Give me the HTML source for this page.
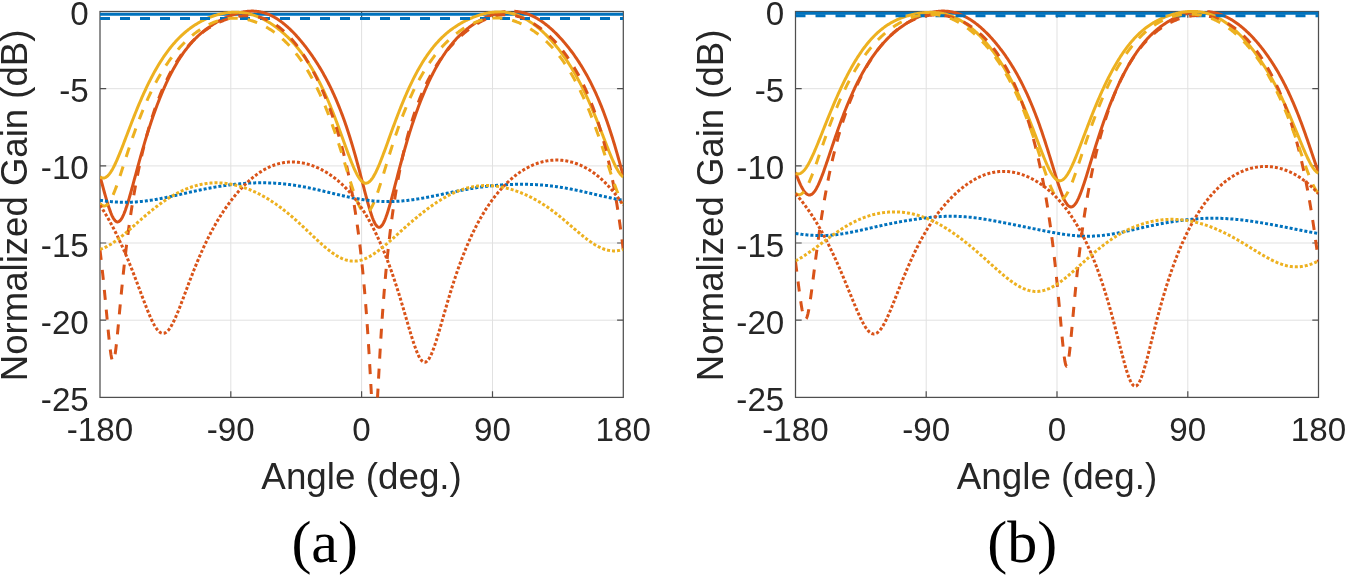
<!DOCTYPE html>
<html lang="en"><head><meta charset="utf-8"><title>Normalized Gain vs Angle</title>
<style>html,body{margin:0;padding:0;background:#fff;}body{width:1345px;height:575px;overflow:hidden;}svg{display:block;will-change:transform;}</style>
</head><body>
<svg role="img" aria-label="Normalized gain versus angle, panels (a) and (b)" width="1345" height="575" viewBox="0 0 1345 575">
<rect width="1345" height="575" fill="#fff"/>
<clipPath id="clip_a"><rect x="100.0" y="8.5" width="523.3" height="388.9"/></clipPath>
<path d="M230.8 11.5 V397.4 M361.6 11.5 V397.4 M492.5 11.5 V397.4 M100.0 88.7 H623.3 M100.0 165.9 H623.3 M100.0 243.0 H623.3 M100.0 320.2 H623.3" stroke="#E1E1E1" stroke-width="1" fill="none"/>
<path d="M230.8 397.4 v-6.2 M230.8 11.5 v6.2 M361.6 397.4 v-6.2 M361.6 11.5 v6.2 M492.5 397.4 v-6.2 M492.5 11.5 v6.2 M100.0 88.7 h6.2 M623.3 88.7 h-6.2 M100.0 165.9 h6.2 M623.3 165.9 h-6.2 M100.0 243.0 h6.2 M623.3 243.0 h-6.2 M100.0 320.2 h6.2 M623.3 320.2 h-6.2" stroke="#4f4f4f" stroke-width="1.2" fill="none"/>
<rect x="100.0" y="11.5" width="523.3" height="385.9" fill="none" stroke="#4f4f4f" stroke-width="1.25"/>
<g clip-path="url(#clip_a)" fill="none" stroke-width="3" stroke-linejoin="round">
<path d="M100.00 14.28 L623.30 14.28" stroke="#0072BD"/>
<path d="M100.00 176.13 L100.73 178.84 L101.45 181.55 L102.18 184.25 L102.91 186.94 L103.63 189.61 L104.36 192.26 L105.09 194.86 L105.81 197.42 L106.54 199.92 L107.27 202.35 L107.99 204.70 L108.72 206.95 L109.45 209.10 L110.18 211.13 L110.90 213.02 L111.63 214.77 L112.36 216.35 L113.08 217.76 L113.81 218.98 L114.54 220.00 L115.26 220.82 L115.99 221.42 L116.72 221.80 L117.44 221.95 L118.17 221.88 L118.90 221.59 L119.62 221.07 L120.35 220.33 L121.08 219.39 L121.80 218.25 L122.53 216.91 L123.26 215.41 L123.98 213.73 L124.71 211.91 L125.44 209.95 L126.16 207.86 L126.89 205.67 L127.62 203.38 L128.35 201.00 L129.07 198.55 L129.80 196.04 L130.53 193.47 L131.25 190.87 L131.98 188.23 L132.71 185.57 L133.43 182.89 L134.16 180.19 L134.89 177.50 L135.61 174.80 L136.34 172.10 L137.07 169.42 L137.79 166.74 L138.52 164.08 L139.25 161.44 L139.97 158.82 L140.70 156.22 L141.43 153.64 L142.15 151.09 L142.88 148.57 L143.61 146.07 L144.34 143.60 L145.06 141.16 L145.79 138.75 L146.52 136.37 L147.24 134.02 L147.97 131.70 L148.70 129.41 L149.42 127.15 L150.15 124.92 L150.88 122.73 L151.60 120.56 L152.33 118.43 L153.06 116.32 L153.78 114.25 L154.51 112.21 L155.24 110.20 L155.96 108.21 L156.69 106.26 L157.42 104.34 L158.14 102.44 L158.87 100.58 L159.60 98.74 L160.32 96.94 L161.05 95.16 L161.78 93.41 L162.51 91.68 L163.23 89.99 L163.96 88.32 L164.69 86.68 L165.41 85.07 L166.14 83.48 L166.87 81.92 L167.59 80.39 L168.32 78.88 L169.05 77.39 L169.77 75.94 L170.50 74.50 L171.23 73.10 L171.95 71.71 L172.68 70.35 L173.41 69.02 L174.13 67.71 L174.86 66.42 L175.59 65.16 L176.31 63.91 L177.04 62.70 L177.77 61.50 L178.50 60.33 L179.22 59.17 L179.95 58.04 L180.68 56.93 L181.40 55.85 L182.13 54.78 L182.86 53.73 L183.58 52.71 L184.31 51.70 L185.04 50.71 L185.76 49.74 L186.49 48.79 L187.22 47.86 L187.94 46.95 L188.67 46.06 L189.40 45.18 L190.12 44.33 L190.85 43.48 L191.58 42.66 L192.30 41.85 L193.03 41.06 L193.76 40.28 L194.48 39.52 L195.21 38.78 L195.94 38.05 L196.67 37.33 L197.39 36.63 L198.12 35.95 L198.85 35.27 L199.57 34.61 L200.30 33.97 L201.03 33.33 L201.75 32.71 L202.48 32.10 L203.21 31.50 L203.93 30.92 L204.66 30.34 L205.39 29.78 L206.11 29.23 L206.84 28.68 L207.57 28.15 L208.29 27.63 L209.02 27.12 L209.75 26.61 L210.47 26.12 L211.20 25.64 L211.93 25.16 L212.65 24.70 L213.38 24.24 L214.11 23.79 L214.84 23.35 L215.56 22.92 L216.29 22.49 L217.02 22.07 L217.74 21.66 L218.47 21.26 L219.20 20.87 L219.92 20.48 L220.65 20.10 L221.38 19.73 L222.10 19.36 L222.83 19.00 L223.56 18.65 L224.28 18.31 L225.01 17.97 L225.74 17.64 L226.46 17.31 L227.19 17.00 L227.92 16.69 L228.64 16.39 L229.37 16.09 L230.10 15.80 L230.82 15.52 L231.55 15.25 L232.28 14.98 L233.01 14.72 L233.73 14.47 L234.46 14.23 L235.19 13.99 L235.91 13.77 L236.64 13.55 L237.37 13.34 L238.09 13.13 L238.82 12.94 L239.55 12.76 L240.27 12.58 L241.00 12.41 L241.73 12.25 L242.45 12.11 L243.18 11.97 L243.91 11.84 L244.63 11.72 L245.36 11.61 L246.09 11.51 L246.81 11.42 L247.54 11.34 L248.27 11.27 L249.00 11.22 L249.72 11.17 L250.45 11.14 L251.18 11.12 L251.90 11.11 L252.63 11.11 L253.36 11.12 L254.08 11.15 L254.81 11.19 L255.54 11.24 L256.26 11.30 L256.99 11.38 L257.72 11.46 L258.44 11.57 L259.17 11.68 L259.90 11.81 L260.62 11.95 L261.35 12.11 L262.08 12.28 L262.80 12.46 L263.53 12.66 L264.26 12.87 L264.98 13.09 L265.71 13.33 L266.44 13.58 L267.17 13.85 L267.89 14.13 L268.62 14.42 L269.35 14.73 L270.07 15.05 L270.80 15.39 L271.53 15.74 L272.25 16.10 L272.98 16.48 L273.71 16.88 L274.43 17.28 L275.16 17.70 L275.89 18.14 L276.61 18.59 L277.34 19.05 L278.07 19.53 L278.79 20.02 L279.52 20.52 L280.25 21.04 L280.97 21.57 L281.70 22.11 L282.43 22.67 L283.15 23.24 L283.88 23.82 L284.61 24.42 L285.34 25.03 L286.06 25.65 L286.79 26.28 L287.52 26.93 L288.24 27.59 L288.97 28.26 L289.70 28.94 L290.42 29.64 L291.15 30.35 L291.88 31.07 L292.60 31.80 L293.33 32.54 L294.06 33.30 L294.78 34.06 L295.51 34.84 L296.24 35.63 L296.96 36.43 L297.69 37.24 L298.42 38.07 L299.14 38.90 L299.87 39.75 L300.60 40.61 L301.33 41.48 L302.05 42.36 L302.78 43.25 L303.51 44.15 L304.23 45.07 L304.96 45.99 L305.69 46.93 L306.41 47.88 L307.14 48.84 L307.87 49.82 L308.59 50.80 L309.32 51.80 L310.05 52.81 L310.77 53.83 L311.50 54.87 L312.23 55.91 L312.95 56.97 L313.68 58.05 L314.41 59.14 L315.13 60.24 L315.86 61.35 L316.59 62.48 L317.31 63.63 L318.04 64.79 L318.77 65.96 L319.50 67.15 L320.22 68.36 L320.95 69.58 L321.68 70.82 L322.40 72.08 L323.13 73.35 L323.86 74.65 L324.58 75.96 L325.31 77.29 L326.04 78.64 L326.76 80.01 L327.49 81.40 L328.22 82.81 L328.94 84.24 L329.67 85.69 L330.40 87.17 L331.12 88.67 L331.85 90.19 L332.58 91.74 L333.30 93.31 L334.03 94.91 L334.76 96.54 L335.49 98.19 L336.21 99.87 L336.94 101.57 L337.67 103.31 L338.39 105.07 L339.12 106.87 L339.85 108.69 L340.57 110.55 L341.30 112.43 L342.03 114.35 L342.75 116.30 L343.48 118.29 L344.21 120.31 L344.93 122.36 L345.66 124.45 L346.39 126.58 L347.11 128.74 L347.84 130.93 L348.57 133.17 L349.29 135.44 L350.02 137.74 L350.75 140.09 L351.47 142.47 L352.20 144.89 L352.93 147.34 L353.66 149.83 L354.38 152.36 L355.11 154.92 L355.84 157.52 L356.56 160.15 L357.29 162.81 L358.02 165.50 L358.74 168.22 L359.47 170.96 L360.20 173.72 L360.92 176.51 L361.65 179.31 L362.38 182.11 L363.10 184.92 L363.83 187.74 L364.56 190.54 L365.28 193.32 L366.01 196.08 L366.74 198.81 L367.46 201.50 L368.19 204.12 L368.92 206.68 L369.64 209.16 L370.37 211.54 L371.10 213.81 L371.83 215.96 L372.55 217.96 L373.28 219.81 L374.01 221.49 L374.73 222.97 L375.46 224.26 L376.19 225.33 L376.91 226.17 L377.64 226.78 L378.37 227.15 L379.09 227.28 L379.82 227.16 L380.55 226.79 L381.27 226.19 L382.00 225.35 L382.73 224.29 L383.45 223.01 L384.18 221.54 L384.91 219.87 L385.63 218.04 L386.36 216.05 L387.09 213.92 L387.81 211.67 L388.54 209.31 L389.27 206.85 L390.00 204.31 L390.72 201.70 L391.45 199.03 L392.18 196.32 L392.90 193.57 L393.63 190.79 L394.36 188.00 L395.08 185.20 L395.81 182.39 L396.54 179.58 L397.26 176.78 L397.99 173.98 L398.72 171.21 L399.44 168.45 L400.17 165.71 L400.90 162.99 L401.62 160.30 L402.35 157.64 L403.08 155.00 L403.80 152.39 L404.53 149.82 L405.26 147.27 L405.99 144.76 L406.71 142.28 L407.44 139.83 L408.17 137.41 L408.89 135.03 L409.62 132.68 L410.35 130.36 L411.07 128.08 L411.80 125.83 L412.53 123.61 L413.25 121.43 L413.98 119.27 L414.71 117.15 L415.43 115.06 L416.16 113.00 L416.89 110.97 L417.61 108.98 L418.34 107.01 L419.07 105.07 L419.79 103.16 L420.52 101.29 L421.25 99.44 L421.97 97.62 L422.70 95.83 L423.43 94.06 L424.16 92.33 L424.88 90.62 L425.61 88.94 L426.34 87.28 L427.06 85.65 L427.79 84.05 L428.52 82.47 L429.24 80.92 L429.97 79.40 L430.70 77.90 L431.42 76.42 L432.15 74.97 L432.88 73.55 L433.60 72.14 L434.33 70.76 L435.06 69.41 L435.78 68.08 L436.51 66.77 L437.24 65.48 L437.96 64.21 L438.69 62.97 L439.42 61.75 L440.14 60.55 L440.87 59.37 L441.60 58.22 L442.33 57.08 L443.05 55.97 L443.78 54.87 L444.51 53.80 L445.23 52.74 L445.96 51.71 L446.69 50.69 L447.41 49.69 L448.14 48.71 L448.87 47.75 L449.59 46.81 L450.32 45.89 L451.05 44.98 L451.77 44.09 L452.50 43.22 L453.23 42.37 L453.95 41.53 L454.68 40.71 L455.41 39.90 L456.13 39.11 L456.86 38.34 L457.59 37.58 L458.32 36.83 L459.04 36.10 L459.77 35.39 L460.50 34.69 L461.22 34.00 L461.95 33.33 L462.68 32.67 L463.40 32.02 L464.13 31.39 L464.86 30.77 L465.58 30.16 L466.31 29.56 L467.04 28.98 L467.76 28.41 L468.49 27.85 L469.22 27.30 L469.94 26.76 L470.67 26.23 L471.40 25.72 L472.12 25.21 L472.85 24.72 L473.58 24.23 L474.30 23.76 L475.03 23.29 L475.76 22.83 L476.49 22.39 L477.21 21.95 L477.94 21.52 L478.67 21.11 L479.39 20.70 L480.12 20.30 L480.85 19.90 L481.57 19.52 L482.30 19.15 L483.03 18.78 L483.75 18.42 L484.48 18.07 L485.21 17.73 L485.93 17.40 L486.66 17.08 L487.39 16.76 L488.11 16.46 L488.84 16.16 L489.57 15.87 L490.29 15.58 L491.02 15.31 L491.75 15.04 L492.47 14.79 L493.20 14.54 L493.93 14.29 L494.66 14.06 L495.38 13.84 L496.11 13.62 L496.84 13.42 L497.56 13.22 L498.29 13.03 L499.02 12.85 L499.74 12.68 L500.47 12.52 L501.20 12.36 L501.92 12.22 L502.65 12.09 L503.38 11.96 L504.10 11.85 L504.83 11.74 L505.56 11.65 M514.28 11.31 L515.01 11.36 L515.73 11.41 L516.46 11.48 L517.19 11.56 L517.91 11.65 L518.64 11.75 L519.37 11.86 L520.09 11.99 L520.82 12.12 L521.55 12.27 L522.27 12.44 L523.00 12.61 L523.73 12.80 L524.45 13.00 L525.18 13.21 L525.91 13.43 L526.63 13.67 L527.36 13.92 L528.09 14.18 L528.82 14.46 L529.54 14.74 L530.27 15.04 L531.00 15.35 L531.72 15.68 L532.45 16.02 L533.18 16.37 L533.90 16.73 L534.63 17.10 L535.36 17.49 L536.08 17.89 L536.81 18.30 L537.54 18.73 L538.26 19.16 L538.99 19.61 L539.72 20.07 L540.44 20.55 L541.17 21.03 L541.90 21.53 L542.62 22.04 L543.35 22.56 L544.08 23.09 L544.80 23.64 L545.53 24.19 L546.26 24.76 L546.99 25.34 L547.71 25.93 L548.44 26.53 L549.17 27.15 L549.89 27.77 L550.62 28.41 L551.35 29.06 L552.07 29.72 L552.80 30.39 L553.53 31.07 L554.25 31.76 L554.98 32.46 L555.71 33.18 L556.43 33.90 L557.16 34.64 L557.89 35.39 L558.61 36.14 L559.34 36.91 L560.07 37.69 L560.79 38.49 L561.52 39.29 L562.25 40.10 L562.98 40.93 L563.70 41.76 L564.43 42.61 L565.16 43.47 L565.88 44.34 L566.61 45.22 L567.34 46.12 L568.06 47.02 L568.79 47.94 L569.52 48.87 L570.24 49.82 L570.97 50.77 L571.70 51.74 L572.42 52.73 L573.15 53.72 L573.88 54.73 L574.60 55.75 L575.33 56.79 L576.06 57.84 L576.78 58.91 L577.51 59.99 L578.24 61.08 L578.96 62.19 L579.69 63.32 L580.42 64.47 L581.15 65.63 L581.87 66.80 L582.60 68.00 L583.33 69.21 L584.05 70.44 L584.78 71.69 L585.51 72.96 L586.23 74.25 L586.96 75.56 L587.69 76.88 L588.41 78.23 L589.14 79.60 L589.87 81.00 L590.59 82.41 L591.32 83.85 L592.05 85.31 L592.77 86.79 L593.50 88.30 L594.23 89.84 L594.95 91.40 L595.68 92.98 L596.41 94.59 L597.13 96.23 L597.86 97.90 L598.59 99.60 L599.32 101.32 L600.04 103.07 L600.77 104.86 L601.50 106.67 L602.22 108.51 L602.95 110.39 L603.68 112.29 L604.40 114.23 L605.13 116.20 L605.86 118.21 L606.58 120.25 L607.31 122.32 L608.04 124.42 L608.76 126.57 L609.49 128.74 L610.22 130.95 L610.94 133.19 L611.67 135.47 L612.40 137.79 L613.12 140.14 L613.85 142.52 L614.58 144.94 L615.31 147.39 L616.03 149.87 L616.76 152.38 L617.49 154.92 L618.21 157.50 L618.94 160.10 L619.67 162.72 L620.39 165.37 L621.12 168.04 L621.85 170.72 L622.57 173.42 L623.30 176.13" stroke="#D95319"/>
<path d="M100.00 177.02 L100.73 177.45 L101.45 177.78 L102.18 177.99 L102.91 178.08 L103.63 178.06 L104.36 177.93 L105.09 177.68 L105.81 177.31 L106.54 176.84 L107.27 176.25 L107.99 175.56 L108.72 174.77 L109.45 173.88 L110.18 172.89 L110.90 171.82 L111.63 170.65 L112.36 169.41 L113.08 168.10 L113.81 166.71 L114.54 165.26 L115.26 163.74 L115.99 162.17 L116.72 160.56 L117.44 158.89 L118.17 157.19 L118.90 155.45 L119.62 153.67 L120.35 151.87 L121.08 150.04 L121.80 148.20 L122.53 146.33 L123.26 144.45 L123.98 142.56 L124.71 140.66 L125.44 138.75 L126.16 136.84 L126.89 134.93 L127.62 133.02 L128.35 131.12 L129.07 129.21 L129.80 127.31 L130.53 125.42 L131.25 123.54 L131.98 121.67 L132.71 119.81 L133.43 117.96 L134.16 116.13 L134.89 114.30 L135.61 112.50 L136.34 110.70 L137.07 108.93 L137.79 107.17 L138.52 105.42 L139.25 103.70 L139.97 101.99 L140.70 100.30 L141.43 98.63 L142.15 96.97 L142.88 95.34 L143.61 93.72 L144.34 92.13 L145.06 90.55 L145.79 88.99 L146.52 87.45 L147.24 85.94 L147.97 84.44 L148.70 82.96 L149.42 81.50 L150.15 80.06 L150.88 78.64 L151.60 77.24 L152.33 75.86 L153.06 74.50 L153.78 73.16 L154.51 71.84 L155.24 70.54 L155.96 69.26 L156.69 68.00 L157.42 66.76 L158.14 65.53 L158.87 64.33 L159.60 63.14 L160.32 61.98 L161.05 60.83 L161.78 59.70 L162.51 58.59 L163.23 57.50 L163.96 56.42 L164.69 55.37 L165.41 54.33 L166.14 53.31 L166.87 52.31 L167.59 51.32 L168.32 50.35 L169.05 49.40 L169.77 48.47 L170.50 47.55 L171.23 46.65 L171.95 45.76 L172.68 44.89 L173.41 44.04 L174.13 43.20 L174.86 42.38 L175.59 41.57 L176.31 40.78 L177.04 40.00 L177.77 39.24 L178.50 38.49 L179.22 37.76 L179.95 37.04 L180.68 36.33 L181.40 35.64 L182.13 34.96 L182.86 34.29 L183.58 33.64 L184.31 33.00 L185.04 32.37 L185.76 31.76 L186.49 31.16 L187.22 30.57 L187.94 29.99 L188.67 29.42 L189.40 28.87 L190.12 28.32 L190.85 27.79 L191.58 27.27 L192.30 26.76 L193.03 26.25 L193.76 25.76 L194.48 25.28 L195.21 24.82 L195.94 24.36 L196.67 23.91 L197.39 23.47 L198.12 23.03 L198.85 22.61 L199.57 22.20 L200.30 21.80 L201.03 21.41 L201.75 21.02 L202.48 20.64 L203.21 20.28 L203.93 19.92 L204.66 19.57 L205.39 19.23 L206.11 18.90 L206.84 18.57 L207.57 18.25 L208.29 17.95 L209.02 17.65 L209.75 17.36 L210.47 17.07 L211.20 16.80 L211.93 16.53 L212.65 16.27 L213.38 16.02 L214.11 15.77 L214.84 15.54 L215.56 15.31 L216.29 15.09 L217.02 14.88 L217.74 14.68 L218.47 14.48 L219.20 14.29 L219.92 14.11 L220.65 13.94 L221.38 13.78 L222.10 13.62 L222.83 13.47 L223.56 13.34 L224.28 13.20 L225.01 13.08 L225.74 12.97 L226.46 12.86 L227.19 12.76 L227.92 12.67 L228.64 12.59 L229.37 12.52 L230.10 12.45 L230.82 12.40 L231.55 12.35 L232.28 12.31 L233.01 12.28 L233.73 12.26 L234.46 12.25 L235.19 12.24 L235.91 12.25 L236.64 12.26 L237.37 12.29 L238.09 12.32 L238.82 12.36 L239.55 12.41 L240.27 12.47 L241.00 12.54 L241.73 12.62 L242.45 12.71 L243.18 12.80 L243.91 12.91 L244.63 13.02 L245.36 13.15 L246.09 13.28 L246.81 13.43 L247.54 13.58 L248.27 13.74 L249.00 13.92 L249.72 14.10 L250.45 14.29 L251.18 14.49 L251.90 14.70 L252.63 14.92 L253.36 15.15 L254.08 15.39 L254.81 15.64 L255.54 15.90 L256.26 16.17 L256.99 16.44 L257.72 16.73 L258.44 17.03 L259.17 17.33 L259.90 17.65 L260.62 17.98 L261.35 18.31 L262.08 18.66 L262.80 19.01 L263.53 19.38 L264.26 19.75 L264.98 20.13 L265.71 20.53 L266.44 20.93 L267.17 21.34 L267.89 21.76 L268.62 22.20 L269.35 22.64 L270.07 23.09 L270.80 23.55 L271.53 24.02 L272.25 24.50 L272.98 24.99 L273.71 25.49 L274.43 26.00 L275.16 26.52 L275.89 27.05 L276.61 27.59 L277.34 28.14 L278.07 28.70 L278.79 29.27 L279.52 29.85 L280.25 30.45 L280.97 31.05 L281.70 31.66 L282.43 32.28 L283.15 32.92 L283.88 33.56 L284.61 34.22 L285.34 34.88 L286.06 35.56 L286.79 36.25 L287.52 36.95 L288.24 37.67 L288.97 38.39 L289.70 39.13 L290.42 39.87 L291.15 40.64 L291.88 41.41 L292.60 42.19 L293.33 42.99 L294.06 43.81 L294.78 44.63 L295.51 45.47 L296.24 46.32 L296.96 47.19 L297.69 48.07 L298.42 48.96 L299.14 49.87 L299.87 50.80 L300.60 51.73 L301.33 52.69 L302.05 53.66 L302.78 54.64 L303.51 55.65 L304.23 56.66 L304.96 57.70 L305.69 58.75 L306.41 59.82 L307.14 60.90 L307.87 62.01 L308.59 63.13 L309.32 64.27 L310.05 65.43 L310.77 66.60 L311.50 67.80 L312.23 69.01 L312.95 70.25 L313.68 71.50 L314.41 72.77 L315.13 74.07 L315.86 75.38 L316.59 76.72 L317.31 78.07 L318.04 79.45 L318.77 80.85 L319.50 82.27 L320.22 83.71 L320.95 85.17 L321.68 86.66 L322.40 88.16 L323.13 89.69 L323.86 91.24 L324.58 92.82 L325.31 94.41 L326.04 96.03 L326.76 97.67 L327.49 99.33 L328.22 101.02 L328.94 102.72 L329.67 104.45 L330.40 106.20 L331.12 107.97 L331.85 109.77 L332.58 111.58 L333.30 113.41 L334.03 115.27 L334.76 117.14 L335.49 119.03 L336.21 120.93 L336.94 122.86 L337.67 124.80 L338.39 126.75 L339.12 128.72 L339.85 130.70 L340.57 132.69 L341.30 134.69 L342.03 136.69 L342.75 138.71 L343.48 140.72 L344.21 142.73 L344.93 144.75 L345.66 146.75 L346.39 148.75 L347.11 150.74 L347.84 152.71 L348.57 154.67 L349.29 156.60 L350.02 158.51 L350.75 160.38 L351.47 162.22 L352.20 164.02 L352.93 165.77 L353.66 167.47 L354.38 169.12 L355.11 170.70 L355.84 172.21 L356.56 173.65 L357.29 175.00 L358.02 176.28 L358.74 177.45 L359.47 178.54 L360.20 179.52 L360.92 180.39 L361.65 181.15 L362.38 181.80 L363.10 182.33 L363.83 182.73 L364.56 183.01 L365.28 183.17 L366.01 183.19 L366.74 183.10 L367.46 182.87 L368.19 182.53 L368.92 182.06 L369.64 181.47 L370.37 180.76 L371.10 179.94 L371.83 179.02 L372.55 177.99 L373.28 176.86 L374.01 175.64 L374.73 174.33 L375.46 172.94 L376.19 171.47 L376.91 169.93 L377.64 168.33 L378.37 166.67 L379.09 164.96 L379.82 163.20 L380.55 161.39 L381.27 159.54 L382.00 157.67 L382.73 155.76 L383.45 153.82 L384.18 151.87 L384.91 149.90 L385.63 147.91 L386.36 145.91 L387.09 143.91 L387.81 141.90 L388.54 139.88 L389.27 137.87 L390.00 135.86 L390.72 133.85 L391.45 131.84 L392.18 129.85 L392.90 127.86 L393.63 125.89 L394.36 123.92 L395.08 121.97 L395.81 120.03 L396.54 118.11 L397.26 116.20 L397.99 114.31 L398.72 112.43 L399.44 110.57 L400.17 108.73 L400.90 106.91 L401.62 105.11 L402.35 103.33 L403.08 101.57 L403.80 99.83 L404.53 98.11 L405.26 96.41 L405.99 94.73 L406.71 93.07 L407.44 91.44 L408.17 89.82 L408.89 88.23 L409.62 86.66 L410.35 85.11 L411.07 83.58 L411.80 82.08 L412.53 80.59 L413.25 79.13 L413.98 77.69 L414.71 76.27 L415.43 74.87 L416.16 73.50 L416.89 72.15 L417.61 70.81 L418.34 69.50 L419.07 68.21 L419.79 66.95 L420.52 65.70 L421.25 64.47 L421.97 63.27 L422.70 62.08 L423.43 60.92 L424.16 59.77 L424.88 58.65 L425.61 57.55 L426.34 56.46 L427.06 55.40 L427.79 54.35 L428.52 53.33 L429.24 52.32 L429.97 51.33 L430.70 50.37 L431.42 49.41 L432.15 48.48 L432.88 47.57 L433.60 46.67 L434.33 45.79 L435.06 44.93 L435.78 44.08 L436.51 43.25 L437.24 42.44 L437.96 41.64 L438.69 40.86 L439.42 40.09 L440.14 39.34 L440.87 38.61 L441.60 37.89 L442.33 37.18 L443.05 36.49 L443.78 35.81 L444.51 35.14 L445.23 34.49 L445.96 33.86 L446.69 33.23 L447.41 32.62 L448.14 32.02 L448.87 31.43 L449.59 30.86 L450.32 30.29 L451.05 29.74 L451.77 29.20 L452.50 28.67 L453.23 28.15 L453.95 27.64 L454.68 27.14 L455.41 26.65 L456.13 26.17 L456.86 25.70 L457.59 25.24 L458.32 24.79 L459.04 24.35 L459.77 23.91 L460.50 23.49 L461.22 23.07 L461.95 22.67 L462.68 22.27 L463.40 21.87 L464.13 21.49 L464.86 21.12 L465.58 20.75 L466.31 20.39 L467.04 20.04 L467.76 19.69 L468.49 19.35 L469.22 19.02 L469.94 18.70 L470.67 18.38 L471.40 18.08 L472.12 17.77 L472.85 17.48 L473.58 17.19 L474.30 16.91 L475.03 16.64 L475.76 16.37 L476.49 16.11 L477.21 15.86 L477.94 15.62 L478.67 15.38 L479.39 15.15 L480.12 14.92 L480.85 14.71 L481.57 14.50 L482.30 14.30 L483.03 14.10 L483.75 13.91 L484.48 13.74 L485.21 13.56 L485.93 13.40 L486.66 13.24 L487.39 13.10 L488.11 12.96 L488.84 12.82 L489.57 12.70 L490.29 12.59 L491.02 12.48 L491.75 12.38 L492.47 12.29 L493.20 12.21 L493.93 12.14 L494.66 12.08 L495.38 12.02 L496.11 11.98 L496.84 11.94 L497.56 11.92 L498.29 11.90 L499.02 11.89 L499.74 11.90 L500.47 11.91 L501.20 11.93 L501.92 11.97 L502.65 12.01 L503.38 12.07 L504.10 12.13 L504.83 12.21 L505.56 12.29 L506.28 12.39 L507.01 12.49 L507.74 12.61 L508.46 12.74 L509.19 12.88 L509.92 13.03 L510.65 13.19 L511.37 13.37 L512.10 13.55 L512.83 13.75 L513.55 13.96 L514.28 14.17 L515.01 14.40 L515.73 14.65 L516.46 14.90 L517.19 15.16 L517.91 15.44 L518.64 15.73 L519.37 16.03 L520.09 16.34 L520.82 16.66 L521.55 16.99 L522.27 17.34 L523.00 17.70 L523.73 18.06 L524.45 18.44 L525.18 18.84 L525.91 19.24 L526.63 19.65 L527.36 20.08 L528.09 20.52 L528.82 20.97 L529.54 21.43 L530.27 21.90 L531.00 22.38 L531.72 22.88 L532.45 23.39 L533.18 23.90 L533.90 24.43 L534.63 24.97 L535.36 25.52 L536.08 26.09 L536.81 26.66 L537.54 27.25 L538.26 27.84 L538.99 28.45 L539.72 29.07 L540.44 29.70 L541.17 30.34 L541.90 30.99 L542.62 31.66 L543.35 32.33 L544.08 33.02 L544.80 33.72 L545.53 34.43 L546.26 35.15 L546.99 35.88 L547.71 36.62 L548.44 37.38 L549.17 38.14 L549.89 38.92 L550.62 39.71 L551.35 40.51 L552.07 41.32 L552.80 42.15 L553.53 42.99 L554.25 43.83 L554.98 44.70 L555.71 45.57 L556.43 46.45 L557.16 47.35 L557.89 48.26 L558.61 49.19 L559.34 50.12 L560.07 51.07 L560.79 52.04 L561.52 53.01 L562.25 54.00 L562.98 55.01 L563.70 56.03 L564.43 57.06 L565.16 58.10 L565.88 59.16 L566.61 60.24 L567.34 61.33 L568.06 62.44 L568.79 63.56 L569.52 64.69 L570.24 65.84 L570.97 67.01 L571.70 68.20 L572.42 69.40 L573.15 70.61 L573.88 71.85 L574.60 73.10 L575.33 74.37 L576.06 75.65 L576.78 76.95 L577.51 78.27 L578.24 79.61 L578.96 80.97 L579.69 82.34 L580.42 83.74 L581.15 85.15 L581.87 86.58 L582.60 88.03 L583.33 89.50 L584.05 90.99 L584.78 92.49 L585.51 94.02 L586.23 95.56 L586.96 97.13 L587.69 98.71 L588.41 100.32 L589.14 101.94 L589.87 103.58 L590.59 105.24 L591.32 106.92 L592.05 108.61 L592.77 110.33 L593.50 112.06 L594.23 113.80 L594.95 115.57 L595.68 117.35 L596.41 119.15 L597.13 120.96 L597.86 122.78 L598.59 124.61 L599.32 126.46 L600.04 128.32 L600.77 130.18 L601.50 132.06 L602.22 133.94 L602.95 135.82 L603.68 137.70 L604.40 139.59 L605.13 141.47 L605.86 143.35 L606.58 145.22 L607.31 147.08 L608.04 148.92 L608.76 150.75 L609.49 152.56 L610.22 154.34 L610.94 156.09 L611.67 157.82 L612.40 159.50 L613.12 161.15 L613.85 162.74 L614.58 164.29 L615.31 165.78 L616.03 167.21 L616.76 168.57 L617.49 169.86 L618.21 171.07 L618.94 172.20 L619.67 173.25 L620.39 174.20 L621.12 175.06 L621.85 175.82 L622.57 176.47 L623.30 177.02" stroke="#EDB120"/>
<path d="M100.00 18.60 L623.30 18.60" stroke="#0072BD" stroke-dasharray="10 10"/>
<path d="M100.00 250.05 L100.73 256.18 L101.45 262.53 L102.18 269.10 L102.91 275.90 L103.63 282.93 L104.36 290.18 L105.09 297.61 L105.81 305.22 L106.54 312.92 L107.27 320.66 L107.99 328.31 L108.72 335.73 L109.45 342.69 L110.18 348.96 L110.90 354.24 L111.63 358.24 L112.36 360.69 L113.08 361.40 L113.81 360.32 L114.54 357.54 L115.26 353.25 L115.99 347.72 L116.72 341.27 L117.44 334.18 L118.17 326.67 L118.90 318.97 L119.62 311.20 L120.35 303.47 L121.08 295.87 L121.80 288.43 L122.53 281.19 L123.26 274.17 L123.98 267.38 L124.71 260.81 L125.44 254.47 L126.16 248.35 L126.89 242.44 L127.62 236.74 L128.35 231.23 L129.07 225.91 L129.80 220.77 L130.53 215.80 L131.25 210.98 L131.98 206.32 L132.71 201.81 L133.43 197.43 L134.16 193.19 L134.89 189.07 L135.61 185.07 L136.34 181.19 L137.07 177.41 L137.79 173.74 L138.52 170.16 L139.25 166.68 L139.97 163.29 L140.70 159.99 L141.43 156.77 L142.15 153.63 L142.88 150.57 L143.61 147.58 L144.34 144.66 L145.06 141.81 L145.79 139.03 L146.52 136.31 L147.24 133.65 L147.97 131.05 L148.70 128.51 L149.42 126.02 L150.15 123.59 L150.88 121.21 L151.60 118.88 L152.33 116.60 L153.06 114.37 L153.78 112.18 L154.51 110.04 L155.24 107.94 L155.96 105.89 L156.69 103.88 L157.42 101.91 L158.14 99.97 L158.87 98.08 L159.60 96.22 L160.32 94.41 L161.05 92.62 L161.78 90.87 L162.51 89.16 L163.23 87.48 L163.96 85.83 L164.69 84.22 L165.41 82.64 L166.14 81.09 L166.87 79.56 L167.59 78.07 L168.32 76.61 L169.05 75.17 L169.77 73.77 L170.50 72.39 L171.23 71.04 L171.95 69.71 L172.68 68.41 L173.41 67.14 L174.13 65.89 L174.86 64.66 L175.59 63.46 L176.31 62.28 L177.04 61.13 L177.77 60.00 L178.50 58.89 L179.22 57.80 L179.95 56.74 L180.68 55.69 L181.40 54.67 L182.13 53.66 L182.86 52.68 L183.58 51.72 L184.31 50.77 L185.04 49.85 L185.76 48.94 L186.49 48.05 L187.22 47.18 L187.94 46.32 L188.67 45.49 L189.40 44.67 L190.12 43.86 L190.85 43.08 L191.58 42.30 L192.30 41.55 L193.03 40.81 L193.76 40.08 L194.48 39.37 L195.21 38.68 L195.94 37.99 L196.67 37.33 L197.39 36.67 L198.12 36.03 L198.85 35.40 L199.57 34.79 L200.30 34.19 L201.03 33.60 L201.75 33.02 L202.48 32.45 L203.21 31.90 L203.93 31.36 L204.66 30.82 L205.39 30.30 L206.11 29.80 L206.84 29.30 L207.57 28.81 L208.29 28.33 L209.02 27.86 L209.75 27.41 L210.47 26.96 L211.20 26.52 L211.93 26.09 L212.65 25.68 L213.38 25.27 L214.11 24.87 L214.84 24.47 L215.56 24.09 L216.29 23.72 L217.02 23.35 L217.74 23.00 L218.47 22.65 L219.20 22.31 L219.92 21.98 L220.65 21.66 L221.38 21.35 L222.10 21.04 L222.83 20.75 L223.56 20.46 L224.28 20.18 L225.01 19.90 L225.74 19.64 L226.46 19.38 L227.19 19.14 L227.92 18.90 L228.64 18.66 L229.37 18.44 L230.10 18.22 L230.82 18.02 L231.55 17.82 L232.28 17.63 L233.01 17.45 L233.73 17.27 L234.46 17.11 L235.19 16.95 L235.91 16.80 L236.64 16.66 L237.37 16.53 L238.09 16.41 L238.82 16.29 L239.55 16.19 L240.27 16.09 L241.00 16.01 L241.73 15.93 L242.45 15.86 L243.18 15.80 L243.91 15.75 L244.63 15.71 L245.36 15.69 L246.09 15.67 L246.81 15.66 L247.54 15.66 L248.27 15.67 L249.00 15.69 L249.72 15.72 L250.45 15.76 L251.18 15.81 L251.90 15.88 L252.63 15.95 L253.36 16.04 L254.08 16.13 L254.81 16.24 L255.54 16.36 L256.26 16.49 L256.99 16.63 L257.72 16.79 L258.44 16.95 L259.17 17.13 L259.90 17.32 L260.62 17.53 L261.35 17.74 L262.08 17.97 L262.80 18.21 L263.53 18.46 L264.26 18.73 L264.98 19.01 L265.71 19.30 L266.44 19.61 L267.17 19.93 L267.89 20.26 L268.62 20.61 L269.35 20.97 L270.07 21.34 L270.80 21.73 L271.53 22.13 L272.25 22.55 L272.98 22.98 L273.71 23.42 L274.43 23.88 L275.16 24.35 L275.89 24.84 L276.61 25.34 L277.34 25.86 L278.07 26.39 L278.79 26.94 L279.52 27.50 L280.25 28.08 L280.97 28.67 L281.70 29.28 L282.43 29.90 L283.15 30.54 L283.88 31.19 L284.61 31.86 L285.34 32.55 L286.06 33.25 L286.79 33.96 L287.52 34.69 L288.24 35.44 L288.97 36.20 L289.70 36.98 L290.42 37.78 L291.15 38.59 L291.88 39.42 L292.60 40.26 L293.33 41.12 L294.06 42.00 L294.78 42.89 L295.51 43.80 L296.24 44.72 L296.96 45.67 L297.69 46.63 L298.42 47.60 L299.14 48.60 L299.87 49.61 L300.60 50.63 L301.33 51.68 L302.05 52.74 L302.78 53.82 L303.51 54.91 L304.23 56.03 L304.96 57.16 L305.69 58.31 L306.41 59.48 L307.14 60.67 L307.87 61.88 L308.59 63.10 L309.32 64.34 L310.05 65.61 L310.77 66.89 L311.50 68.19 L312.23 69.51 L312.95 70.85 L313.68 72.22 L314.41 73.60 L315.13 75.00 L315.86 76.43 L316.59 77.88 L317.31 79.35 L318.04 80.84 L318.77 82.35 L319.50 83.89 L320.22 85.46 L320.95 87.04 L321.68 88.65 L322.40 90.29 L323.13 91.95 L323.86 93.64 L324.58 95.36 L325.31 97.11 L326.04 98.88 L326.76 100.68 L327.49 102.52 L328.22 104.38 L328.94 106.28 L329.67 108.21 L330.40 110.17 L331.12 112.17 L331.85 114.20 L332.58 116.28 L333.30 118.39 L334.03 120.54 L334.76 122.73 L335.49 124.96 L336.21 127.24 L336.94 129.57 L337.67 131.94 L338.39 134.36 L339.12 136.83 L339.85 139.36 L340.57 141.95 L341.30 144.59 L342.03 147.29 L342.75 150.06 L343.48 152.89 L344.21 155.79 L344.93 158.76 L345.66 161.82 L346.39 164.95 L347.11 168.16 L347.84 171.47 L348.57 174.86 L349.29 178.36 L350.02 181.96 L350.75 185.67 L351.47 189.49 L352.20 193.44 L352.93 197.52 L353.66 201.74 L354.38 206.10 L355.11 210.63 L355.84 215.32 L356.56 220.19 L357.29 225.26 L358.02 230.54 L358.74 236.04 L359.47 241.78 L360.20 247.78 L360.92 254.07 L361.65 260.66 L362.38 267.59 L363.10 274.89 L363.83 282.59 L364.56 290.72 L365.28 299.33 L366.01 308.46 L366.74 318.15 L367.46 328.46 L368.19 339.40 L368.92 351.00 L369.64 363.23 L370.37 375.99 L371.10 389.05 L371.83 401.93 L372.55 413.84 L373.28 423.59 L374.01 429.75 L374.73 431.10 L375.46 427.33 L376.19 419.20 L376.91 408.07 L377.64 395.32 L378.37 381.98 L379.09 368.71 L379.82 355.84 L380.55 343.57 L381.27 331.95 L382.00 320.98 L382.73 310.64 L383.45 300.90 L384.18 291.71 L384.91 283.03 L385.63 274.80 L386.36 267.01 L387.09 259.61 L387.81 252.56 L388.54 245.84 L389.27 239.43 L390.00 233.30 L390.72 227.43 L391.45 221.80 L392.18 216.39 L392.90 211.19 L393.63 206.19 L394.36 201.37 L395.08 196.73 L395.81 192.24 L396.54 187.91 L397.26 183.72 L397.99 179.66 L398.72 175.74 L399.44 171.94 L400.17 168.25 L400.90 164.68 L401.62 161.20 L402.35 157.83 L403.08 154.56 L403.80 151.38 L404.53 148.28 L405.26 145.27 L405.99 142.34 L406.71 139.49 L407.44 136.71 L408.17 134.00 L408.89 131.36 L409.62 128.79 L410.35 126.28 L411.07 123.83 L411.80 121.45 L412.53 119.12 L413.25 116.85 L413.98 114.63 L414.71 112.46 L415.43 110.34 L416.16 108.27 L416.89 106.25 L417.61 104.28 L418.34 102.35 L419.07 100.46 L419.79 98.61 L420.52 96.81 L421.25 95.04 L421.97 93.31 L422.70 91.62 L423.43 89.96 L424.16 88.34 L424.88 86.76 L425.61 85.20 L426.34 83.68 L427.06 82.19 L427.79 80.73 L428.52 79.30 L429.24 77.90 L429.97 76.53 L430.70 75.18 L431.42 73.86 L432.15 72.57 L432.88 71.30 L433.60 70.05 L434.33 68.83 L435.06 67.63 L435.78 66.45 L436.51 65.30 L437.24 64.16 L437.96 63.05 L438.69 61.96 L439.42 60.88 L440.14 59.83 L440.87 58.79 L441.60 57.78 L442.33 56.77 L443.05 55.79 L443.78 54.82 L444.51 53.87 L445.23 52.94 L445.96 52.02 L446.69 51.11 L447.41 50.23 L448.14 49.35 L448.87 48.49 L449.59 47.64 L450.32 46.81 L451.05 45.99 L451.77 45.18 L452.50 44.38 L453.23 43.60 L453.95 42.83 L454.68 42.07 L455.41 41.32 L456.13 40.59 L456.86 39.86 L457.59 39.15 L458.32 38.44 L459.04 37.75 L459.77 37.07 L460.50 36.40 L461.22 35.74 L461.95 35.09 L462.68 34.45 L463.40 33.82 L464.13 33.20 L464.86 32.59 L465.58 31.98 L466.31 31.39 L467.04 30.81 L467.76 30.24 L468.49 29.68 L469.22 29.13 L469.94 28.58 L470.67 28.05 L471.40 27.53 L472.12 27.01 L472.85 26.51 L473.58 26.02 L474.30 25.53 L475.03 25.06 L475.76 24.59 L476.49 24.13 L477.21 23.69 L477.94 23.25 L478.67 22.83 L479.39 22.41 L480.12 22.01 L480.85 21.61 L481.57 21.22 L482.30 20.85 L483.03 20.48 L483.75 20.13 L484.48 19.79 L485.21 19.45 L485.93 19.13 L486.66 18.82 L487.39 18.52 L488.11 18.23 L488.84 17.95 L489.57 17.68 L490.29 17.42 L491.02 17.18 L491.75 16.94 L492.47 16.72 L493.20 16.51 L493.93 16.31 L494.66 16.12 L495.38 15.94 L496.11 15.78 L496.84 15.62 L497.56 15.48 L498.29 15.35 L499.02 15.23 L499.74 15.13 L500.47 15.03 L501.20 14.95 L501.92 14.88 L502.65 14.82 L503.38 14.78 L504.10 14.74 L504.83 14.72 L505.56 14.71 L506.28 14.72 L507.01 14.73 L507.74 14.76 L508.46 14.80 L509.19 14.85 L509.92 14.92 L510.65 14.99 L511.37 15.08 L512.10 15.18 L512.83 15.30 L513.55 15.42 L514.28 15.56 L515.01 15.71 L515.73 15.87 L516.46 16.05 L517.19 16.23 L517.91 16.43 L518.64 16.64 L519.37 16.86 L520.09 17.10 L520.82 17.34 L521.55 17.60 L522.27 17.87 L523.00 18.15 L523.73 18.44 L524.45 18.75 L525.18 19.06 L525.91 19.39 L526.63 19.73 L527.36 20.08 L528.09 20.44 L528.82 20.81 L529.54 21.19 L530.27 21.59 L531.00 22.00 L531.72 22.41 L532.45 22.84 L533.18 23.28 L533.90 23.73 L534.63 24.19 L535.36 24.66 L536.08 25.15 L536.81 25.64 L537.54 26.15 L538.26 26.66 L538.99 27.19 L539.72 27.73 L540.44 28.28 L541.17 28.84 L541.90 29.41 L542.62 29.99 L543.35 30.58 L544.08 31.18 L544.80 31.80 L545.53 32.42 L546.26 33.06 L546.99 33.71 L547.71 34.37 L548.44 35.04 L549.17 35.72 L549.89 36.41 L550.62 37.12 L551.35 37.84 L552.07 38.57 L552.80 39.31 L553.53 40.06 L554.25 40.83 L554.98 41.60 L555.71 42.39 L556.43 43.20 L557.16 44.01 L557.89 44.84 L558.61 45.69 L559.34 46.54 L560.07 47.41 L560.79 48.30 L561.52 49.20 L562.25 50.11 L562.98 51.04 L563.70 51.98 L564.43 52.94 L565.16 53.92 L565.88 54.91 L566.61 55.92 L567.34 56.94 L568.06 57.98 L568.79 59.04 L569.52 60.11 L570.24 61.21 L570.97 62.32 L571.70 63.45 L572.42 64.60 L573.15 65.78 L573.88 66.97 L574.60 68.18 L575.33 69.41 L576.06 70.67 L576.78 71.94 L577.51 73.24 L578.24 74.56 L578.96 75.91 L579.69 77.28 L580.42 78.68 L581.15 80.10 L581.87 81.55 L582.60 83.02 L583.33 84.52 L584.05 86.05 L584.78 87.61 L585.51 89.20 L586.23 90.82 L586.96 92.47 L587.69 94.15 L588.41 95.86 L589.14 97.61 L589.87 99.40 L590.59 101.21 L591.32 103.07 L592.05 104.96 L592.77 106.89 L593.50 108.86 L594.23 110.88 L594.95 112.93 L595.68 115.03 L596.41 117.17 L597.13 119.36 L597.86 121.59 L598.59 123.88 L599.32 126.21 L600.04 128.60 L600.77 131.04 L601.50 133.54 L602.22 136.09 L602.95 138.71 L603.68 141.38 L604.40 144.12 L605.13 146.93 L605.86 149.81 L606.58 152.76 L607.31 155.78 L608.04 158.88 L608.76 162.06 L609.49 165.33 L610.22 168.68 L610.94 172.13 L611.67 175.67 L612.40 179.32 L613.12 183.07 L613.85 186.92 L614.58 190.90 L615.31 194.99 L616.03 199.22 L616.76 203.57 L617.49 208.07 L618.21 212.72 L618.94 217.52 L619.67 222.48 L620.39 227.62 L621.12 232.93 L621.85 238.44 L622.57 244.14 L623.30 250.05" stroke="#D95319" stroke-dasharray="10 10"/>
<path d="M100.00 203.38 L100.73 204.19 L101.45 204.86 L102.18 205.38 L102.91 205.74 L103.63 205.94 L104.36 205.98 L105.09 205.86 L105.81 205.58 L106.54 205.14 L107.27 204.55 L107.99 203.80 L108.72 202.91 L109.45 201.89 L110.18 200.73 L110.90 199.44 L111.63 198.04 L112.36 196.53 L113.08 194.91 L113.81 193.21 L114.54 191.42 L115.26 189.55 L115.99 187.62 L116.72 185.62 L117.44 183.57 L118.17 181.48 L118.90 179.35 L119.62 177.18 L120.35 174.99 L121.08 172.77 L121.80 170.54 L122.53 168.29 L123.26 166.04 L123.98 163.78 L124.71 161.52 L125.44 159.27 L126.16 157.02 L126.89 154.78 L127.62 152.54 L128.35 150.32 L129.07 148.12 L129.80 145.93 L130.53 143.75 L131.25 141.60 L131.98 139.46 L132.71 137.35 L133.43 135.26 L134.16 133.19 L134.89 131.14 L135.61 129.11 L136.34 127.11 L137.07 125.14 L137.79 123.18 L138.52 121.26 L139.25 119.35 L139.97 117.47 L140.70 115.62 L141.43 113.79 L142.15 111.99 L142.88 110.21 L143.61 108.45 L144.34 106.72 L145.06 105.02 L145.79 103.34 L146.52 101.68 L147.24 100.05 L147.97 98.44 L148.70 96.85 L149.42 95.29 L150.15 93.75 L150.88 92.23 L151.60 90.74 L152.33 89.27 L153.06 87.82 L153.78 86.39 L154.51 84.99 L155.24 83.60 L155.96 82.24 L156.69 80.89 L157.42 79.57 L158.14 78.27 L158.87 76.99 L159.60 75.72 L160.32 74.48 L161.05 73.26 L161.78 72.05 L162.51 70.86 L163.23 69.69 L163.96 68.54 L164.69 67.41 L165.41 66.30 L166.14 65.20 L166.87 64.12 L167.59 63.05 L168.32 62.01 L169.05 60.98 L169.77 59.96 L170.50 58.96 L171.23 57.98 L171.95 57.01 L172.68 56.06 L173.41 55.12 L174.13 54.20 L174.86 53.29 L175.59 52.40 L176.31 51.52 L177.04 50.65 L177.77 49.80 L178.50 48.96 L179.22 48.14 L179.95 47.33 L180.68 46.53 L181.40 45.75 L182.13 44.97 L182.86 44.21 L183.58 43.47 L184.31 42.73 L185.04 42.01 L185.76 41.30 L186.49 40.60 L187.22 39.92 L187.94 39.24 L188.67 38.58 L189.40 37.93 L190.12 37.29 L190.85 36.66 L191.58 36.05 L192.30 35.44 L193.03 34.85 L193.76 34.26 L194.48 33.69 L195.21 33.13 L195.94 32.58 L196.67 32.04 L197.39 31.51 L198.12 30.99 L198.85 30.48 L199.57 29.99 L200.30 29.50 L201.03 29.02 L201.75 28.56 L202.48 28.10 L203.21 27.66 L203.93 27.22 L204.66 26.80 L205.39 26.38 L206.11 25.98 L206.84 25.59 L207.57 25.20 L208.29 24.83 L209.02 24.47 L209.75 24.11 L210.47 23.77 L211.20 23.44 L211.93 23.12 L212.65 22.81 L213.38 22.50 L214.11 22.21 L214.84 21.93 L215.56 21.66 L216.29 21.40 L217.02 21.15 L217.74 20.91 L218.47 20.68 L219.20 20.45 L219.92 20.24 L220.65 20.04 L221.38 19.85 L222.10 19.67 L222.83 19.50 L223.56 19.34 L224.28 19.19 L225.01 19.05 L225.74 18.92 L226.46 18.80 L227.19 18.69 L227.92 18.59 L228.64 18.50 L229.37 18.42 L230.10 18.35 L230.82 18.29 L231.55 18.24 L232.28 18.20 L233.01 18.17 L233.73 18.15 L234.46 18.14 L235.19 18.14 L235.91 18.15 L236.64 18.17 L237.37 18.19 L238.09 18.23 L238.82 18.28 L239.55 18.34 L240.27 18.41 L241.00 18.48 L241.73 18.57 L242.45 18.67 L243.18 18.77 L243.91 18.89 L244.63 19.01 L245.36 19.15 L246.09 19.29 L246.81 19.45 L247.54 19.61 L248.27 19.78 L249.00 19.97 L249.72 20.16 L250.45 20.36 L251.18 20.57 L251.90 20.79 L252.63 21.02 L253.36 21.26 L254.08 21.51 L254.81 21.76 L255.54 22.03 L256.26 22.31 L256.99 22.59 L257.72 22.89 L258.44 23.19 L259.17 23.51 L259.90 23.83 L260.62 24.16 L261.35 24.51 L262.08 24.86 L262.80 25.22 L263.53 25.59 L264.26 25.97 L264.98 26.37 L265.71 26.77 L266.44 27.18 L267.17 27.60 L267.89 28.03 L268.62 28.47 L269.35 28.92 L270.07 29.38 L270.80 29.85 L271.53 30.33 L272.25 30.83 L272.98 31.33 L273.71 31.84 L274.43 32.37 L275.16 32.90 L275.89 33.45 L276.61 34.00 L277.34 34.57 L278.07 35.15 L278.79 35.74 L279.52 36.35 L280.25 36.96 L280.97 37.59 L281.70 38.23 L282.43 38.88 L283.15 39.54 L283.88 40.22 L284.61 40.91 L285.34 41.61 L286.06 42.32 L286.79 43.05 L287.52 43.79 L288.24 44.55 L288.97 45.32 L289.70 46.10 L290.42 46.90 L291.15 47.71 L291.88 48.54 L292.60 49.38 L293.33 50.23 L294.06 51.11 L294.78 51.99 L295.51 52.90 L296.24 53.82 L296.96 54.75 L297.69 55.70 L298.42 56.67 L299.14 57.66 L299.87 58.66 L300.60 59.68 L301.33 60.72 L302.05 61.78 L302.78 62.85 L303.51 63.94 L304.23 65.05 L304.96 66.18 L305.69 67.33 L306.41 68.50 L307.14 69.69 L307.87 70.90 L308.59 72.12 L309.32 73.37 L310.05 74.64 L310.77 75.93 L311.50 77.24 L312.23 78.58 L312.95 79.93 L313.68 81.31 L314.41 82.71 L315.13 84.13 L315.86 85.57 L316.59 87.04 L317.31 88.53 L318.04 90.05 L318.77 91.59 L319.50 93.15 L320.22 94.74 L320.95 96.35 L321.68 97.98 L322.40 99.64 L323.13 101.33 L323.86 103.04 L324.58 104.78 L325.31 106.54 L326.04 108.33 L326.76 110.15 L327.49 111.99 L328.22 113.86 L328.94 115.75 L329.67 117.67 L330.40 119.62 L331.12 121.60 L331.85 123.60 L332.58 125.63 L333.30 127.68 L334.03 129.76 L334.76 131.87 L335.49 134.00 L336.21 136.15 L336.94 138.34 L337.67 140.54 L338.39 142.77 L339.12 145.02 L339.85 147.30 L340.57 149.59 L341.30 151.91 L342.03 154.24 L342.75 156.58 L343.48 158.95 L344.21 161.32 L344.93 163.70 L345.66 166.09 L346.39 168.49 L347.11 170.88 L347.84 173.28 L348.57 175.66 L349.29 178.03 L350.02 180.39 L350.75 182.72 L351.47 185.03 L352.20 187.30 L352.93 189.52 L353.66 191.70 L354.38 193.82 L355.11 195.88 L355.84 197.86 L356.56 199.76 L357.29 201.56 L358.02 203.26 L358.74 204.85 L359.47 206.32 L360.20 207.66 L360.92 208.85 L361.65 209.90 L362.38 210.79 L363.10 211.52 L363.83 212.09 L364.56 212.47 L365.28 212.69 L366.01 212.72 L366.74 212.58 L367.46 212.26 L368.19 211.77 L368.92 211.10 L369.64 210.28 L370.37 209.29 L371.10 208.15 L371.83 206.86 L372.55 205.45 L373.28 203.90 L374.01 202.24 L374.73 200.47 L375.46 198.61 L376.19 196.66 L376.91 194.63 L377.64 192.53 L378.37 190.37 L379.09 188.15 L379.82 185.90 L380.55 183.60 L381.27 181.28 L382.00 178.93 L382.73 176.56 L383.45 174.18 L384.18 171.78 L384.91 169.39 L385.63 166.99 L386.36 164.60 L387.09 162.22 L387.81 159.84 L388.54 157.48 L389.27 155.13 L390.00 152.80 L390.72 150.48 L391.45 148.19 L392.18 145.91 L392.90 143.66 L393.63 141.43 L394.36 139.23 L395.08 137.05 L395.81 134.89 L396.54 132.77 L397.26 130.66 L397.99 128.59 L398.72 126.54 L399.44 124.52 L400.17 122.53 L400.90 120.56 L401.62 118.62 L402.35 116.71 L403.08 114.82 L403.80 112.97 L404.53 111.14 L405.26 109.33 L405.99 107.55 L406.71 105.80 L407.44 104.08 L408.17 102.38 L408.89 100.71 L409.62 99.06 L410.35 97.44 L411.07 95.84 L411.80 94.27 L412.53 92.72 L413.25 91.20 L413.98 89.70 L414.71 88.23 L415.43 86.77 L416.16 85.34 L416.89 83.94 L417.61 82.55 L418.34 81.19 L419.07 79.85 L419.79 78.52 L420.52 77.23 L421.25 75.95 L421.97 74.69 L422.70 73.45 L423.43 72.23 L424.16 71.03 L424.88 69.85 L425.61 68.69 L426.34 67.55 L427.06 66.43 L427.79 65.32 L428.52 64.23 L429.24 63.16 L429.97 62.11 L430.70 61.07 L431.42 60.05 L432.15 59.05 L432.88 58.06 L433.60 57.09 L434.33 56.14 L435.06 55.20 L435.78 54.27 L436.51 53.36 L437.24 52.47 L437.96 51.59 L438.69 50.72 L439.42 49.87 L440.14 49.03 L440.87 48.20 L441.60 47.39 L442.33 46.59 L443.05 45.81 L443.78 45.04 L444.51 44.28 L445.23 43.53 L445.96 42.80 L446.69 42.07 L447.41 41.36 L448.14 40.67 L448.87 39.98 L449.59 39.31 L450.32 38.64 L451.05 37.99 L451.77 37.35 L452.50 36.72 L453.23 36.11 L453.95 35.50 L454.68 34.90 L455.41 34.32 L456.13 33.75 L456.86 33.18 L457.59 32.63 L458.32 32.09 L459.04 31.56 L459.77 31.04 L460.50 30.53 L461.22 30.03 L461.95 29.54 L462.68 29.06 L463.40 28.59 L464.13 28.13 L464.86 27.68 L465.58 27.25 L466.31 26.82 L467.04 26.40 L467.76 25.99 L468.49 25.59 L469.22 25.21 L469.94 24.83 L470.67 24.46 L471.40 24.10 L472.12 23.76 L472.85 23.42 L473.58 23.09 L474.30 22.77 L475.03 22.47 L475.76 22.17 L476.49 21.88 L477.21 21.61 L477.94 21.34 L478.67 21.08 L479.39 20.84 L480.12 20.60 L480.85 20.38 L481.57 20.16 L482.30 19.96 L483.03 19.76 L483.75 19.58 L484.48 19.40 L485.21 19.24 L485.93 19.08 L486.66 18.94 L487.39 18.80 L488.11 18.68 L488.84 18.57 L489.57 18.46 L490.29 18.37 L491.02 18.29 L491.75 18.22 L492.47 18.15 L493.20 18.10 L493.93 18.06 L494.66 18.03 L495.38 18.01 L496.11 18.00 L496.84 18.00 L497.56 18.01 L498.29 18.03 L499.02 18.06 L499.74 18.10 L500.47 18.15 L501.20 18.21 L501.92 18.28 L502.65 18.36 L503.38 18.45 L504.10 18.55 L504.83 18.66 L505.56 18.78 L506.28 18.92 L507.01 19.06 L507.74 19.21 L508.46 19.37 L509.19 19.54 L509.92 19.72 L510.65 19.91 L511.37 20.11 L512.10 20.32 L512.83 20.54 L513.55 20.77 L514.28 21.01 L515.01 21.26 L515.73 21.52 L516.46 21.78 L517.19 22.06 L517.91 22.35 L518.64 22.65 L519.37 22.95 L520.09 23.27 L520.82 23.60 L521.55 23.93 L522.27 24.28 L523.00 24.63 L523.73 25.00 L524.45 25.37 L525.18 25.76 L525.91 26.15 L526.63 26.55 L527.36 26.97 L528.09 27.39 L528.82 27.82 L529.54 28.27 L530.27 28.72 L531.00 29.18 L531.72 29.66 L532.45 30.14 L533.18 30.63 L533.90 31.13 L534.63 31.65 L535.36 32.17 L536.08 32.70 L536.81 33.25 L537.54 33.80 L538.26 34.37 L538.99 34.95 L539.72 35.53 L540.44 36.13 L541.17 36.74 L541.90 37.36 L542.62 38.00 L543.35 38.64 L544.08 39.29 L544.80 39.96 L545.53 40.64 L546.26 41.33 L546.99 42.03 L547.71 42.75 L548.44 43.48 L549.17 44.22 L549.89 44.97 L550.62 45.74 L551.35 46.52 L552.07 47.31 L552.80 48.12 L553.53 48.94 L554.25 49.77 L554.98 50.62 L555.71 51.48 L556.43 52.36 L557.16 53.25 L557.89 54.16 L558.61 55.08 L559.34 56.02 L560.07 56.97 L560.79 57.94 L561.52 58.93 L562.25 59.93 L562.98 60.94 L563.70 61.98 L564.43 63.03 L565.16 64.10 L565.88 65.19 L566.61 66.29 L567.34 67.42 L568.06 68.56 L568.79 69.72 L569.52 70.90 L570.24 72.09 L570.97 73.31 L571.70 74.55 L572.42 75.80 L573.15 77.08 L573.88 78.38 L574.60 79.69 L575.33 81.03 L576.06 82.39 L576.78 83.77 L577.51 85.18 L578.24 86.60 L578.96 88.05 L579.69 89.52 L580.42 91.01 L581.15 92.52 L581.87 94.06 L582.60 95.62 L583.33 97.20 L584.05 98.81 L584.78 100.44 L585.51 102.10 L586.23 103.78 L586.96 105.48 L587.69 107.21 L588.41 108.97 L589.14 110.75 L589.87 112.55 L590.59 114.38 L591.32 116.23 L592.05 118.11 L592.77 120.01 L593.50 121.94 L594.23 123.89 L594.95 125.87 L595.68 127.87 L596.41 129.90 L597.13 131.94 L597.86 134.01 L598.59 136.11 L599.32 138.22 L600.04 140.36 L600.77 142.51 L601.50 144.69 L602.22 146.88 L602.95 149.09 L603.68 151.31 L604.40 153.54 L605.13 155.79 L605.86 158.05 L606.58 160.31 L607.31 162.57 L608.04 164.84 L608.76 167.10 L609.49 169.36 L610.22 171.60 L610.94 173.83 L611.67 176.04 L612.40 178.23 L613.12 180.39 L613.85 182.50 L614.58 184.58 L615.31 186.61 L616.03 188.58 L616.76 190.48 L617.49 192.31 L618.21 194.06 L618.94 195.72 L619.67 197.29 L620.39 198.75 L621.12 200.10 L621.85 201.32 L622.57 202.42 L623.30 203.38" stroke="#EDB120" stroke-dasharray="10 10"/>
<path d="M100.00 200.26 L100.73 200.37 L101.45 200.48 L102.18 200.59 L102.91 200.69 L103.63 200.79 L104.36 200.89 L105.09 200.99 L105.81 201.08 L106.54 201.17 L107.27 201.25 L107.99 201.34 L108.72 201.42 L109.45 201.49 L110.18 201.56 L110.90 201.63 L111.63 201.70 L112.36 201.76 L113.08 201.82 L113.81 201.88 L114.54 201.93 L115.26 201.98 L115.99 202.03 L116.72 202.07 L117.44 202.11 L118.17 202.15 L118.90 202.18 L119.62 202.21 L120.35 202.23 L121.08 202.26 L121.80 202.27 L122.53 202.29 L123.26 202.30 L123.98 202.31 L124.71 202.31 L125.44 202.31 L126.16 202.31 L126.89 202.30 L127.62 202.29 L128.35 202.28 L129.07 202.26 L129.80 202.24 L130.53 202.22 L131.25 202.19 L131.98 202.16 L132.71 202.12 L133.43 202.09 L134.16 202.05 L134.89 202.00 L135.61 201.95 L136.34 201.90 L137.07 201.85 L137.79 201.79 L138.52 201.73 L139.25 201.67 L139.97 201.60 L140.70 201.53 L141.43 201.46 L142.15 201.38 L142.88 201.30 L143.61 201.22 L144.34 201.13 L145.06 201.04 L145.79 200.95 L146.52 200.86 L147.24 200.76 L147.97 200.66 L148.70 200.56 L149.42 200.46 L150.15 200.35 L150.88 200.24 L151.60 200.13 L152.33 200.02 L153.06 199.90 L153.78 199.78 L154.51 199.66 L155.24 199.54 L155.96 199.41 L156.69 199.28 L157.42 199.15 L158.14 199.02 L158.87 198.89 L159.60 198.75 L160.32 198.62 L161.05 198.48 L161.78 198.34 L162.51 198.20 L163.23 198.05 L163.96 197.91 L164.69 197.76 L165.41 197.61 L166.14 197.46 L166.87 197.31 L167.59 197.16 L168.32 197.01 L169.05 196.85 L169.77 196.70 L170.50 196.54 L171.23 196.38 L171.95 196.22 L172.68 196.06 L173.41 195.90 L174.13 195.74 L174.86 195.58 L175.59 195.42 L176.31 195.26 L177.04 195.10 L177.77 194.93 L178.50 194.77 L179.22 194.60 L179.95 194.44 L180.68 194.28 L181.40 194.11 L182.13 193.95 L182.86 193.78 L183.58 193.62 L184.31 193.45 L185.04 193.29 L185.76 193.12 L186.49 192.96 L187.22 192.79 L187.94 192.63 L188.67 192.47 L189.40 192.30 L190.12 192.14 L190.85 191.98 L191.58 191.81 L192.30 191.65 L193.03 191.49 L193.76 191.33 L194.48 191.17 L195.21 191.01 L195.94 190.86 L196.67 190.70 L197.39 190.54 L198.12 190.39 L198.85 190.23 L199.57 190.08 L200.30 189.93 L201.03 189.77 L201.75 189.62 L202.48 189.47 L203.21 189.32 L203.93 189.18 L204.66 189.03 L205.39 188.89 L206.11 188.74 L206.84 188.60 L207.57 188.46 L208.29 188.32 L209.02 188.18 L209.75 188.04 L210.47 187.91 L211.20 187.77 L211.93 187.64 L212.65 187.51 L213.38 187.38 L214.11 187.25 L214.84 187.12 L215.56 186.99 L216.29 186.87 L217.02 186.75 L217.74 186.62 L218.47 186.51 L219.20 186.39 L219.92 186.27 L220.65 186.16 L221.38 186.04 L222.10 185.93 L222.83 185.82 L223.56 185.71 L224.28 185.61 L225.01 185.50 L225.74 185.40 L226.46 185.30 L227.19 185.20 L227.92 185.10 L228.64 185.01 L229.37 184.92 L230.10 184.82 L230.82 184.73 L231.55 184.65 L232.28 184.56 L233.01 184.48 L233.73 184.39 L234.46 184.31 L235.19 184.23 L235.91 184.16 L236.64 184.08 L237.37 184.01 L238.09 183.94 L238.82 183.87 L239.55 183.80 L240.27 183.74 L241.00 183.67 L241.73 183.61 L242.45 183.56 L243.18 183.50 L243.91 183.44 L244.63 183.39 L245.36 183.34 L246.09 183.29 L246.81 183.25 L247.54 183.20 L248.27 183.16 L249.00 183.12 L249.72 183.08 L250.45 183.05 L251.18 183.01 L251.90 182.98 L252.63 182.95 L253.36 182.92 L254.08 182.90 L254.81 182.88 L255.54 182.86 L256.26 182.84 L256.99 182.82 L257.72 182.81 L258.44 182.80 L259.17 182.79 L259.90 182.78 L260.62 182.78 L261.35 182.78 L262.08 182.78 L262.80 182.78 L263.53 182.78 L264.26 182.79 L264.98 182.80 L265.71 182.81 L266.44 182.83 L267.17 182.84 L267.89 182.86 L268.62 182.89 L269.35 182.91 L270.07 182.94 L270.80 182.97 L271.53 183.00 L272.25 183.03 L272.98 183.07 L273.71 183.11 L274.43 183.15 L275.16 183.19 L275.89 183.24 L276.61 183.29 L277.34 183.34 L278.07 183.39 L278.79 183.45 L279.52 183.51 L280.25 183.57 L280.97 183.63 L281.70 183.70 L282.43 183.77 L283.15 183.84 L283.88 183.92 L284.61 183.99 L285.34 184.07 L286.06 184.15 L286.79 184.24 L287.52 184.32 L288.24 184.41 L288.97 184.50 L289.70 184.60 L290.42 184.69 L291.15 184.79 L291.88 184.89 L292.60 185.00 L293.33 185.10 L294.06 185.21 L294.78 185.32 L295.51 185.43 L296.24 185.55 L296.96 185.67 L297.69 185.78 L298.42 185.91 L299.14 186.03 L299.87 186.16 L300.60 186.28 L301.33 186.41 L302.05 186.55 L302.78 186.68 L303.51 186.82 L304.23 186.95 L304.96 187.09 L305.69 187.24 L306.41 187.38 L307.14 187.53 L307.87 187.67 L308.59 187.82 L309.32 187.97 L310.05 188.12 L310.77 188.28 L311.50 188.43 L312.23 188.59 L312.95 188.75 L313.68 188.91 L314.41 189.07 L315.13 189.23 L315.86 189.39 L316.59 189.56 L317.31 189.72 L318.04 189.89 L318.77 190.06 L319.50 190.23 L320.22 190.40 L320.95 190.57 L321.68 190.74 L322.40 190.91 L323.13 191.08 L323.86 191.26 L324.58 191.43 L325.31 191.60 L326.04 191.78 L326.76 191.95 L327.49 192.13 L328.22 192.30 L328.94 192.48 L329.67 192.65 L330.40 192.83 L331.12 193.01 L331.85 193.18 L332.58 193.36 L333.30 193.53 L334.03 193.70 L334.76 193.88 L335.49 194.05 L336.21 194.23 L336.94 194.40 L337.67 194.57 L338.39 194.74 L339.12 194.91 L339.85 195.08 L340.57 195.25 L341.30 195.42 L342.03 195.58 L342.75 195.75 L343.48 195.91 L344.21 196.07 L344.93 196.24 L345.66 196.40 L346.39 196.55 L347.11 196.71 L347.84 196.87 L348.57 197.02 L349.29 197.17 L350.02 197.32 L350.75 197.47 L351.47 197.62 L352.20 197.76 L352.93 197.91 L353.66 198.05 L354.38 198.19 L355.11 198.32 L355.84 198.46 L356.56 198.59 L357.29 198.72 L358.02 198.85 L358.74 198.97 L359.47 199.09 L360.20 199.21 L360.92 199.33 L361.65 199.44 L362.38 199.56 L363.10 199.67 L363.83 199.77 L364.56 199.88 L365.28 199.98 L366.01 200.08 L366.74 200.17 L367.46 200.26 L368.19 200.35 L368.92 200.44 L369.64 200.52 L370.37 200.60 L371.10 200.68 L371.83 200.75 L372.55 200.83 L373.28 200.89 L374.01 200.96 L374.73 201.02 L375.46 201.08 L376.19 201.13 L376.91 201.18 L377.64 201.23 L378.37 201.28 L379.09 201.32 L379.82 201.36 L380.55 201.39 L381.27 201.43 L382.00 201.45 L382.73 201.48 L383.45 201.50 L384.18 201.52 L384.91 201.54 L385.63 201.55 L386.36 201.56 L387.09 201.56 L387.81 201.56 L388.54 201.56 L389.27 201.56 L390.00 201.55 L390.72 201.54 L391.45 201.52 L392.18 201.50 L392.90 201.48 L393.63 201.46 L394.36 201.43 L395.08 201.40 L395.81 201.36 L396.54 201.33 L397.26 201.28 L397.99 201.24 L398.72 201.19 L399.44 201.14 L400.17 201.09 L400.90 201.03 L401.62 200.97 L402.35 200.91 L403.08 200.85 L403.80 200.78 L404.53 200.71 L405.26 200.63 L405.99 200.56 L406.71 200.48 L407.44 200.40 L408.17 200.31 L408.89 200.22 L409.62 200.13 L410.35 200.04 L411.07 199.95 L411.80 199.85 L412.53 199.75 L413.25 199.65 L413.98 199.54 L414.71 199.43 L415.43 199.33 L416.16 199.21 L416.89 199.10 L417.61 198.98 L418.34 198.87 L419.07 198.75 L419.79 198.63 L420.52 198.50 L421.25 198.38 L421.97 198.25 L422.70 198.12 L423.43 197.99 L424.16 197.86 L424.88 197.73 L425.61 197.59 L426.34 197.45 L427.06 197.32 L427.79 197.18 L428.52 197.04 L429.24 196.90 L429.97 196.75 L430.70 196.61 L431.42 196.47 L432.15 196.32 L432.88 196.17 L433.60 196.03 L434.33 195.88 L435.06 195.73 L435.78 195.58 L436.51 195.43 L437.24 195.28 L437.96 195.13 L438.69 194.98 L439.42 194.82 L440.14 194.67 L440.87 194.52 L441.60 194.37 L442.33 194.21 L443.05 194.06 L443.78 193.91 L444.51 193.75 L445.23 193.60 L445.96 193.45 L446.69 193.29 L447.41 193.14 L448.14 192.99 L448.87 192.84 L449.59 192.69 L450.32 192.54 L451.05 192.38 L451.77 192.23 L452.50 192.08 L453.23 191.94 L453.95 191.79 L454.68 191.64 L455.41 191.49 L456.13 191.35 L456.86 191.20 L457.59 191.06 L458.32 190.91 L459.04 190.77 L459.77 190.63 L460.50 190.49 L461.22 190.35 L461.95 190.21 L462.68 190.07 L463.40 189.94 L464.13 189.80 L464.86 189.67 L465.58 189.53 L466.31 189.40 L467.04 189.27 L467.76 189.15 L468.49 189.02 L469.22 188.89 L469.94 188.77 L470.67 188.64 L471.40 188.52 L472.12 188.40 L472.85 188.28 L473.58 188.17 L474.30 188.05 L475.03 187.94 L475.76 187.83 L476.49 187.71 L477.21 187.61 L477.94 187.50 L478.67 187.39 L479.39 187.29 L480.12 187.19 L480.85 187.08 L481.57 186.99 L482.30 186.89 L483.03 186.79 L483.75 186.70 L484.48 186.61 L485.21 186.51 L485.93 186.43 L486.66 186.34 L487.39 186.25 L488.11 186.17 L488.84 186.09 L489.57 186.01 L490.29 185.93 L491.02 185.85 L491.75 185.78 L492.47 185.70 L493.20 185.63 L493.93 185.56 L494.66 185.50 L495.38 185.43 L496.11 185.37 L496.84 185.30 L497.56 185.24 L498.29 185.18 L499.02 185.13 L499.74 185.07 L500.47 185.02 L501.20 184.97 L501.92 184.92 L502.65 184.87 L503.38 184.82 L504.10 184.78 L504.83 184.73 L505.56 184.69 L506.28 184.65 L507.01 184.62 L507.74 184.58 L508.46 184.55 L509.19 184.52 L509.92 184.49 L510.65 184.46 L511.37 184.43 L512.10 184.41 L512.83 184.38 L513.55 184.36 L514.28 184.35 L515.01 184.33 L515.73 184.31 L516.46 184.30 L517.19 184.29 L517.91 184.28 L518.64 184.27 L519.37 184.26 L520.09 184.26 L520.82 184.26 L521.55 184.26 L522.27 184.26 L523.00 184.26 L523.73 184.27 L524.45 184.27 L525.18 184.28 L525.91 184.30 L526.63 184.31 L527.36 184.32 L528.09 184.34 L528.82 184.36 L529.54 184.38 L530.27 184.40 L531.00 184.43 L531.72 184.46 L532.45 184.49 L533.18 184.52 L533.90 184.55 L534.63 184.59 L535.36 184.62 L536.08 184.66 L536.81 184.70 L537.54 184.75 L538.26 184.79 L538.99 184.84 L539.72 184.89 L540.44 184.94 L541.17 185.00 L541.90 185.06 L542.62 185.11 L543.35 185.18 L544.08 185.24 L544.80 185.30 L545.53 185.37 L546.26 185.44 L546.99 185.51 L547.71 185.59 L548.44 185.66 L549.17 185.74 L549.89 185.82 L550.62 185.90 L551.35 185.99 L552.07 186.08 L552.80 186.17 L553.53 186.26 L554.25 186.35 L554.98 186.45 L555.71 186.55 L556.43 186.65 L557.16 186.75 L557.89 186.85 L558.61 186.96 L559.34 187.07 L560.07 187.18 L560.79 187.29 L561.52 187.41 L562.25 187.53 L562.98 187.65 L563.70 187.77 L564.43 187.89 L565.16 188.02 L565.88 188.14 L566.61 188.27 L567.34 188.40 L568.06 188.54 L568.79 188.67 L569.52 188.81 L570.24 188.95 L570.97 189.09 L571.70 189.23 L572.42 189.37 L573.15 189.52 L573.88 189.66 L574.60 189.81 L575.33 189.96 L576.06 190.11 L576.78 190.27 L577.51 190.42 L578.24 190.58 L578.96 190.73 L579.69 190.89 L580.42 191.05 L581.15 191.21 L581.87 191.37 L582.60 191.53 L583.33 191.70 L584.05 191.86 L584.78 192.03 L585.51 192.19 L586.23 192.36 L586.96 192.53 L587.69 192.69 L588.41 192.86 L589.14 193.03 L589.87 193.20 L590.59 193.37 L591.32 193.54 L592.05 193.71 L592.77 193.88 L593.50 194.05 L594.23 194.22 L594.95 194.39 L595.68 194.56 L596.41 194.73 L597.13 194.90 L597.86 195.07 L598.59 195.24 L599.32 195.41 L600.04 195.58 L600.77 195.75 L601.50 195.91 L602.22 196.08 L602.95 196.24 L603.68 196.41 L604.40 196.57 L605.13 196.73 L605.86 196.90 L606.58 197.06 L607.31 197.22 L608.04 197.37 L608.76 197.53 L609.49 197.68 L610.22 197.84 L610.94 197.99 L611.67 198.14 L612.40 198.29 L613.12 198.43 L613.85 198.58 L614.58 198.72 L615.31 198.86 L616.03 199.00 L616.76 199.14 L617.49 199.27 L618.21 199.40 L618.94 199.53 L619.67 199.66 L620.39 199.79 L621.12 199.91 L621.85 200.03 L622.57 200.15 L623.30 200.26" stroke="#0072BD" stroke-dasharray="3 2"/>
<path d="M100.00 205.25 L100.73 206.35 L101.45 207.46 L102.18 208.59 L102.91 209.74 L103.63 210.90 L104.36 212.08 L105.09 213.27 L105.81 214.48 L106.54 215.71 L107.27 216.96 L107.99 218.22 L108.72 219.50 L109.45 220.79 L110.18 222.10 L110.90 223.43 L111.63 224.78 L112.36 226.14 L113.08 227.53 L113.81 228.92 L114.54 230.34 L115.26 231.78 L115.99 233.23 L116.72 234.70 L117.44 236.19 L118.17 237.69 L118.90 239.21 L119.62 240.76 L120.35 242.32 L121.08 243.89 L121.80 245.49 L122.53 247.10 L123.26 248.74 L123.98 250.38 L124.71 252.05 L125.44 253.74 L126.16 255.44 L126.89 257.16 L127.62 258.90 L128.35 260.65 L129.07 262.42 L129.80 264.21 L130.53 266.01 L131.25 267.83 L131.98 269.66 L132.71 271.51 L133.43 273.37 L134.16 275.25 L134.89 277.13 L135.61 279.03 L136.34 280.94 L137.07 282.85 L137.79 284.78 L138.52 286.71 L139.25 288.64 L139.97 290.58 L140.70 292.52 L141.43 294.46 L142.15 296.39 L142.88 298.32 L143.61 300.24 L144.34 302.14 L145.06 304.04 L145.79 305.91 L146.52 307.76 L147.24 309.59 L147.97 311.38 L148.70 313.15 L149.42 314.87 L150.15 316.55 L150.88 318.18 L151.60 319.76 L152.33 321.27 L153.06 322.72 L153.78 324.11 L154.51 325.41 L155.24 326.64 L155.96 327.77 L156.69 328.82 L157.42 329.77 L158.14 330.61 L158.87 331.35 L159.60 331.98 L160.32 332.49 L161.05 332.89 L161.78 333.17 L162.51 333.32 L163.23 333.35 L163.96 333.27 L164.69 333.06 L165.41 332.72 L166.14 332.27 L166.87 331.71 L167.59 331.02 L168.32 330.23 L169.05 329.34 L169.77 328.34 L170.50 327.24 L171.23 326.06 L171.95 324.79 L172.68 323.44 L173.41 322.01 L174.13 320.51 L174.86 318.96 L175.59 317.34 L176.31 315.67 L177.04 313.96 L177.77 312.20 L178.50 310.41 L179.22 308.59 L179.95 306.74 L180.68 304.86 L181.40 302.97 L182.13 301.05 L182.86 299.13 L183.58 297.20 L184.31 295.26 L185.04 293.32 L185.76 291.38 L186.49 289.44 L187.22 287.50 L187.94 285.57 L188.67 283.65 L189.40 281.73 L190.12 279.83 L190.85 277.94 L191.58 276.06 L192.30 274.19 L193.03 272.34 L193.76 270.51 L194.48 268.69 L195.21 266.89 L195.94 265.10 L196.67 263.34 L197.39 261.59 L198.12 259.86 L198.85 258.15 L199.57 256.46 L200.30 254.79 L201.03 253.13 L201.75 251.50 L202.48 249.89 L203.21 248.29 L203.93 246.72 L204.66 245.16 L205.39 243.63 L206.11 242.11 L206.84 240.61 L207.57 239.13 L208.29 237.68 L209.02 236.24 L209.75 234.81 L210.47 233.41 L211.20 232.03 L211.93 230.66 L212.65 229.31 L213.38 227.98 L214.11 226.67 L214.84 225.37 L215.56 224.09 L216.29 222.83 L217.02 221.58 L217.74 220.35 L218.47 219.14 L219.20 217.95 L219.92 216.77 L220.65 215.60 L221.38 214.45 L222.10 213.32 L222.83 212.20 L223.56 211.10 L224.28 210.01 L225.01 208.93 L225.74 207.87 L226.46 206.83 L227.19 205.80 L227.92 204.78 L228.64 203.77 L229.37 202.78 L230.10 201.81 L230.82 200.85 L231.55 199.90 L232.28 198.96 L233.01 198.04 L233.73 197.12 L234.46 196.23 L235.19 195.34 L235.91 194.47 L236.64 193.61 L237.37 192.76 L238.09 191.93 L238.82 191.10 L239.55 190.29 L240.27 189.49 L241.00 188.71 L241.73 187.93 L242.45 187.17 L243.18 186.42 L243.91 185.68 L244.63 184.95 L245.36 184.23 L246.09 183.53 L246.81 182.84 L247.54 182.16 L248.27 181.49 L249.00 180.83 L249.72 180.18 L250.45 179.55 L251.18 178.93 L251.90 178.31 L252.63 177.71 L253.36 177.13 L254.08 176.55 L254.81 175.98 L255.54 175.43 L256.26 174.89 L256.99 174.35 L257.72 173.83 L258.44 173.33 L259.17 172.83 L259.90 172.34 L260.62 171.87 L261.35 171.41 L262.08 170.95 L262.80 170.51 L263.53 170.08 L264.26 169.67 L264.98 169.26 L265.71 168.86 L266.44 168.48 L267.17 168.11 L267.89 167.75 L268.62 167.40 L269.35 167.06 L270.07 166.73 L270.80 166.41 L271.53 166.11 L272.25 165.82 L272.98 165.53 L273.71 165.26 L274.43 165.00 L275.16 164.75 L275.89 164.51 L276.61 164.28 L277.34 164.07 L278.07 163.86 L278.79 163.66 L279.52 163.48 L280.25 163.31 L280.97 163.14 L281.70 162.99 L282.43 162.85 L283.15 162.72 L283.88 162.60 L284.61 162.49 L285.34 162.39 L286.06 162.30 L286.79 162.22 L287.52 162.15 L288.24 162.09 L288.97 162.05 L289.70 162.01 L290.42 161.98 L291.15 161.96 L291.88 161.95 L292.60 161.95 L293.33 161.97 L294.06 161.99 L294.78 162.02 L295.51 162.06 L296.24 162.11 L296.96 162.17 L297.69 162.24 L298.42 162.32 L299.14 162.41 L299.87 162.50 L300.60 162.61 L301.33 162.73 L302.05 162.85 L302.78 162.99 L303.51 163.13 L304.23 163.29 L304.96 163.45 L305.69 163.62 L306.41 163.80 L307.14 163.99 L307.87 164.19 L308.59 164.40 L309.32 164.61 L310.05 164.84 L310.77 165.07 L311.50 165.32 L312.23 165.57 L312.95 165.83 L313.68 166.10 L314.41 166.38 L315.13 166.67 L315.86 166.97 L316.59 167.28 L317.31 167.59 L318.04 167.92 L318.77 168.25 L319.50 168.60 L320.22 168.95 L320.95 169.31 L321.68 169.69 L322.40 170.07 L323.13 170.46 L323.86 170.86 L324.58 171.27 L325.31 171.69 L326.04 172.12 L326.76 172.56 L327.49 173.01 L328.22 173.47 L328.94 173.95 L329.67 174.43 L330.40 174.92 L331.12 175.42 L331.85 175.93 L332.58 176.46 L333.30 176.99 L334.03 177.54 L334.76 178.10 L335.49 178.67 L336.21 179.25 L336.94 179.84 L337.67 180.44 L338.39 181.06 L339.12 181.69 L339.85 182.33 L340.57 182.98 L341.30 183.64 L342.03 184.32 L342.75 185.01 L343.48 185.71 L344.21 186.43 L344.93 187.16 L345.66 187.90 L346.39 188.66 L347.11 189.43 L347.84 190.22 L348.57 191.02 L349.29 191.83 L350.02 192.66 L350.75 193.51 L351.47 194.36 L352.20 195.24 L352.93 196.13 L353.66 197.03 L354.38 197.95 L355.11 198.89 L355.84 199.84 L356.56 200.81 L357.29 201.80 L358.02 202.80 L358.74 203.82 L359.47 204.86 L360.20 205.92 L360.92 206.99 L361.65 208.08 L362.38 209.19 L363.10 210.32 L363.83 211.46 L364.56 212.63 L365.28 213.81 L366.01 215.01 L366.74 216.24 L367.46 217.48 L368.19 218.74 L368.92 220.03 L369.64 221.33 L370.37 222.65 L371.10 224.00 L371.83 225.37 L372.55 226.76 L373.28 228.17 L374.01 229.60 L374.73 231.05 L375.46 232.53 L376.19 234.03 L376.91 235.56 L377.64 237.10 L378.37 238.68 L379.09 240.27 L379.82 241.89 L380.55 243.54 L381.27 245.21 L382.00 246.90 L382.73 248.62 L383.45 250.37 L384.18 252.14 L384.91 253.94 L385.63 255.76 L386.36 257.61 L387.09 259.49 L387.81 261.40 L388.54 263.33 L389.27 265.30 L390.00 267.28 L390.72 269.30 L391.45 271.35 L392.18 273.42 L392.90 275.52 L393.63 277.65 L394.36 279.81 L395.08 281.99 L395.81 284.20 L396.54 286.44 L397.26 288.71 L397.99 291.00 L398.72 293.32 L399.44 295.66 L400.17 298.02 L400.90 300.41 L401.62 302.82 L402.35 305.24 L403.08 307.69 L403.80 310.15 L404.53 312.62 L405.26 315.10 L405.99 317.58 L406.71 320.07 L407.44 322.56 L408.17 325.04 L408.89 327.51 L409.62 329.97 L410.35 332.40 L411.07 334.80 L411.80 337.16 L412.53 339.48 L413.25 341.74 L413.98 343.94 L414.71 346.07 L415.43 348.11 L416.16 350.06 L416.89 351.90 L417.61 353.63 L418.34 355.23 L419.07 356.68 L419.79 357.99 L420.52 359.14 L421.25 360.12 L421.97 360.92 L422.70 361.53 L423.43 361.96 L424.16 362.19 L424.88 362.22 L425.61 362.05 L426.34 361.69 L427.06 361.13 L427.79 360.38 L428.52 359.45 L429.24 358.35 L429.97 357.08 L430.70 355.65 L431.42 354.07 L432.15 352.36 L432.88 350.53 L433.60 348.58 L434.33 346.53 L435.06 344.39 L435.78 342.17 L436.51 339.89 L437.24 337.54 L437.96 335.14 L438.69 332.70 L439.42 330.23 L440.14 327.73 L440.87 325.21 L441.60 322.68 L442.33 320.14 L443.05 317.60 L443.78 315.06 L444.51 312.53 L445.23 310.00 L445.96 307.49 L446.69 304.99 L447.41 302.51 L448.14 300.05 L448.87 297.62 L449.59 295.20 L450.32 292.81 L451.05 290.45 L451.77 288.11 L452.50 285.80 L453.23 283.52 L453.95 281.27 L454.68 279.04 L455.41 276.85 L456.13 274.69 L456.86 272.55 L457.59 270.45 L458.32 268.37 L459.04 266.33 L459.77 264.31 L460.50 262.33 L461.22 260.37 L461.95 258.45 L462.68 256.55 L463.40 254.68 L464.13 252.84 L464.86 251.03 L465.58 249.24 L466.31 247.49 L467.04 245.76 L467.76 244.06 L468.49 242.38 L469.22 240.73 L469.94 239.11 L470.67 237.51 L471.40 235.93 L472.12 234.38 L472.85 232.86 L473.58 231.36 L474.30 229.88 L475.03 228.43 L475.76 226.99 L476.49 225.58 L477.21 224.20 L477.94 222.83 L478.67 221.49 L479.39 220.17 L480.12 218.87 L480.85 217.58 L481.57 216.32 L482.30 215.08 L483.03 213.86 L483.75 212.66 L484.48 211.47 L485.21 210.31 L485.93 209.16 L486.66 208.04 L487.39 206.93 L488.11 205.83 L488.84 204.76 L489.57 203.70 L490.29 202.66 L491.02 201.63 L491.75 200.62 L492.47 199.63 L493.20 198.65 L493.93 197.69 L494.66 196.75 L495.38 195.82 L496.11 194.90 L496.84 194.00 L497.56 193.12 L498.29 192.25 L499.02 191.39 L499.74 190.55 L500.47 189.72 L501.20 188.90 L501.92 188.10 L502.65 187.31 L503.38 186.54 L504.10 185.78 L504.83 185.03 L505.56 184.29 L506.28 183.57 L507.01 182.86 L507.74 182.16 L508.46 181.48 L509.19 180.81 L509.92 180.15 L510.65 179.50 L511.37 178.86 L512.10 178.24 L512.83 177.62 L513.55 177.02 L514.28 176.43 L515.01 175.86 L515.73 175.29 L516.46 174.73 L517.19 174.19 L517.91 173.66 L518.64 173.14 L519.37 172.62 L520.09 172.13 L520.82 171.64 L521.55 171.16 L522.27 170.69 L523.00 170.24 L523.73 169.79 L524.45 169.35 L525.18 168.93 L525.91 168.52 L526.63 168.11 L527.36 167.72 L528.09 167.34 L528.82 166.96 L529.54 166.60 L530.27 166.25 L531.00 165.91 L531.72 165.57 L532.45 165.25 L533.18 164.94 L533.90 164.64 L534.63 164.35 L535.36 164.06 L536.08 163.79 L536.81 163.53 L537.54 163.28 L538.26 163.03 L538.99 162.80 L539.72 162.58 L540.44 162.36 L541.17 162.16 L541.90 161.96 L542.62 161.78 L543.35 161.60 L544.08 161.44 L544.80 161.28 L545.53 161.13 L546.26 161.00 L546.99 160.87 L547.71 160.75 L548.44 160.64 L549.17 160.54 L549.89 160.45 L550.62 160.37 L551.35 160.30 L552.07 160.24 L552.80 160.19 L553.53 160.14 L554.25 160.11 L554.98 160.08 L555.71 160.07 L556.43 160.06 L557.16 160.07 L557.89 160.08 L558.61 160.10 L559.34 160.13 L560.07 160.17 L560.79 160.22 L561.52 160.28 L562.25 160.35 L562.98 160.43 L563.70 160.52 L564.43 160.62 L565.16 160.72 L565.88 160.84 L566.61 160.97 L567.34 161.10 L568.06 161.25 L568.79 161.40 L569.52 161.57 L570.24 161.74 L570.97 161.92 L571.70 162.12 L572.42 162.32 L573.15 162.53 L573.88 162.76 L574.60 162.99 L575.33 163.23 L576.06 163.49 L576.78 163.75 L577.51 164.02 L578.24 164.31 L578.96 164.60 L579.69 164.90 L580.42 165.22 L581.15 165.54 L581.87 165.88 L582.60 166.23 L583.33 166.58 L584.05 166.95 L584.78 167.33 L585.51 167.72 L586.23 168.12 L586.96 168.53 L587.69 168.96 L588.41 169.39 L589.14 169.84 L589.87 170.29 L590.59 170.76 L591.32 171.24 L592.05 171.73 L592.77 172.24 L593.50 172.75 L594.23 173.28 L594.95 173.82 L595.68 174.37 L596.41 174.94 L597.13 175.51 L597.86 176.10 L598.59 176.70 L599.32 177.32 L600.04 177.94 L600.77 178.58 L601.50 179.23 L602.22 179.90 L602.95 180.58 L603.68 181.27 L604.40 181.97 L605.13 182.69 L605.86 183.42 L606.58 184.17 L607.31 184.93 L608.04 185.70 L608.76 186.48 L609.49 187.28 L610.22 188.10 L610.94 188.93 L611.67 189.77 L612.40 190.62 L613.12 191.50 L613.85 192.38 L614.58 193.28 L615.31 194.19 L616.03 195.12 L616.76 196.07 L617.49 197.03 L618.21 198.00 L618.94 198.99 L619.67 200.00 L620.39 201.02 L621.12 202.05 L621.85 203.10 L622.57 204.17 L623.30 205.25" stroke="#D95319" stroke-dasharray="3 2"/>
<path d="M100.00 249.43 L100.73 249.19 L101.45 248.93 L102.18 248.66 L102.91 248.37 L103.63 248.06 L104.36 247.74 L105.09 247.40 L105.81 247.05 L106.54 246.68 L107.27 246.30 L107.99 245.90 L108.72 245.49 L109.45 245.07 L110.18 244.63 L110.90 244.18 L111.63 243.72 L112.36 243.25 L113.08 242.77 L113.81 242.27 L114.54 241.76 L115.26 241.25 L115.99 240.72 L116.72 240.19 L117.44 239.64 L118.17 239.09 L118.90 238.53 L119.62 237.96 L120.35 237.38 L121.08 236.80 L121.80 236.21 L122.53 235.62 L123.26 235.02 L123.98 234.41 L124.71 233.80 L125.44 233.18 L126.16 232.56 L126.89 231.94 L127.62 231.31 L128.35 230.68 L129.07 230.04 L129.80 229.41 L130.53 228.77 L131.25 228.13 L131.98 227.49 L132.71 226.85 L133.43 226.20 L134.16 225.56 L134.89 224.91 L135.61 224.27 L136.34 223.62 L137.07 222.98 L137.79 222.33 L138.52 221.69 L139.25 221.05 L139.97 220.41 L140.70 219.77 L141.43 219.14 L142.15 218.50 L142.88 217.87 L143.61 217.24 L144.34 216.61 L145.06 215.99 L145.79 215.37 L146.52 214.75 L147.24 214.13 L147.97 213.52 L148.70 212.92 L149.42 212.31 L150.15 211.71 L150.88 211.12 L151.60 210.53 L152.33 209.94 L153.06 209.36 L153.78 208.78 L154.51 208.21 L155.24 207.64 L155.96 207.07 L156.69 206.52 L157.42 205.96 L158.14 205.42 L158.87 204.87 L159.60 204.34 L160.32 203.81 L161.05 203.28 L161.78 202.76 L162.51 202.24 L163.23 201.74 L163.96 201.23 L164.69 200.74 L165.41 200.25 L166.14 199.76 L166.87 199.28 L167.59 198.81 L168.32 198.34 L169.05 197.88 L169.77 197.43 L170.50 196.98 L171.23 196.54 L171.95 196.11 L172.68 195.68 L173.41 195.26 L174.13 194.85 L174.86 194.44 L175.59 194.04 L176.31 193.65 L177.04 193.26 L177.77 192.88 L178.50 192.50 L179.22 192.14 L179.95 191.78 L180.68 191.42 L181.40 191.08 L182.13 190.74 L182.86 190.41 L183.58 190.08 L184.31 189.76 L185.04 189.45 L185.76 189.15 L186.49 188.85 L187.22 188.56 L187.94 188.28 L188.67 188.00 L189.40 187.73 L190.12 187.47 L190.85 187.22 L191.58 186.97 L192.30 186.73 L193.03 186.50 L193.76 186.27 L194.48 186.06 L195.21 185.85 L195.94 185.64 L196.67 185.45 L197.39 185.26 L198.12 185.07 L198.85 184.90 L199.57 184.73 L200.30 184.57 L201.03 184.42 L201.75 184.27 L202.48 184.13 L203.21 184.00 L203.93 183.88 L204.66 183.76 L205.39 183.65 L206.11 183.55 L206.84 183.45 L207.57 183.36 L208.29 183.28 L209.02 183.21 L209.75 183.14 L210.47 183.08 L211.20 183.02 L211.93 182.98 L212.65 182.94 L213.38 182.91 L214.11 182.88 L214.84 182.86 L215.56 182.85 L216.29 182.85 L217.02 182.85 L217.74 182.86 L218.47 182.87 L219.20 182.90 L219.92 182.93 L220.65 182.96 L221.38 183.01 L222.10 183.06 L222.83 183.11 L223.56 183.18 L224.28 183.25 L225.01 183.32 L225.74 183.41 L226.46 183.50 L227.19 183.59 L227.92 183.70 L228.64 183.80 L229.37 183.92 L230.10 184.04 L230.82 184.17 L231.55 184.31 L232.28 184.45 L233.01 184.60 L233.73 184.75 L234.46 184.91 L235.19 185.08 L235.91 185.25 L236.64 185.43 L237.37 185.62 L238.09 185.81 L238.82 186.01 L239.55 186.21 L240.27 186.42 L241.00 186.64 L241.73 186.86 L242.45 187.09 L243.18 187.32 L243.91 187.56 L244.63 187.81 L245.36 188.06 L246.09 188.32 L246.81 188.59 L247.54 188.86 L248.27 189.14 L249.00 189.42 L249.72 189.71 L250.45 190.01 L251.18 190.31 L251.90 190.62 L252.63 190.93 L253.36 191.25 L254.08 191.57 L254.81 191.90 L255.54 192.24 L256.26 192.59 L256.99 192.94 L257.72 193.29 L258.44 193.65 L259.17 194.02 L259.90 194.39 L260.62 194.77 L261.35 195.16 L262.08 195.55 L262.80 195.95 L263.53 196.35 L264.26 196.76 L264.98 197.17 L265.71 197.59 L266.44 198.02 L267.17 198.46 L267.89 198.89 L268.62 199.34 L269.35 199.79 L270.07 200.25 L270.80 200.71 L271.53 201.18 L272.25 201.65 L272.98 202.13 L273.71 202.62 L274.43 203.11 L275.16 203.61 L275.89 204.12 L276.61 204.63 L277.34 205.14 L278.07 205.66 L278.79 206.19 L279.52 206.72 L280.25 207.26 L280.97 207.81 L281.70 208.36 L282.43 208.91 L283.15 209.47 L283.88 210.04 L284.61 210.61 L285.34 211.19 L286.06 211.77 L286.79 212.36 L287.52 212.95 L288.24 213.55 L288.97 214.15 L289.70 214.76 L290.42 215.38 L291.15 215.99 L291.88 216.62 L292.60 217.24 L293.33 217.87 L294.06 218.51 L294.78 219.15 L295.51 219.79 L296.24 220.44 L296.96 221.09 L297.69 221.75 L298.42 222.41 L299.14 223.07 L299.87 223.74 L300.60 224.41 L301.33 225.08 L302.05 225.75 L302.78 226.43 L303.51 227.11 L304.23 227.79 L304.96 228.47 L305.69 229.16 L306.41 229.85 L307.14 230.53 L307.87 231.22 L308.59 231.91 L309.32 232.60 L310.05 233.29 L310.77 233.99 L311.50 234.68 L312.23 235.37 L312.95 236.06 L313.68 236.74 L314.41 237.43 L315.13 238.11 L315.86 238.80 L316.59 239.48 L317.31 240.15 L318.04 240.83 L318.77 241.50 L319.50 242.16 L320.22 242.83 L320.95 243.48 L321.68 244.14 L322.40 244.78 L323.13 245.42 L323.86 246.06 L324.58 246.68 L325.31 247.30 L326.04 247.92 L326.76 248.52 L327.49 249.12 L328.22 249.70 L328.94 250.28 L329.67 250.85 L330.40 251.40 L331.12 251.95 L331.85 252.49 L332.58 253.01 L333.30 253.52 L334.03 254.02 L334.76 254.50 L335.49 254.97 L336.21 255.43 L336.94 255.87 L337.67 256.30 L338.39 256.71 L339.12 257.10 L339.85 257.48 L340.57 257.84 L341.30 258.19 L342.03 258.52 L342.75 258.83 L343.48 259.12 L344.21 259.39 L344.93 259.65 L345.66 259.88 L346.39 260.10 L347.11 260.29 L347.84 260.47 L348.57 260.63 L349.29 260.77 L350.02 260.88 L350.75 260.98 L351.47 261.05 L352.20 261.11 L352.93 261.14 L353.66 261.15 L354.38 261.15 L355.11 261.12 L355.84 261.07 L356.56 261.00 L357.29 260.91 L358.02 260.80 L358.74 260.67 L359.47 260.52 L360.20 260.35 L360.92 260.16 L361.65 259.95 L362.38 259.73 L363.10 259.48 L363.83 259.21 L364.56 258.93 L365.28 258.63 L366.01 258.31 L366.74 257.98 L367.46 257.63 L368.19 257.26 L368.92 256.88 L369.64 256.48 L370.37 256.07 L371.10 255.64 L371.83 255.20 L372.55 254.75 L373.28 254.28 L374.01 253.80 L374.73 253.31 L375.46 252.81 L376.19 252.30 L376.91 251.77 L377.64 251.24 L378.37 250.69 L379.09 250.14 L379.82 249.58 L380.55 249.00 L381.27 248.43 L382.00 247.84 L382.73 247.25 L383.45 246.65 L384.18 246.04 L384.91 245.43 L385.63 244.81 L386.36 244.19 L387.09 243.57 L387.81 242.94 L388.54 242.30 L389.27 241.66 L390.00 241.02 L390.72 240.38 L391.45 239.73 L392.18 239.08 L392.90 238.43 L393.63 237.78 L394.36 237.13 L395.08 236.47 L395.81 235.82 L396.54 235.16 L397.26 234.50 L397.99 233.85 L398.72 233.19 L399.44 232.53 L400.17 231.88 L400.90 231.22 L401.62 230.57 L402.35 229.91 L403.08 229.26 L403.80 228.61 L404.53 227.96 L405.26 227.31 L405.99 226.67 L406.71 226.02 L407.44 225.38 L408.17 224.74 L408.89 224.10 L409.62 223.47 L410.35 222.84 L411.07 222.21 L411.80 221.58 L412.53 220.96 L413.25 220.34 L413.98 219.72 L414.71 219.11 L415.43 218.49 L416.16 217.89 L416.89 217.28 L417.61 216.68 L418.34 216.08 L419.07 215.49 L419.79 214.90 L420.52 214.32 L421.25 213.73 L421.97 213.16 L422.70 212.58 L423.43 212.01 L424.16 211.45 L424.88 210.89 L425.61 210.33 L426.34 209.78 L427.06 209.23 L427.79 208.69 L428.52 208.15 L429.24 207.61 L429.97 207.09 L430.70 206.56 L431.42 206.04 L432.15 205.53 L432.88 205.02 L433.60 204.52 L434.33 204.02 L435.06 203.52 L435.78 203.04 L436.51 202.55 L437.24 202.08 L437.96 201.60 L438.69 201.14 L439.42 200.68 L440.14 200.22 L440.87 199.78 L441.60 199.33 L442.33 198.90 L443.05 198.47 L443.78 198.04 L444.51 197.63 L445.23 197.21 L445.96 196.81 L446.69 196.41 L447.41 196.02 L448.14 195.63 L448.87 195.25 L449.59 194.88 L450.32 194.51 L451.05 194.15 L451.77 193.80 L452.50 193.46 L453.23 193.12 L453.95 192.79 L454.68 192.46 L455.41 192.15 L456.13 191.84 L456.86 191.53 L457.59 191.24 L458.32 190.95 L459.04 190.67 L459.77 190.40 L460.50 190.13 L461.22 189.87 L461.95 189.62 L462.68 189.38 L463.40 189.14 L464.13 188.91 L464.86 188.69 L465.58 188.48 L466.31 188.27 L467.04 188.07 L467.76 187.88 L468.49 187.70 L469.22 187.52 L469.94 187.36 L470.67 187.19 L471.40 187.04 L472.12 186.90 L472.85 186.76 L473.58 186.63 L474.30 186.51 L475.03 186.39 L475.76 186.28 L476.49 186.18 L477.21 186.09 L477.94 186.01 L478.67 185.93 L479.39 185.86 L480.12 185.80 L480.85 185.74 L481.57 185.69 L482.30 185.65 L483.03 185.62 L483.75 185.59 L484.48 185.57 L485.21 185.56 L485.93 185.55 L486.66 185.56 L487.39 185.56 L488.11 185.58 L488.84 185.60 L489.57 185.63 L490.29 185.67 L491.02 185.71 L491.75 185.76 L492.47 185.81 L493.20 185.87 L493.93 185.94 L494.66 186.02 L495.38 186.10 L496.11 186.19 L496.84 186.28 L497.56 186.38 L498.29 186.49 L499.02 186.60 L499.74 186.72 L500.47 186.85 L501.20 186.98 L501.92 187.11 L502.65 187.26 L503.38 187.41 L504.10 187.56 L504.83 187.72 L505.56 187.89 L506.28 188.06 L507.01 188.24 L507.74 188.42 L508.46 188.61 L509.19 188.81 L509.92 189.01 L510.65 189.22 L511.37 189.43 L512.10 189.65 L512.83 189.87 L513.55 190.10 L514.28 190.33 L515.01 190.57 L515.73 190.82 L516.46 191.07 L517.19 191.33 L517.91 191.59 L518.64 191.86 L519.37 192.13 L520.09 192.41 L520.82 192.70 L521.55 192.99 L522.27 193.29 L523.00 193.59 L523.73 193.90 L524.45 194.21 L525.18 194.53 L525.91 194.86 L526.63 195.19 L527.36 195.52 L528.09 195.86 L528.82 196.21 L529.54 196.57 L530.27 196.93 L531.00 197.29 L531.72 197.66 L532.45 198.04 L533.18 198.42 L533.90 198.81 L534.63 199.21 L535.36 199.61 L536.08 200.02 L536.81 200.43 L537.54 200.85 L538.26 201.28 L538.99 201.71 L539.72 202.14 L540.44 202.59 L541.17 203.04 L541.90 203.49 L542.62 203.95 L543.35 204.42 L544.08 204.89 L544.80 205.37 L545.53 205.86 L546.26 206.35 L546.99 206.84 L547.71 207.34 L548.44 207.85 L549.17 208.37 L549.89 208.89 L550.62 209.41 L551.35 209.94 L552.07 210.48 L552.80 211.02 L553.53 211.56 L554.25 212.12 L554.98 212.67 L555.71 213.23 L556.43 213.80 L557.16 214.37 L557.89 214.95 L558.61 215.53 L559.34 216.11 L560.07 216.70 L560.79 217.29 L561.52 217.89 L562.25 218.49 L562.98 219.09 L563.70 219.70 L564.43 220.31 L565.16 220.92 L565.88 221.54 L566.61 222.15 L567.34 222.77 L568.06 223.40 L568.79 224.02 L569.52 224.64 L570.24 225.27 L570.97 225.90 L571.70 226.52 L572.42 227.15 L573.15 227.78 L573.88 228.40 L574.60 229.03 L575.33 229.65 L576.06 230.28 L576.78 230.90 L577.51 231.52 L578.24 232.14 L578.96 232.75 L579.69 233.36 L580.42 233.97 L581.15 234.57 L581.87 235.17 L582.60 235.76 L583.33 236.35 L584.05 236.94 L584.78 237.51 L585.51 238.08 L586.23 238.65 L586.96 239.20 L587.69 239.75 L588.41 240.29 L589.14 240.82 L589.87 241.35 L590.59 241.86 L591.32 242.36 L592.05 242.85 L592.77 243.34 L593.50 243.81 L594.23 244.26 L594.95 244.71 L595.68 245.14 L596.41 245.57 L597.13 245.97 L597.86 246.37 L598.59 246.75 L599.32 247.11 L600.04 247.46 L600.77 247.80 L601.50 248.12 L602.22 248.42 L602.95 248.71 L603.68 248.98 L604.40 249.23 L605.13 249.47 L605.86 249.69 L606.58 249.89 L607.31 250.07 L608.04 250.24 L608.76 250.39 L609.49 250.52 L610.22 250.63 L610.94 250.72 L611.67 250.79 L612.40 250.85 L613.12 250.88 L613.85 250.90 L614.58 250.90 L615.31 250.88 L616.03 250.84 L616.76 250.78 L617.49 250.70 L618.21 250.61 L618.94 250.49 L619.67 250.36 L620.39 250.21 L621.12 250.04 L621.85 249.85 L622.57 249.65 L623.30 249.43" stroke="#EDB120" stroke-dasharray="3 2"/>
</g>
<g font-family="'Liberation Sans', Arial, Helvetica, sans-serif" font-size="33.2" fill="#262626">
<text x="100.0" y="441.4" text-anchor="middle">-180</text>
<text x="230.8" y="441.4" text-anchor="middle">-90</text>
<text x="361.6" y="441.4" text-anchor="middle">0</text>
<text x="492.5" y="441.4" text-anchor="middle">90</text>
<text x="623.3" y="441.4" text-anchor="middle">180</text>
<text x="88.8" y="25.0" text-anchor="end">0</text>
<text x="88.8" y="102.2" text-anchor="end">-5</text>
<text x="88.8" y="179.4" text-anchor="end">-10</text>
<text x="88.8" y="256.5" text-anchor="end">-15</text>
<text x="88.8" y="333.7" text-anchor="end">-20</text>
<text x="88.8" y="410.9" text-anchor="end">-25</text>
</g>
<g font-family="'Liberation Sans', Arial, Helvetica, sans-serif" font-size="36.8" fill="#262626">
<text x="361.6" y="489.2" text-anchor="middle">Angle (deg.)</text>
<text transform="translate(27.2 205.4) rotate(-90)" text-anchor="middle" font-size="36.6">Normalized Gain (dB)</text>
</g>
<text x="324.7" y="561.5" text-anchor="middle" font-family="'Liberation Serif', 'Times New Roman', serif" font-size="60" fill="#000">(a)</text>
<clipPath id="clip_b"><rect x="795.5" y="8.5" width="523.0" height="388.9"/></clipPath>
<path d="M926.2 11.5 V397.4 M1057.0 11.5 V397.4 M1187.8 11.5 V397.4 M795.5 88.7 H1318.5 M795.5 165.9 H1318.5 M795.5 243.0 H1318.5 M795.5 320.2 H1318.5" stroke="#E1E1E1" stroke-width="1" fill="none"/>
<path d="M926.2 397.4 v-6.2 M926.2 11.5 v6.2 M1057.0 397.4 v-6.2 M1057.0 11.5 v6.2 M1187.8 397.4 v-6.2 M1187.8 11.5 v6.2 M795.5 88.7 h6.2 M1318.5 88.7 h-6.2 M795.5 165.9 h6.2 M1318.5 165.9 h-6.2 M795.5 243.0 h6.2 M1318.5 243.0 h-6.2 M795.5 320.2 h6.2 M1318.5 320.2 h-6.2" stroke="#4f4f4f" stroke-width="1.2" fill="none"/>
<rect x="795.5" y="11.5" width="523.0" height="385.9" fill="none" stroke="#4f4f4f" stroke-width="1.25"/>
<g clip-path="url(#clip_b)" fill="none" stroke-width="3" stroke-linejoin="round">
<path d="M795.50 13.20 L1318.50 13.20" stroke="#0072BD"/>
<path d="M795.50 172.29 L796.23 174.26 L796.95 176.18 L797.68 178.05 L798.41 179.86 L799.13 181.61 L799.86 183.28 L800.58 184.86 L801.31 186.36 L802.04 187.76 L802.76 189.06 L803.49 190.24 L804.22 191.31 L804.94 192.25 L805.67 193.06 L806.40 193.73 L807.12 194.27 L807.85 194.66 L808.58 194.90 L809.30 195.00 L810.03 194.95 L810.75 194.75 L811.48 194.40 L812.21 193.91 L812.93 193.28 L813.66 192.51 L814.39 191.60 L815.11 190.58 L815.84 189.43 L816.57 188.17 L817.29 186.80 L818.02 185.33 L818.74 183.77 L819.47 182.13 L820.20 180.41 L820.92 178.62 L821.65 176.77 L822.38 174.86 L823.10 172.90 L823.83 170.90 L824.56 168.86 L825.28 166.80 L826.01 164.70 L826.73 162.58 L827.46 160.45 L828.19 158.31 L828.91 156.15 L829.64 153.99 L830.37 151.83 L831.09 149.66 L831.82 147.51 L832.55 145.35 L833.27 143.21 L834.00 141.07 L834.73 138.95 L835.45 136.84 L836.18 134.74 L836.90 132.66 L837.63 130.60 L838.36 128.55 L839.08 126.53 L839.81 124.52 L840.54 122.53 L841.26 120.56 L841.99 118.62 L842.72 116.70 L843.44 114.79 L844.17 112.92 L844.89 111.06 L845.62 109.22 L846.35 107.41 L847.07 105.62 L847.80 103.86 L848.53 102.12 L849.25 100.40 L849.98 98.70 L850.71 97.03 L851.43 95.37 L852.16 93.75 L852.88 92.14 L853.61 90.56 L854.34 89.00 L855.06 87.46 L855.79 85.95 L856.52 84.45 L857.24 82.98 L857.97 81.53 L858.70 80.10 L859.42 78.70 L860.15 77.31 L860.88 75.95 L861.60 74.60 L862.33 73.28 L863.05 71.98 L863.78 70.70 L864.51 69.44 L865.23 68.20 L865.96 66.98 L866.69 65.77 L867.41 64.59 L868.14 63.43 L868.87 62.28 L869.59 61.16 L870.32 60.05 L871.04 58.96 L871.77 57.89 L872.50 56.83 L873.22 55.80 L873.95 54.78 L874.68 53.78 L875.40 52.79 L876.13 51.82 L876.86 50.87 L877.58 49.94 L878.31 49.02 L879.03 48.11 L879.76 47.22 L880.49 46.35 L881.21 45.49 L881.94 44.65 L882.67 43.82 L883.39 43.01 L884.12 42.21 L884.85 41.42 L885.57 40.65 L886.30 39.89 L887.02 39.14 L887.75 38.41 L888.48 37.69 L889.20 36.98 L889.93 36.28 L890.66 35.60 L891.38 34.93 L892.11 34.27 L892.84 33.62 L893.56 32.98 L894.29 32.36 L895.02 31.74 L895.74 31.14 L896.47 30.55 L897.19 29.96 L897.92 29.39 L898.65 28.83 L899.37 28.27 L900.10 27.73 L900.83 27.20 L901.55 26.67 L902.28 26.16 L903.01 25.65 L903.73 25.16 L904.46 24.67 L905.18 24.19 L905.91 23.72 L906.64 23.26 L907.36 22.81 L908.09 22.36 L908.82 21.93 L909.54 21.50 L910.27 21.08 L911.00 20.67 L911.72 20.27 L912.45 19.87 L913.17 19.49 L913.90 19.11 L914.63 18.74 L915.35 18.38 L916.08 18.02 L916.81 17.68 L917.53 17.34 L918.26 17.01 L918.99 16.69 L919.71 16.37 L920.44 16.07 L921.17 15.77 L921.89 15.48 L922.62 15.20 L923.34 14.93 L924.07 14.67 L924.80 14.41 L925.52 14.16 L926.25 13.93 L926.98 13.70 L927.70 13.48 L928.43 13.27 L929.16 13.06 L929.88 12.87 L930.61 12.69 L931.33 12.51 L932.06 12.35 L932.79 12.19 L933.51 12.05 L934.24 11.91 L934.97 11.79 L935.69 11.67 L936.42 11.57 L937.15 11.47 L937.87 11.39 L938.60 11.31 L939.33 11.25 L940.05 11.19 L940.78 11.15 L941.50 11.12 L942.23 11.10 L942.96 11.09 L943.68 11.10 L944.41 11.11 L945.14 11.14 L945.86 11.17 L946.59 11.22 L947.32 11.28 L948.04 11.35 L948.77 11.44 L949.49 11.54 L950.22 11.64 L950.95 11.76 L951.67 11.90 L952.40 12.04 L953.13 12.20 L953.85 12.37 L954.58 12.55 L955.31 12.75 L956.03 12.96 L956.76 13.18 L957.48 13.41 L958.21 13.66 L958.94 13.92 L959.66 14.19 L960.39 14.47 L961.12 14.77 L961.84 15.08 L962.57 15.40 L963.30 15.73 L964.02 16.08 L964.75 16.44 L965.48 16.81 L966.20 17.20 L966.93 17.60 L967.65 18.01 L968.38 18.43 L969.11 18.86 L969.83 19.31 L970.56 19.77 L971.29 20.24 L972.01 20.73 L972.74 21.23 L973.47 21.74 L974.19 22.26 L974.92 22.79 L975.64 23.34 L976.37 23.89 L977.10 24.46 L977.82 25.04 L978.55 25.64 L979.28 26.24 L980.00 26.86 L980.73 27.48 L981.46 28.12 L982.18 28.77 L982.91 29.44 L983.63 30.11 L984.36 30.80 L985.09 31.49 L985.81 32.20 L986.54 32.92 L987.27 33.65 L987.99 34.40 L988.72 35.15 L989.45 35.91 L990.17 36.69 L990.90 37.48 L991.62 38.28 L992.35 39.09 L993.08 39.91 L993.80 40.75 L994.53 41.59 L995.26 42.45 L995.98 43.32 L996.71 44.20 L997.44 45.09 L998.16 46.00 L998.89 46.92 L999.62 47.85 L1000.34 48.79 L1001.07 49.74 L1001.79 50.71 L1002.52 51.69 L1003.25 52.68 L1003.97 53.69 L1004.70 54.71 L1005.43 55.74 L1006.15 56.79 L1006.88 57.85 L1007.61 58.93 L1008.33 60.02 L1009.06 61.12 L1009.78 62.24 L1010.51 63.38 L1011.24 64.53 L1011.96 65.69 L1012.69 66.88 L1013.42 68.08 L1014.14 69.29 L1014.87 70.53 L1015.60 71.78 L1016.32 73.05 L1017.05 74.34 L1017.77 75.64 L1018.50 76.97 L1019.23 78.31 L1019.95 79.68 L1020.68 81.06 L1021.41 82.46 L1022.13 83.89 L1022.86 85.34 L1023.59 86.81 L1024.31 88.30 L1025.04 89.81 L1025.77 91.34 L1026.49 92.90 L1027.22 94.49 L1027.94 96.09 L1028.67 97.73 L1029.40 99.38 L1030.12 101.06 L1030.85 102.77 L1031.58 104.50 L1032.30 106.26 L1033.03 108.05 L1033.76 109.86 L1034.48 111.70 L1035.21 113.57 L1035.93 115.46 L1036.66 117.38 L1037.39 119.33 L1038.11 121.31 L1038.84 123.31 L1039.57 125.34 L1040.29 127.40 L1041.02 129.49 L1041.75 131.61 L1042.47 133.75 L1043.20 135.91 L1043.92 138.11 L1044.65 140.32 L1045.38 142.56 L1046.10 144.83 L1046.83 147.11 L1047.56 149.42 L1048.28 151.74 L1049.01 154.08 L1049.74 156.43 L1050.46 158.79 L1051.19 161.17 L1051.92 163.55 L1052.64 165.93 L1053.37 168.30 L1054.09 170.67 L1054.82 173.03 L1055.55 175.38 L1056.27 177.70 L1057.00 179.99 L1057.73 182.25 L1058.45 184.46 L1059.18 186.62 L1059.91 188.72 L1060.63 190.76 L1061.36 192.72 L1062.08 194.59 L1062.81 196.36 L1063.54 198.03 L1064.26 199.58 L1064.99 201.01 L1065.72 202.30 L1066.44 203.45 L1067.17 204.45 L1067.90 205.29 L1068.62 205.96 L1069.35 206.46 L1070.08 206.79 L1070.80 206.94 L1071.53 206.92 L1072.25 206.71 L1072.98 206.33 L1073.71 205.78 L1074.43 205.06 L1075.16 204.17 L1075.89 203.13 L1076.61 201.95 L1077.34 200.62 L1078.07 199.16 L1078.79 197.59 L1079.52 195.90 L1080.24 194.10 L1080.97 192.22 L1081.70 190.25 L1082.42 188.21 L1083.15 186.10 L1083.88 183.94 L1084.60 181.73 L1085.33 179.47 L1086.06 177.19 L1086.78 174.87 L1087.51 172.53 L1088.23 170.17 L1088.96 167.80 L1089.69 165.43 L1090.41 163.05 L1091.14 160.67 L1091.87 158.29 L1092.59 155.92 L1093.32 153.56 L1094.05 151.20 L1094.77 148.87 L1095.50 146.54 L1096.22 144.24 L1096.95 141.95 L1097.68 139.68 L1098.40 137.43 L1099.13 135.21 L1099.86 133.00 L1100.58 130.82 L1101.31 128.66 L1102.04 126.53 L1102.76 124.41 L1103.49 122.33 L1104.22 120.27 L1104.94 118.23 L1105.67 116.22 L1106.39 114.23 L1107.12 112.27 L1107.85 110.33 L1108.57 108.42 L1109.30 106.53 L1110.03 104.67 L1110.75 102.83 L1111.48 101.02 L1112.21 99.23 L1112.93 97.47 L1113.66 95.73 L1114.38 94.01 L1115.11 92.32 L1115.84 90.66 L1116.56 89.01 L1117.29 87.39 L1118.02 85.80 L1118.74 84.23 L1119.47 82.68 L1120.20 81.15 L1120.92 79.65 L1121.65 78.17 L1122.38 76.71 L1123.10 75.27 L1123.83 73.86 L1124.55 72.46 L1125.28 71.09 L1126.01 69.74 L1126.73 68.42 L1127.46 67.11 L1128.19 65.82 L1128.91 64.56 L1129.64 63.31 L1130.37 62.09 L1131.09 60.88 L1131.82 59.70 L1132.54 58.54 L1133.27 57.39 L1134.00 56.27 L1134.72 55.16 L1135.45 54.07 L1136.18 53.00 L1136.90 51.95 L1137.63 50.92 L1138.36 49.91 L1139.08 48.92 L1139.81 47.94 L1140.53 46.98 L1141.26 46.04 L1141.99 45.12 L1142.71 44.21 L1143.44 43.32 L1144.17 42.44 L1144.89 41.59 L1145.62 40.75 L1146.35 39.92 L1147.07 39.11 L1147.80 38.32 L1148.53 37.54 L1149.25 36.78 L1149.98 36.03 L1150.70 35.30 L1151.43 34.58 L1152.16 33.87 L1152.88 33.18 L1153.61 32.51 L1154.34 31.85 L1155.06 31.20 L1155.79 30.56 L1156.52 29.94 L1157.24 29.33 L1157.97 28.73 L1158.69 28.15 L1159.42 27.58 L1160.15 27.02 L1160.87 26.47 L1161.60 25.93 L1162.33 25.41 L1163.05 24.90 L1163.78 24.40 L1164.51 23.91 L1165.23 23.43 L1165.96 22.96 L1166.68 22.50 L1167.41 22.05 L1168.14 21.62 L1168.86 21.19 L1169.59 20.77 L1170.32 20.36 L1171.04 19.97 L1171.77 19.58 L1172.50 19.20 L1173.22 18.83 L1173.95 18.47 L1174.67 18.12 L1175.40 17.78 L1176.13 17.45 L1176.85 17.13 L1177.58 16.82 L1178.31 16.51 L1179.03 16.22 L1179.76 15.93 L1180.49 15.65 L1181.21 15.38 L1181.94 15.12 L1182.67 14.87 L1183.39 14.62 L1184.12 14.39 L1184.84 14.16 L1185.57 13.94 L1186.30 13.73 L1187.02 13.53 L1187.75 13.34 L1188.48 13.16 L1189.20 12.98 L1189.93 12.81 L1190.66 12.66 L1191.38 12.51 L1192.11 12.37 L1192.83 12.24 L1193.56 12.11 L1194.29 12.00 L1195.01 11.89 L1195.74 11.80 L1196.47 11.71 L1197.19 11.64 L1197.92 11.57 M1207.36 11.56 L1208.09 11.62 L1208.82 11.70 L1209.54 11.79 L1210.27 11.89 L1210.99 12.01 L1211.72 12.13 L1212.45 12.26 L1213.17 12.40 L1213.90 12.56 L1214.63 12.72 L1215.35 12.90 L1216.08 13.09 L1216.81 13.28 L1217.53 13.49 L1218.26 13.71 L1218.98 13.95 L1219.71 14.19 L1220.44 14.44 L1221.16 14.71 L1221.89 14.99 L1222.62 15.28 L1223.34 15.58 L1224.07 15.89 L1224.80 16.21 L1225.52 16.55 L1226.25 16.89 L1226.97 17.25 L1227.70 17.62 L1228.43 18.00 L1229.15 18.39 L1229.88 18.80 L1230.61 19.21 L1231.33 19.64 L1232.06 20.08 L1232.79 20.53 L1233.51 20.99 L1234.24 21.47 L1234.97 21.95 L1235.69 22.45 L1236.42 22.96 L1237.14 23.48 L1237.87 24.01 L1238.60 24.55 L1239.32 25.11 L1240.05 25.68 L1240.78 26.25 L1241.50 26.84 L1242.23 27.44 L1242.96 28.05 L1243.68 28.68 L1244.41 29.31 L1245.13 29.96 L1245.86 30.62 L1246.59 31.29 L1247.31 31.97 L1248.04 32.66 L1248.77 33.36 L1249.49 34.08 L1250.22 34.81 L1250.95 35.55 L1251.67 36.30 L1252.40 37.06 L1253.12 37.83 L1253.85 38.62 L1254.58 39.41 L1255.30 40.22 L1256.03 41.04 L1256.76 41.88 L1257.48 42.72 L1258.21 43.58 L1258.94 44.45 L1259.66 45.33 L1260.39 46.23 L1261.12 47.13 L1261.84 48.05 L1262.57 48.98 L1263.29 49.93 L1264.02 50.89 L1264.75 51.86 L1265.47 52.85 L1266.20 53.84 L1266.93 54.86 L1267.65 55.88 L1268.38 56.92 L1269.11 57.98 L1269.83 59.05 L1270.56 60.13 L1271.28 61.23 L1272.01 62.35 L1272.74 63.48 L1273.46 64.62 L1274.19 65.78 L1274.92 66.96 L1275.64 68.15 L1276.37 69.37 L1277.10 70.59 L1277.82 71.84 L1278.55 73.10 L1279.28 74.38 L1280.00 75.68 L1280.73 76.99 L1281.45 78.33 L1282.18 79.68 L1282.91 81.05 L1283.63 82.45 L1284.36 83.86 L1285.09 85.29 L1285.81 86.74 L1286.54 88.22 L1287.27 89.71 L1287.99 91.23 L1288.72 92.76 L1289.44 94.32 L1290.17 95.90 L1290.90 97.50 L1291.62 99.13 L1292.35 100.78 L1293.08 102.45 L1293.80 104.14 L1294.53 105.86 L1295.26 107.60 L1295.98 109.36 L1296.71 111.14 L1297.43 112.95 L1298.16 114.79 L1298.89 116.64 L1299.61 118.52 L1300.34 120.42 L1301.07 122.34 L1301.79 124.29 L1302.52 126.26 L1303.25 128.24 L1303.97 130.25 L1304.70 132.28 L1305.42 134.33 L1306.15 136.39 L1306.88 138.47 L1307.60 140.57 L1308.33 142.68 L1309.06 144.80 L1309.78 146.94 L1310.51 149.08 L1311.24 151.22 L1311.96 153.37 L1312.69 155.53 L1313.42 157.67 L1314.14 159.81 L1314.87 161.94 L1315.59 164.06 L1316.32 166.16 L1317.05 168.23 L1317.77 170.28 L1318.50 172.29" stroke="#D95319"/>
<path d="M795.50 173.30 L796.23 173.62 L796.95 173.83 L797.68 173.93 L798.41 173.93 L799.13 173.82 L799.86 173.60 L800.58 173.29 L801.31 172.87 L802.04 172.35 L802.76 171.73 L803.49 171.01 L804.22 170.21 L804.94 169.32 L805.67 168.34 L806.40 167.28 L807.12 166.15 L807.85 164.94 L808.58 163.67 L809.30 162.34 L810.03 160.95 L810.75 159.50 L811.48 158.00 L812.21 156.46 L812.93 154.88 L813.66 153.26 L814.39 151.61 L815.11 149.93 L815.84 148.22 L816.57 146.48 L817.29 144.73 L818.02 142.96 L818.74 141.18 L819.47 139.38 L820.20 137.57 L820.92 135.76 L821.65 133.94 L822.38 132.12 L823.10 130.30 L823.83 128.47 L824.56 126.65 L825.28 124.84 L826.01 123.02 L826.73 121.21 L827.46 119.41 L828.19 117.62 L828.91 115.83 L829.64 114.06 L830.37 112.29 L831.09 110.54 L831.82 108.80 L832.55 107.07 L833.27 105.35 L834.00 103.65 L834.73 101.96 L835.45 100.28 L836.18 98.62 L836.90 96.98 L837.63 95.35 L838.36 93.73 L839.08 92.13 L839.81 90.55 L840.54 88.99 L841.26 87.44 L841.99 85.90 L842.72 84.39 L843.44 82.89 L844.17 81.41 L844.89 79.94 L845.62 78.50 L846.35 77.07 L847.07 75.66 L847.80 74.26 L848.53 72.89 L849.25 71.53 L849.98 70.19 L850.71 68.87 L851.43 67.57 L852.16 66.29 L852.88 65.02 L853.61 63.77 L854.34 62.54 L855.06 61.33 L855.79 60.14 L856.52 58.97 L857.24 57.81 L857.97 56.67 L858.70 55.56 L859.42 54.46 L860.15 53.37 L860.88 52.31 L861.60 51.27 L862.33 50.24 L863.05 49.23 L863.78 48.24 L864.51 47.27 L865.23 46.31 L865.96 45.37 L866.69 44.45 L867.41 43.55 L868.14 42.67 L868.87 41.80 L869.59 40.95 L870.32 40.12 L871.04 39.30 L871.77 38.51 L872.50 37.72 L873.22 36.96 L873.95 36.21 L874.68 35.48 L875.40 34.76 L876.13 34.06 L876.86 33.38 L877.58 32.71 L878.31 32.05 L879.03 31.41 L879.76 30.79 L880.49 30.18 L881.21 29.58 L881.94 29.00 L882.67 28.44 L883.39 27.88 L884.12 27.35 L884.85 26.82 L885.57 26.31 L886.30 25.81 L887.02 25.32 L887.75 24.85 L888.48 24.38 L889.20 23.93 L889.93 23.49 L890.66 23.07 L891.38 22.65 L892.11 22.24 L892.84 21.85 L893.56 21.47 L894.29 21.09 L895.02 20.73 L895.74 20.37 L896.47 20.03 L897.19 19.70 L897.92 19.37 L898.65 19.05 L899.37 18.75 L900.10 18.45 L900.83 18.16 L901.55 17.88 L902.28 17.60 L903.01 17.34 L903.73 17.08 L904.46 16.83 L905.18 16.59 L905.91 16.35 L906.64 16.12 L907.36 15.90 L908.09 15.69 L908.82 15.48 L909.54 15.28 L910.27 15.09 L911.00 14.91 L911.72 14.73 L912.45 14.55 L913.17 14.39 L913.90 14.23 L914.63 14.07 L915.35 13.92 L916.08 13.78 L916.81 13.65 L917.53 13.52 L918.26 13.40 L918.99 13.29 L919.71 13.18 L920.44 13.07 L921.17 12.98 L921.89 12.89 L922.62 12.81 L923.34 12.73 L924.07 12.66 L924.80 12.60 L925.52 12.54 L926.25 12.50 L926.98 12.46 L927.70 12.42 L928.43 12.39 L929.16 12.38 L929.88 12.36 L930.61 12.36 L931.33 12.36 L932.06 12.37 L932.79 12.39 L933.51 12.42 L934.24 12.46 L934.97 12.50 L935.69 12.56 L936.42 12.62 L937.15 12.69 L937.87 12.77 L938.60 12.85 L939.33 12.95 L940.05 13.06 L940.78 13.17 L941.50 13.30 L942.23 13.44 L942.96 13.58 L943.68 13.74 L944.41 13.90 L945.14 14.08 L945.86 14.26 L946.59 14.46 L947.32 14.67 L948.04 14.89 L948.77 15.12 L949.49 15.36 L950.22 15.61 L950.95 15.87 L951.67 16.14 L952.40 16.43 L953.13 16.72 L953.85 17.03 L954.58 17.35 L955.31 17.68 L956.03 18.02 L956.76 18.37 L957.48 18.74 L958.21 19.12 L958.94 19.50 L959.66 19.91 L960.39 20.32 L961.12 20.74 L961.84 21.18 L962.57 21.63 L963.30 22.09 L964.02 22.56 L964.75 23.05 L965.48 23.55 L966.20 24.06 L966.93 24.58 L967.65 25.11 L968.38 25.66 L969.11 26.22 L969.83 26.79 L970.56 27.37 L971.29 27.96 L972.01 28.57 L972.74 29.19 L973.47 29.82 L974.19 30.46 L974.92 31.12 L975.64 31.78 L976.37 32.46 L977.10 33.15 L977.82 33.86 L978.55 34.57 L979.28 35.30 L980.00 36.04 L980.73 36.79 L981.46 37.56 L982.18 38.33 L982.91 39.12 L983.63 39.92 L984.36 40.74 L985.09 41.56 L985.81 42.40 L986.54 43.25 L987.27 44.11 L987.99 44.98 L988.72 45.87 L989.45 46.77 L990.17 47.68 L990.90 48.61 L991.62 49.55 L992.35 50.50 L993.08 51.46 L993.80 52.44 L994.53 53.43 L995.26 54.44 L995.98 55.45 L996.71 56.48 L997.44 57.53 L998.16 58.59 L998.89 59.66 L999.62 60.75 L1000.34 61.85 L1001.07 62.97 L1001.79 64.10 L1002.52 65.25 L1003.25 66.41 L1003.97 67.59 L1004.70 68.78 L1005.43 69.99 L1006.15 71.22 L1006.88 72.46 L1007.61 73.72 L1008.33 74.99 L1009.06 76.28 L1009.78 77.59 L1010.51 78.92 L1011.24 80.26 L1011.96 81.62 L1012.69 83.00 L1013.42 84.40 L1014.14 85.81 L1014.87 87.25 L1015.60 88.70 L1016.32 90.17 L1017.05 91.66 L1017.77 93.17 L1018.50 94.70 L1019.23 96.25 L1019.95 97.82 L1020.68 99.41 L1021.41 101.01 L1022.13 102.64 L1022.86 104.28 L1023.59 105.95 L1024.31 107.63 L1025.04 109.33 L1025.77 111.05 L1026.49 112.79 L1027.22 114.55 L1027.94 116.32 L1028.67 118.11 L1029.40 119.92 L1030.12 121.74 L1030.85 123.58 L1031.58 125.43 L1032.30 127.30 L1033.03 129.17 L1033.76 131.06 L1034.48 132.95 L1035.21 134.86 L1035.93 136.77 L1036.66 138.68 L1037.39 140.59 L1038.11 142.51 L1038.84 144.42 L1039.57 146.32 L1040.29 148.22 L1041.02 150.11 L1041.75 151.98 L1042.47 153.83 L1043.20 155.66 L1043.92 157.46 L1044.65 159.24 L1045.38 160.98 L1046.10 162.68 L1046.83 164.33 L1047.56 165.94 L1048.28 167.49 L1049.01 168.98 L1049.74 170.40 L1050.46 171.76 L1051.19 173.04 L1051.92 174.23 L1052.64 175.34 L1053.37 176.36 L1054.09 177.29 L1054.82 178.11 L1055.55 178.82 L1056.27 179.43 L1057.00 179.93 L1057.73 180.31 L1058.45 180.58 L1059.18 180.73 L1059.91 180.76 L1060.63 180.67 L1061.36 180.47 L1062.08 180.15 L1062.81 179.71 L1063.54 179.17 L1064.26 178.51 L1064.99 177.75 L1065.72 176.89 L1066.44 175.93 L1067.17 174.88 L1067.90 173.74 L1068.62 172.51 L1069.35 171.21 L1070.08 169.84 L1070.80 168.40 L1071.53 166.90 L1072.25 165.34 L1072.98 163.72 L1073.71 162.07 L1074.43 160.36 L1075.16 158.62 L1075.89 156.85 L1076.61 155.05 L1077.34 153.22 L1078.07 151.36 L1078.79 149.49 L1079.52 147.61 L1080.24 145.71 L1080.97 143.80 L1081.70 141.88 L1082.42 139.96 L1083.15 138.04 L1083.88 136.11 L1084.60 134.19 L1085.33 132.27 L1086.06 130.35 L1086.78 128.44 L1087.51 126.53 L1088.23 124.64 L1088.96 122.75 L1089.69 120.88 L1090.41 119.01 L1091.14 117.16 L1091.87 115.32 L1092.59 113.50 L1093.32 111.68 L1094.05 109.89 L1094.77 108.11 L1095.50 106.34 L1096.22 104.59 L1096.95 102.86 L1097.68 101.14 L1098.40 99.44 L1099.13 97.76 L1099.86 96.09 L1100.58 94.45 L1101.31 92.82 L1102.04 91.21 L1102.76 89.61 L1103.49 88.04 L1104.22 86.48 L1104.94 84.95 L1105.67 83.43 L1106.39 81.93 L1107.12 80.45 L1107.85 78.98 L1108.57 77.54 L1109.30 76.12 L1110.03 74.71 L1110.75 73.33 L1111.48 71.96 L1112.21 70.61 L1112.93 69.28 L1113.66 67.97 L1114.38 66.68 L1115.11 65.41 L1115.84 64.16 L1116.56 62.92 L1117.29 61.71 L1118.02 60.51 L1118.74 59.34 L1119.47 58.18 L1120.20 57.04 L1120.92 55.92 L1121.65 54.82 L1122.38 53.73 L1123.10 52.67 L1123.83 51.62 L1124.55 50.59 L1125.28 49.58 L1126.01 48.59 L1126.73 47.62 L1127.46 46.66 L1128.19 45.72 L1128.91 44.80 L1129.64 43.89 L1130.37 43.01 L1131.09 42.14 L1131.82 41.28 L1132.54 40.45 L1133.27 39.63 L1134.00 38.83 L1134.72 38.04 L1135.45 37.27 L1136.18 36.51 L1136.90 35.78 L1137.63 35.05 L1138.36 34.34 L1139.08 33.65 L1139.81 32.97 L1140.53 32.31 L1141.26 31.66 L1141.99 31.03 L1142.71 30.40 L1143.44 29.80 L1144.17 29.20 L1144.89 28.62 L1145.62 28.06 L1146.35 27.50 L1147.07 26.96 L1147.80 26.43 L1148.53 25.92 L1149.25 25.41 L1149.98 24.92 L1150.70 24.44 L1151.43 23.97 L1152.16 23.51 L1152.88 23.06 L1153.61 22.63 L1154.34 22.20 L1155.06 21.79 L1155.79 21.38 L1156.52 20.98 L1157.24 20.60 L1157.97 20.22 L1158.69 19.85 L1159.42 19.50 L1160.15 19.15 L1160.87 18.81 L1161.60 18.47 L1162.33 18.15 L1163.05 17.84 L1163.78 17.53 L1164.51 17.23 L1165.23 16.94 L1165.96 16.66 L1166.68 16.38 L1167.41 16.12 L1168.14 15.86 L1168.86 15.60 L1169.59 15.36 L1170.32 15.12 L1171.04 14.89 L1171.77 14.67 L1172.50 14.45 L1173.22 14.25 L1173.95 14.04 L1174.67 13.85 L1175.40 13.66 L1176.13 13.48 L1176.85 13.31 L1177.58 13.14 L1178.31 12.99 L1179.03 12.83 L1179.76 12.69 L1180.49 12.55 L1181.21 12.42 L1181.94 12.30 L1182.67 12.19 L1183.39 12.08 L1184.12 11.98 L1184.84 11.89 L1185.57 11.80 L1186.30 11.73 L1187.02 11.66 L1187.75 11.60 L1188.48 11.55 L1189.20 11.50 L1189.93 11.47 L1190.66 11.44 L1191.38 11.42 L1192.11 11.41 L1192.83 11.41 L1193.56 11.42 L1194.29 11.44 L1195.01 11.47 L1195.74 11.50 L1196.47 11.55 L1197.19 11.61 L1197.92 11.67 L1198.65 11.75 L1199.37 11.83 L1200.10 11.93 L1200.83 12.04 L1201.55 12.15 L1202.28 12.28 L1203.00 12.42 L1203.73 12.57 L1204.46 12.73 L1205.18 12.90 L1205.91 13.08 L1206.64 13.27 L1207.36 13.48 L1208.09 13.70 L1208.82 13.92 L1209.54 14.16 L1210.27 14.41 L1210.99 14.68 L1211.72 14.95 L1212.45 15.24 L1213.17 15.53 L1213.90 15.84 L1214.63 16.17 L1215.35 16.50 L1216.08 16.85 L1216.81 17.21 L1217.53 17.58 L1218.26 17.96 L1218.98 18.36 L1219.71 18.76 L1220.44 19.18 L1221.16 19.61 L1221.89 20.06 L1222.62 20.51 L1223.34 20.98 L1224.07 21.46 L1224.80 21.95 L1225.52 22.46 L1226.25 22.98 L1226.97 23.50 L1227.70 24.04 L1228.43 24.60 L1229.15 25.16 L1229.88 25.74 L1230.61 26.33 L1231.33 26.93 L1232.06 27.54 L1232.79 28.16 L1233.51 28.79 L1234.24 29.44 L1234.97 30.10 L1235.69 30.77 L1236.42 31.45 L1237.14 32.14 L1237.87 32.84 L1238.60 33.56 L1239.32 34.28 L1240.05 35.02 L1240.78 35.77 L1241.50 36.53 L1242.23 37.30 L1242.96 38.08 L1243.68 38.87 L1244.41 39.68 L1245.13 40.49 L1245.86 41.32 L1246.59 42.16 L1247.31 43.00 L1248.04 43.86 L1248.77 44.73 L1249.49 45.61 L1250.22 46.51 L1250.95 47.41 L1251.67 48.33 L1252.40 49.25 L1253.12 50.19 L1253.85 51.14 L1254.58 52.10 L1255.30 53.07 L1256.03 54.06 L1256.76 55.06 L1257.48 56.06 L1258.21 57.09 L1258.94 58.12 L1259.66 59.16 L1260.39 60.22 L1261.12 61.29 L1261.84 62.38 L1262.57 63.47 L1263.29 64.59 L1264.02 65.71 L1264.75 66.85 L1265.47 68.00 L1266.20 69.16 L1266.93 70.34 L1267.65 71.54 L1268.38 72.74 L1269.11 73.97 L1269.83 75.21 L1270.56 76.46 L1271.28 77.73 L1272.01 79.01 L1272.74 80.31 L1273.46 81.63 L1274.19 82.96 L1274.92 84.31 L1275.64 85.68 L1276.37 87.06 L1277.10 88.46 L1277.82 89.87 L1278.55 91.31 L1279.28 92.76 L1280.00 94.23 L1280.73 95.71 L1281.45 97.21 L1282.18 98.73 L1282.91 100.27 L1283.63 101.82 L1284.36 103.39 L1285.09 104.98 L1285.81 106.59 L1286.54 108.21 L1287.27 109.84 L1287.99 111.50 L1288.72 113.17 L1289.44 114.85 L1290.17 116.55 L1290.90 118.26 L1291.62 119.98 L1292.35 121.72 L1293.08 123.46 L1293.80 125.22 L1294.53 126.98 L1295.26 128.76 L1295.98 130.54 L1296.71 132.32 L1297.43 134.10 L1298.16 135.89 L1298.89 137.68 L1299.61 139.46 L1300.34 141.23 L1301.07 143.00 L1301.79 144.76 L1302.52 146.50 L1303.25 148.22 L1303.97 149.93 L1304.70 151.61 L1305.42 153.26 L1306.15 154.88 L1306.88 156.46 L1307.60 158.00 L1308.33 159.50 L1309.06 160.95 L1309.78 162.35 L1310.51 163.69 L1311.24 164.96 L1311.96 166.17 L1312.69 167.31 L1313.42 168.37 L1314.14 169.34 L1314.87 170.24 L1315.59 171.04 L1316.32 171.75 L1317.05 172.37 L1317.77 172.89 L1318.50 173.30" stroke="#EDB120"/>
<path d="M795.50 15.82 L1318.50 15.82" stroke="#0072BD" stroke-dasharray="10 10"/>
<path d="M795.50 261.68 L796.23 267.33 L796.95 273.03 L797.68 278.74 L798.41 284.40 L799.13 289.96 L799.86 295.34 L800.58 300.46 L801.31 305.20 L802.04 309.45 L802.76 313.09 L803.49 315.99 L804.22 318.06 L804.94 319.19 L805.67 319.35 L806.40 318.52 L807.12 316.75 L807.85 314.10 L808.58 310.68 L809.30 306.60 L810.03 301.99 L810.75 296.97 L811.48 291.64 L812.21 286.11 L812.93 280.45 L813.66 274.73 L814.39 269.01 L815.11 263.31 L815.84 257.68 L816.57 252.13 L817.29 246.68 L818.02 241.35 L818.74 236.14 L819.47 231.06 L820.20 226.10 L820.92 221.28 L821.65 216.58 L822.38 212.01 L823.10 207.56 L823.83 203.23 L824.56 199.02 L825.28 194.92 L826.01 190.93 L826.73 187.05 L827.46 183.27 L828.19 179.59 L828.91 176.01 L829.64 172.51 L830.37 169.11 L831.09 165.79 L831.82 162.56 L832.55 159.40 L833.27 156.32 L834.00 153.31 L834.73 150.37 L835.45 147.51 L836.18 144.70 L836.90 141.97 L837.63 139.29 L838.36 136.67 L839.08 134.12 L839.81 131.61 L840.54 129.16 L841.26 126.77 L841.99 124.42 L842.72 122.12 L843.44 119.87 L844.17 117.67 L844.89 115.51 L845.62 113.39 L846.35 111.32 L847.07 109.28 L847.80 107.29 L848.53 105.33 L849.25 103.41 L849.98 101.53 L850.71 99.69 L851.43 97.88 L852.16 96.10 L852.88 94.35 L853.61 92.64 L854.34 90.96 L855.06 89.31 L855.79 87.69 L856.52 86.09 L857.24 84.53 L857.97 82.99 L858.70 81.48 L859.42 80.00 L860.15 78.54 L860.88 77.11 L861.60 75.70 L862.33 74.32 L863.05 72.96 L863.78 71.63 L864.51 70.31 L865.23 69.02 L865.96 67.75 L866.69 66.50 L867.41 65.28 L868.14 64.07 L868.87 62.89 L869.59 61.72 L870.32 60.58 L871.04 59.45 L871.77 58.34 L872.50 57.25 L873.22 56.18 L873.95 55.13 L874.68 54.10 L875.40 53.08 L876.13 52.08 L876.86 51.10 L877.58 50.13 L878.31 49.18 L879.03 48.25 L879.76 47.33 L880.49 46.43 L881.21 45.55 L881.94 44.68 L882.67 43.82 L883.39 42.98 L884.12 42.16 L884.85 41.35 L885.57 40.55 L886.30 39.77 L887.02 39.01 L887.75 38.25 L888.48 37.51 L889.20 36.79 L889.93 36.08 L890.66 35.38 L891.38 34.70 L892.11 34.03 L892.84 33.37 L893.56 32.72 L894.29 32.09 L895.02 31.47 L895.74 30.87 L896.47 30.27 L897.19 29.69 L897.92 29.12 L898.65 28.57 L899.37 28.02 L900.10 27.49 L900.83 26.97 L901.55 26.46 L902.28 25.96 L903.01 25.48 L903.73 25.01 L904.46 24.55 L905.18 24.10 L905.91 23.66 L906.64 23.23 L907.36 22.82 L908.09 22.41 L908.82 22.02 L909.54 21.64 L910.27 21.27 L911.00 20.91 L911.72 20.56 L912.45 20.22 L913.17 19.90 L913.90 19.58 L914.63 19.28 L915.35 18.98 L916.08 18.70 L916.81 18.43 L917.53 18.16 L918.26 17.91 L918.99 17.67 L919.71 17.44 L920.44 17.22 L921.17 17.01 L921.89 16.81 L922.62 16.62 L923.34 16.44 L924.07 16.27 L924.80 16.11 L925.52 15.96 L926.25 15.83 L926.98 15.70 L927.70 15.58 L928.43 15.47 L929.16 15.37 L929.88 15.28 L930.61 15.21 L931.33 15.14 L932.06 15.08 L932.79 15.03 L933.51 14.99 L934.24 14.96 L934.97 14.94 L935.69 14.93 L936.42 14.93 L937.15 14.94 L937.87 14.96 L938.60 14.99 L939.33 15.03 L940.05 15.08 L940.78 15.14 L941.50 15.21 L942.23 15.29 L942.96 15.38 L943.68 15.48 L944.41 15.58 L945.14 15.70 L945.86 15.83 L946.59 15.97 L947.32 16.11 L948.04 16.27 L948.77 16.44 L949.49 16.61 L950.22 16.80 L950.95 16.99 L951.67 17.20 L952.40 17.42 L953.13 17.64 L953.85 17.88 L954.58 18.13 L955.31 18.38 L956.03 18.65 L956.76 18.93 L957.48 19.21 L958.21 19.51 L958.94 19.82 L959.66 20.14 L960.39 20.46 L961.12 20.80 L961.84 21.15 L962.57 21.51 L963.30 21.88 L964.02 22.27 L964.75 22.66 L965.48 23.06 L966.20 23.48 L966.93 23.91 L967.65 24.34 L968.38 24.79 L969.11 25.25 L969.83 25.72 L970.56 26.21 L971.29 26.70 L972.01 27.21 L972.74 27.73 L973.47 28.26 L974.19 28.81 L974.92 29.36 L975.64 29.93 L976.37 30.51 L977.10 31.11 L977.82 31.72 L978.55 32.34 L979.28 32.97 L980.00 33.62 L980.73 34.28 L981.46 34.95 L982.18 35.64 L982.91 36.35 L983.63 37.06 L984.36 37.80 L985.09 38.54 L985.81 39.30 L986.54 40.08 L987.27 40.87 L987.99 41.68 L988.72 42.50 L989.45 43.34 L990.17 44.20 L990.90 45.07 L991.62 45.96 L992.35 46.87 L993.08 47.79 L993.80 48.73 L994.53 49.69 L995.26 50.67 L995.98 51.66 L996.71 52.68 L997.44 53.71 L998.16 54.76 L998.89 55.83 L999.62 56.92 L1000.34 58.04 L1001.07 59.17 L1001.79 60.32 L1002.52 61.50 L1003.25 62.69 L1003.97 63.91 L1004.70 65.15 L1005.43 66.41 L1006.15 67.70 L1006.88 69.01 L1007.61 70.35 L1008.33 71.71 L1009.06 73.09 L1009.78 74.50 L1010.51 75.94 L1011.24 77.40 L1011.96 78.89 L1012.69 80.40 L1013.42 81.95 L1014.14 83.53 L1014.87 85.13 L1015.60 86.76 L1016.32 88.43 L1017.05 90.13 L1017.77 91.86 L1018.50 93.62 L1019.23 95.42 L1019.95 97.25 L1020.68 99.11 L1021.41 101.02 L1022.13 102.96 L1022.86 104.94 L1023.59 106.96 L1024.31 109.01 L1025.04 111.12 L1025.77 113.26 L1026.49 115.45 L1027.22 117.68 L1027.94 119.96 L1028.67 122.29 L1029.40 124.67 L1030.12 127.10 L1030.85 129.58 L1031.58 132.12 L1032.30 134.71 L1033.03 137.37 L1033.76 140.08 L1034.48 142.86 L1035.21 145.70 L1035.93 148.61 L1036.66 151.59 L1037.39 154.65 L1038.11 157.78 L1038.84 160.99 L1039.57 164.29 L1040.29 167.67 L1041.02 171.14 L1041.75 174.71 L1042.47 178.37 L1043.20 182.14 L1043.92 186.02 L1044.65 190.01 L1045.38 194.13 L1046.10 198.36 L1046.83 202.74 L1047.56 207.25 L1048.28 211.91 L1049.01 216.72 L1049.74 221.70 L1050.46 226.85 L1051.19 232.18 L1051.92 237.70 L1052.64 243.42 L1053.37 249.36 L1054.09 255.51 L1054.82 261.89 L1055.55 268.51 L1056.27 275.36 L1057.00 282.46 L1057.73 289.79 L1058.45 297.35 L1059.18 305.10 L1059.91 313.00 L1060.63 320.99 L1061.36 328.96 L1062.08 336.76 L1062.81 344.20 L1063.54 351.04 L1064.26 356.96 L1064.99 361.66 L1065.72 364.80 L1066.44 366.16 L1067.17 365.62 L1067.90 363.24 L1068.62 359.19 L1069.35 353.76 L1070.08 347.29 L1070.80 340.08 L1071.53 332.41 L1072.25 324.50 L1072.98 316.51 L1073.71 308.57 L1074.43 300.75 L1075.16 293.11 L1075.89 285.68 L1076.61 278.48 L1077.34 271.52 L1078.07 264.81 L1078.79 258.33 L1079.52 252.08 L1080.24 246.06 L1080.97 240.25 L1081.70 234.64 L1082.42 229.23 L1083.15 224.01 L1083.88 218.96 L1084.60 214.08 L1085.33 209.35 L1086.06 204.78 L1086.78 200.35 L1087.51 196.05 L1088.23 191.89 L1088.96 187.84 L1089.69 183.92 L1090.41 180.10 L1091.14 176.39 L1091.87 172.78 L1092.59 169.27 L1093.32 165.85 L1094.05 162.51 L1094.77 159.26 L1095.50 156.10 L1096.22 153.01 L1096.95 149.99 L1097.68 147.05 L1098.40 144.18 L1099.13 141.37 L1099.86 138.63 L1100.58 135.94 L1101.31 133.32 L1102.04 130.76 L1102.76 128.25 L1103.49 125.80 L1104.22 123.39 L1104.94 121.04 L1105.67 118.74 L1106.39 116.48 L1107.12 114.27 L1107.85 112.11 L1108.57 109.99 L1109.30 107.91 L1110.03 105.87 L1110.75 103.88 L1111.48 101.92 L1112.21 100.00 L1112.93 98.11 L1113.66 96.27 L1114.38 94.46 L1115.11 92.68 L1115.84 90.94 L1116.56 89.23 L1117.29 87.55 L1118.02 85.91 L1118.74 84.29 L1119.47 82.71 L1120.20 81.15 L1120.92 79.62 L1121.65 78.13 L1122.38 76.66 L1123.10 75.21 L1123.83 73.80 L1124.55 72.41 L1125.28 71.05 L1126.01 69.71 L1126.73 68.39 L1127.46 67.10 L1128.19 65.84 L1128.91 64.60 L1129.64 63.38 L1130.37 62.18 L1131.09 61.01 L1131.82 59.86 L1132.54 58.73 L1133.27 57.62 L1134.00 56.53 L1134.72 55.46 L1135.45 54.42 L1136.18 53.39 L1136.90 52.38 L1137.63 51.39 L1138.36 50.42 L1139.08 49.47 L1139.81 48.54 L1140.53 47.62 L1141.26 46.72 L1141.99 45.84 L1142.71 44.98 L1143.44 44.13 L1144.17 43.30 L1144.89 42.49 L1145.62 41.69 L1146.35 40.91 L1147.07 40.14 L1147.80 39.39 L1148.53 38.66 L1149.25 37.93 L1149.98 37.23 L1150.70 36.54 L1151.43 35.86 L1152.16 35.19 L1152.88 34.54 L1153.61 33.91 L1154.34 33.29 L1155.06 32.68 L1155.79 32.08 L1156.52 31.49 L1157.24 30.92 L1157.97 30.36 L1158.69 29.82 L1159.42 29.28 L1160.15 28.76 L1160.87 28.25 L1161.60 27.75 L1162.33 27.26 L1163.05 26.78 L1163.78 26.32 L1164.51 25.86 L1165.23 25.42 L1165.96 24.99 L1166.68 24.56 L1167.41 24.15 L1168.14 23.75 L1168.86 23.36 L1169.59 22.98 L1170.32 22.61 L1171.04 22.25 L1171.77 21.90 L1172.50 21.55 L1173.22 21.22 L1173.95 20.90 L1174.67 20.59 L1175.40 20.29 L1176.13 19.99 L1176.85 19.71 L1177.58 19.44 L1178.31 19.17 L1179.03 18.91 L1179.76 18.67 L1180.49 18.43 L1181.21 18.20 L1181.94 17.98 L1182.67 17.77 L1183.39 17.57 L1184.12 17.38 L1184.84 17.19 L1185.57 17.02 L1186.30 16.86 L1187.02 16.70 L1187.75 16.55 L1188.48 16.41 L1189.20 16.28 L1189.93 16.16 L1190.66 16.05 L1191.38 15.95 L1192.11 15.86 L1192.83 15.77 L1193.56 15.70 L1194.29 15.63 L1195.01 15.58 L1195.74 15.53 L1196.47 15.49 L1197.19 15.46 L1197.92 15.44 L1198.65 15.43 L1199.37 15.43 L1200.10 15.44 L1200.83 15.46 L1201.55 15.49 L1202.28 15.53 L1203.00 15.57 L1203.73 15.63 L1204.46 15.70 L1205.18 15.77 L1205.91 15.86 L1206.64 15.96 L1207.36 16.06 L1208.09 16.18 L1208.82 16.31 L1209.54 16.45 L1210.27 16.59 L1210.99 16.75 L1211.72 16.92 L1212.45 17.10 L1213.17 17.29 L1213.90 17.49 L1214.63 17.70 L1215.35 17.92 L1216.08 18.16 L1216.81 18.40 L1217.53 18.66 L1218.26 18.92 L1218.98 19.20 L1219.71 19.49 L1220.44 19.79 L1221.16 20.10 L1221.89 20.42 L1222.62 20.76 L1223.34 21.10 L1224.07 21.46 L1224.80 21.83 L1225.52 22.21 L1226.25 22.61 L1226.97 23.01 L1227.70 23.43 L1228.43 23.86 L1229.15 24.30 L1229.88 24.75 L1230.61 25.22 L1231.33 25.70 L1232.06 26.19 L1232.79 26.70 L1233.51 27.21 L1234.24 27.74 L1234.97 28.29 L1235.69 28.84 L1236.42 29.41 L1237.14 29.99 L1237.87 30.59 L1238.60 31.19 L1239.32 31.82 L1240.05 32.45 L1240.78 33.10 L1241.50 33.76 L1242.23 34.44 L1242.96 35.13 L1243.68 35.83 L1244.41 36.55 L1245.13 37.28 L1245.86 38.03 L1246.59 38.79 L1247.31 39.57 L1248.04 40.36 L1248.77 41.16 L1249.49 41.98 L1250.22 42.82 L1250.95 43.67 L1251.67 44.53 L1252.40 45.41 L1253.12 46.31 L1253.85 47.22 L1254.58 48.15 L1255.30 49.10 L1256.03 50.06 L1256.76 51.04 L1257.48 52.03 L1258.21 53.04 L1258.94 54.07 L1259.66 55.12 L1260.39 56.19 L1261.12 57.27 L1261.84 58.37 L1262.57 59.49 L1263.29 60.63 L1264.02 61.78 L1264.75 62.96 L1265.47 64.15 L1266.20 65.37 L1266.93 66.61 L1267.65 67.86 L1268.38 69.14 L1269.11 70.44 L1269.83 71.76 L1270.56 73.11 L1271.28 74.47 L1272.01 75.86 L1272.74 77.27 L1273.46 78.71 L1274.19 80.17 L1274.92 81.66 L1275.64 83.17 L1276.37 84.71 L1277.10 86.28 L1277.82 87.87 L1278.55 89.49 L1279.28 91.14 L1280.00 92.82 L1280.73 94.54 L1281.45 96.28 L1282.18 98.05 L1282.91 99.86 L1283.63 101.70 L1284.36 103.57 L1285.09 105.48 L1285.81 107.43 L1286.54 109.41 L1287.27 111.43 L1287.99 113.49 L1288.72 115.60 L1289.44 117.74 L1290.17 119.93 L1290.90 122.16 L1291.62 124.44 L1292.35 126.77 L1293.08 129.15 L1293.80 131.57 L1294.53 134.05 L1295.26 136.59 L1295.98 139.18 L1296.71 141.83 L1297.43 144.53 L1298.16 147.31 L1298.89 150.14 L1299.61 153.04 L1300.34 156.02 L1301.07 159.06 L1301.79 162.18 L1302.52 165.38 L1303.25 168.65 L1303.97 172.02 L1304.70 175.46 L1305.42 179.00 L1306.15 182.63 L1306.88 186.36 L1307.60 190.19 L1308.33 194.13 L1309.06 198.17 L1309.78 202.32 L1310.51 206.59 L1311.24 210.98 L1311.96 215.49 L1312.69 220.13 L1313.42 224.89 L1314.14 229.78 L1314.87 234.80 L1315.59 239.95 L1316.32 245.22 L1317.05 250.60 L1317.77 256.09 L1318.50 261.68" stroke="#D95319" stroke-dasharray="10 10"/>
<path d="M795.50 193.13 L796.23 193.73 L796.95 194.19 L797.68 194.52 L798.41 194.70 L799.13 194.74 L799.86 194.64 L800.58 194.40 L801.31 194.01 L802.04 193.50 L802.76 192.84 L803.49 192.06 L804.22 191.15 L804.94 190.13 L805.67 188.99 L806.40 187.74 L807.12 186.39 L807.85 184.95 L808.58 183.43 L809.30 181.82 L810.03 180.14 L810.75 178.39 L811.48 176.59 L812.21 174.73 L812.93 172.82 L813.66 170.87 L814.39 168.89 L815.11 166.88 L815.84 164.84 L816.57 162.78 L817.29 160.70 L818.02 158.61 L818.74 156.52 L819.47 154.41 L820.20 152.31 L820.92 150.20 L821.65 148.10 L822.38 146.00 L823.10 143.91 L823.83 141.83 L824.56 139.76 L825.28 137.70 L826.01 135.66 L826.73 133.63 L827.46 131.61 L828.19 129.62 L828.91 127.64 L829.64 125.68 L830.37 123.74 L831.09 121.82 L831.82 119.92 L832.55 118.03 L833.27 116.17 L834.00 114.34 L834.73 112.52 L835.45 110.72 L836.18 108.95 L836.90 107.20 L837.63 105.47 L838.36 103.76 L839.08 102.07 L839.81 100.41 L840.54 98.76 L841.26 97.14 L841.99 95.54 L842.72 93.96 L843.44 92.41 L844.17 90.87 L844.89 89.36 L845.62 87.86 L846.35 86.39 L847.07 84.94 L847.80 83.51 L848.53 82.10 L849.25 80.71 L849.98 79.34 L850.71 77.99 L851.43 76.66 L852.16 75.35 L852.88 74.06 L853.61 72.78 L854.34 71.53 L855.06 70.29 L855.79 69.08 L856.52 67.88 L857.24 66.70 L857.97 65.54 L858.70 64.39 L859.42 63.27 L860.15 62.16 L860.88 61.06 L861.60 59.99 L862.33 58.93 L863.05 57.89 L863.78 56.86 L864.51 55.85 L865.23 54.86 L865.96 53.88 L866.69 52.92 L867.41 51.97 L868.14 51.04 L868.87 50.12 L869.59 49.22 L870.32 48.33 L871.04 47.46 L871.77 46.60 L872.50 45.76 L873.22 44.93 L873.95 44.11 L874.68 43.31 L875.40 42.52 L876.13 41.74 L876.86 40.98 L877.58 40.23 L878.31 39.49 L879.03 38.77 L879.76 38.06 L880.49 37.36 L881.21 36.67 L881.94 36.00 L882.67 35.33 L883.39 34.68 L884.12 34.04 L884.85 33.42 L885.57 32.80 L886.30 32.20 L887.02 31.60 L887.75 31.02 L888.48 30.45 L889.20 29.89 L889.93 29.34 L890.66 28.80 L891.38 28.27 L892.11 27.76 L892.84 27.25 L893.56 26.75 L894.29 26.26 L895.02 25.79 L895.74 25.32 L896.47 24.87 L897.19 24.42 L897.92 23.98 L898.65 23.56 L899.37 23.14 L900.10 22.74 L900.83 22.34 L901.55 21.95 L902.28 21.57 L903.01 21.21 L903.73 20.85 L904.46 20.50 L905.18 20.16 L905.91 19.83 L906.64 19.51 L907.36 19.20 L908.09 18.90 L908.82 18.61 L909.54 18.33 L910.27 18.06 L911.00 17.79 L911.72 17.54 L912.45 17.30 L913.17 17.06 L913.90 16.84 L914.63 16.62 L915.35 16.42 L916.08 16.22 L916.81 16.04 L917.53 15.86 L918.26 15.69 L918.99 15.53 L919.71 15.39 L920.44 15.25 L921.17 15.12 L921.89 15.00 L922.62 14.89 L923.34 14.80 L924.07 14.71 L924.80 14.63 L925.52 14.56 L926.25 14.50 L926.98 14.45 L927.70 14.41 L928.43 14.38 L929.16 14.37 L929.88 14.36 L930.61 14.36 L931.33 14.37 L932.06 14.39 L932.79 14.42 L933.51 14.47 L934.24 14.52 L934.97 14.58 L935.69 14.66 L936.42 14.74 L937.15 14.84 L937.87 14.94 L938.60 15.06 L939.33 15.18 L940.05 15.32 L940.78 15.46 L941.50 15.62 L942.23 15.79 L942.96 15.97 L943.68 16.16 L944.41 16.36 L945.14 16.57 L945.86 16.79 L946.59 17.02 L947.32 17.26 L948.04 17.51 L948.77 17.77 L949.49 18.05 L950.22 18.33 L950.95 18.63 L951.67 18.93 L952.40 19.25 L953.13 19.57 L953.85 19.91 L954.58 20.26 L955.31 20.61 L956.03 20.98 L956.76 21.36 L957.48 21.75 L958.21 22.15 L958.94 22.56 L959.66 22.98 L960.39 23.42 L961.12 23.86 L961.84 24.31 L962.57 24.77 L963.30 25.25 L964.02 25.73 L964.75 26.23 L965.48 26.73 L966.20 27.25 L966.93 27.78 L967.65 28.32 L968.38 28.86 L969.11 29.42 L969.83 29.99 L970.56 30.57 L971.29 31.17 L972.01 31.77 L972.74 32.38 L973.47 33.00 L974.19 33.64 L974.92 34.29 L975.64 34.94 L976.37 35.61 L977.10 36.29 L977.82 36.98 L978.55 37.68 L979.28 38.40 L980.00 39.12 L980.73 39.86 L981.46 40.61 L982.18 41.37 L982.91 42.14 L983.63 42.93 L984.36 43.72 L985.09 44.53 L985.81 45.35 L986.54 46.19 L987.27 47.03 L987.99 47.89 L988.72 48.77 L989.45 49.65 L990.17 50.55 L990.90 51.46 L991.62 52.39 L992.35 53.33 L993.08 54.29 L993.80 55.26 L994.53 56.24 L995.26 57.24 L995.98 58.25 L996.71 59.28 L997.44 60.33 L998.16 61.39 L998.89 62.46 L999.62 63.56 L1000.34 64.66 L1001.07 65.79 L1001.79 66.93 L1002.52 68.09 L1003.25 69.27 L1003.97 70.47 L1004.70 71.68 L1005.43 72.91 L1006.15 74.16 L1006.88 75.43 L1007.61 76.72 L1008.33 78.03 L1009.06 79.35 L1009.78 80.70 L1010.51 82.07 L1011.24 83.46 L1011.96 84.87 L1012.69 86.30 L1013.42 87.75 L1014.14 89.23 L1014.87 90.72 L1015.60 92.24 L1016.32 93.78 L1017.05 95.35 L1017.77 96.94 L1018.50 98.55 L1019.23 100.18 L1019.95 101.84 L1020.68 103.52 L1021.41 105.23 L1022.13 106.96 L1022.86 108.71 L1023.59 110.49 L1024.31 112.29 L1025.04 114.12 L1025.77 115.97 L1026.49 117.85 L1027.22 119.75 L1027.94 121.67 L1028.67 123.62 L1029.40 125.59 L1030.12 127.59 L1030.85 129.60 L1031.58 131.64 L1032.30 133.70 L1033.03 135.78 L1033.76 137.88 L1034.48 140.00 L1035.21 142.13 L1035.93 144.28 L1036.66 146.45 L1037.39 148.62 L1038.11 150.81 L1038.84 153.00 L1039.57 155.20 L1040.29 157.40 L1041.02 159.61 L1041.75 161.80 L1042.47 163.99 L1043.20 166.17 L1043.92 168.34 L1044.65 170.48 L1045.38 172.60 L1046.10 174.68 L1046.83 176.73 L1047.56 178.74 L1048.28 180.69 L1049.01 182.59 L1049.74 184.43 L1050.46 186.20 L1051.19 187.88 L1051.92 189.48 L1052.64 190.99 L1053.37 192.39 L1054.09 193.68 L1054.82 194.86 L1055.55 195.91 L1056.27 196.84 L1057.00 197.63 L1057.73 198.27 L1058.45 198.77 L1059.18 199.13 L1059.91 199.33 L1060.63 199.38 L1061.36 199.27 L1062.08 199.02 L1062.81 198.62 L1063.54 198.07 L1064.26 197.37 L1064.99 196.54 L1065.72 195.58 L1066.44 194.49 L1067.17 193.28 L1067.90 191.96 L1068.62 190.53 L1069.35 189.00 L1070.08 187.39 L1070.80 185.69 L1071.53 183.92 L1072.25 182.08 L1072.98 180.17 L1073.71 178.22 L1074.43 176.22 L1075.16 174.17 L1075.89 172.09 L1076.61 169.99 L1077.34 167.85 L1078.07 165.70 L1078.79 163.53 L1079.52 161.35 L1080.24 159.16 L1080.97 156.97 L1081.70 154.78 L1082.42 152.59 L1083.15 150.40 L1083.88 148.22 L1084.60 146.05 L1085.33 143.88 L1086.06 141.73 L1086.78 139.59 L1087.51 137.47 L1088.23 135.36 L1088.96 133.27 L1089.69 131.20 L1090.41 129.15 L1091.14 127.11 L1091.87 125.10 L1092.59 123.10 L1093.32 121.13 L1094.05 119.17 L1094.77 117.24 L1095.50 115.33 L1096.22 113.44 L1096.95 111.57 L1097.68 109.73 L1098.40 107.90 L1099.13 106.10 L1099.86 104.32 L1100.58 102.57 L1101.31 100.83 L1102.04 99.12 L1102.76 97.43 L1103.49 95.76 L1104.22 94.11 L1104.94 92.49 L1105.67 90.89 L1106.39 89.30 L1107.12 87.74 L1107.85 86.21 L1108.57 84.69 L1109.30 83.19 L1110.03 81.71 L1110.75 80.26 L1111.48 78.83 L1112.21 77.41 L1112.93 76.02 L1113.66 74.64 L1114.38 73.29 L1115.11 71.96 L1115.84 70.64 L1116.56 69.35 L1117.29 68.07 L1118.02 66.82 L1118.74 65.58 L1119.47 64.36 L1120.20 63.16 L1120.92 61.98 L1121.65 60.82 L1122.38 59.68 L1123.10 58.55 L1123.83 57.45 L1124.55 56.36 L1125.28 55.29 L1126.01 54.23 L1126.73 53.19 L1127.46 52.18 L1128.19 51.17 L1128.91 50.19 L1129.64 49.22 L1130.37 48.27 L1131.09 47.33 L1131.82 46.41 L1132.54 45.51 L1133.27 44.62 L1134.00 43.75 L1134.72 42.90 L1135.45 42.06 L1136.18 41.23 L1136.90 40.42 L1137.63 39.63 L1138.36 38.85 L1139.08 38.08 L1139.81 37.33 L1140.53 36.60 L1141.26 35.88 L1141.99 35.17 L1142.71 34.48 L1143.44 33.80 L1144.17 33.14 L1144.89 32.48 L1145.62 31.85 L1146.35 31.22 L1147.07 30.61 L1147.80 30.01 L1148.53 29.43 L1149.25 28.86 L1149.98 28.30 L1150.70 27.75 L1151.43 27.21 L1152.16 26.69 L1152.88 26.18 L1153.61 25.68 L1154.34 25.20 L1155.06 24.72 L1155.79 24.26 L1156.52 23.81 L1157.24 23.37 L1157.97 22.94 L1158.69 22.52 L1159.42 22.11 L1160.15 21.72 L1160.87 21.33 L1161.60 20.96 L1162.33 20.60 L1163.05 20.24 L1163.78 19.90 L1164.51 19.57 L1165.23 19.25 L1165.96 18.94 L1166.68 18.64 L1167.41 18.35 L1168.14 18.07 L1168.86 17.79 L1169.59 17.53 L1170.32 17.28 L1171.04 17.04 L1171.77 16.81 L1172.50 16.59 L1173.22 16.38 L1173.95 16.17 L1174.67 15.98 L1175.40 15.80 L1176.13 15.62 L1176.85 15.46 L1177.58 15.30 L1178.31 15.16 L1179.03 15.02 L1179.76 14.90 L1180.49 14.78 L1181.21 14.67 L1181.94 14.57 L1182.67 14.48 L1183.39 14.40 L1184.12 14.33 L1184.84 14.27 L1185.57 14.21 L1186.30 14.17 L1187.02 14.14 L1187.75 14.11 L1188.48 14.10 L1189.20 14.09 L1189.93 14.09 L1190.66 14.10 L1191.38 14.13 L1192.11 14.16 L1192.83 14.20 L1193.56 14.24 L1194.29 14.30 L1195.01 14.37 L1195.74 14.45 L1196.47 14.53 L1197.19 14.63 L1197.92 14.74 L1198.65 14.85 L1199.37 14.98 L1200.10 15.11 L1200.83 15.25 L1201.55 15.40 L1202.28 15.57 L1203.00 15.74 L1203.73 15.92 L1204.46 16.11 L1205.18 16.31 L1205.91 16.52 L1206.64 16.74 L1207.36 16.97 L1208.09 17.21 L1208.82 17.46 L1209.54 17.72 L1210.27 17.99 L1210.99 18.26 L1211.72 18.55 L1212.45 18.85 L1213.17 19.16 L1213.90 19.48 L1214.63 19.80 L1215.35 20.14 L1216.08 20.49 L1216.81 20.85 L1217.53 21.21 L1218.26 21.59 L1218.98 21.98 L1219.71 22.38 L1220.44 22.78 L1221.16 23.20 L1221.89 23.63 L1222.62 24.07 L1223.34 24.52 L1224.07 24.98 L1224.80 25.44 L1225.52 25.92 L1226.25 26.41 L1226.97 26.91 L1227.70 27.43 L1228.43 27.95 L1229.15 28.48 L1229.88 29.02 L1230.61 29.57 L1231.33 30.14 L1232.06 30.71 L1232.79 31.30 L1233.51 31.89 L1234.24 32.50 L1234.97 33.12 L1235.69 33.75 L1236.42 34.39 L1237.14 35.04 L1237.87 35.70 L1238.60 36.38 L1239.32 37.06 L1240.05 37.76 L1240.78 38.47 L1241.50 39.19 L1242.23 39.92 L1242.96 40.67 L1243.68 41.43 L1244.41 42.19 L1245.13 42.97 L1245.86 43.77 L1246.59 44.57 L1247.31 45.39 L1248.04 46.22 L1248.77 47.07 L1249.49 47.92 L1250.22 48.79 L1250.95 49.68 L1251.67 50.58 L1252.40 51.49 L1253.12 52.41 L1253.85 53.35 L1254.58 54.30 L1255.30 55.27 L1256.03 56.25 L1256.76 57.25 L1257.48 58.26 L1258.21 59.29 L1258.94 60.33 L1259.66 61.38 L1260.39 62.46 L1261.12 63.55 L1261.84 64.65 L1262.57 65.77 L1263.29 66.91 L1264.02 68.06 L1264.75 69.24 L1265.47 70.43 L1266.20 71.63 L1266.93 72.86 L1267.65 74.10 L1268.38 75.36 L1269.11 76.64 L1269.83 77.94 L1270.56 79.25 L1271.28 80.59 L1272.01 81.94 L1272.74 83.32 L1273.46 84.71 L1274.19 86.13 L1274.92 87.56 L1275.64 89.02 L1276.37 90.50 L1277.10 91.99 L1277.82 93.51 L1278.55 95.05 L1279.28 96.62 L1280.00 98.20 L1280.73 99.80 L1281.45 101.43 L1282.18 103.08 L1282.91 104.76 L1283.63 106.45 L1284.36 108.17 L1285.09 109.91 L1285.81 111.67 L1286.54 113.45 L1287.27 115.26 L1287.99 117.09 L1288.72 118.94 L1289.44 120.81 L1290.17 122.70 L1290.90 124.62 L1291.62 126.55 L1292.35 128.50 L1293.08 130.48 L1293.80 132.47 L1294.53 134.48 L1295.26 136.50 L1295.98 138.55 L1296.71 140.60 L1297.43 142.67 L1298.16 144.75 L1298.89 146.84 L1299.61 148.93 L1300.34 151.03 L1301.07 153.14 L1301.79 155.24 L1302.52 157.34 L1303.25 159.44 L1303.97 161.52 L1304.70 163.59 L1305.42 165.65 L1306.15 167.68 L1306.88 169.68 L1307.60 171.65 L1308.33 173.59 L1309.06 175.48 L1309.78 177.32 L1310.51 179.11 L1311.24 180.83 L1311.96 182.48 L1312.69 184.06 L1313.42 185.56 L1314.14 186.96 L1314.87 188.27 L1315.59 189.48 L1316.32 190.57 L1317.05 191.55 L1317.77 192.40 L1318.50 193.13" stroke="#EDB120" stroke-dasharray="10 10"/>
<path d="M795.50 233.46 L796.23 233.57 L796.95 233.68 L797.68 233.78 L798.41 233.89 L799.13 233.99 L799.86 234.09 L800.58 234.19 L801.31 234.28 L802.04 234.37 L802.76 234.46 L803.49 234.55 L804.22 234.63 L804.94 234.71 L805.67 234.79 L806.40 234.86 L807.12 234.93 L807.85 235.00 L808.58 235.06 L809.30 235.12 L810.03 235.18 L810.75 235.23 L811.48 235.28 L812.21 235.33 L812.93 235.37 L813.66 235.41 L814.39 235.45 L815.11 235.48 L815.84 235.50 L816.57 235.53 L817.29 235.55 L818.02 235.56 L818.74 235.57 L819.47 235.58 L820.20 235.59 L820.92 235.59 L821.65 235.58 L822.38 235.57 L823.10 235.56 L823.83 235.54 L824.56 235.52 L825.28 235.50 L826.01 235.47 L826.73 235.44 L827.46 235.40 L828.19 235.36 L828.91 235.31 L829.64 235.26 L830.37 235.21 L831.09 235.16 L831.82 235.09 L832.55 235.03 L833.27 234.96 L834.00 234.89 L834.73 234.81 L835.45 234.73 L836.18 234.65 L836.90 234.57 L837.63 234.47 L838.36 234.38 L839.08 234.28 L839.81 234.18 L840.54 234.08 L841.26 233.97 L841.99 233.86 L842.72 233.75 L843.44 233.64 L844.17 233.52 L844.89 233.40 L845.62 233.27 L846.35 233.14 L847.07 233.01 L847.80 232.88 L848.53 232.75 L849.25 232.61 L849.98 232.47 L850.71 232.33 L851.43 232.19 L852.16 232.04 L852.88 231.90 L853.61 231.75 L854.34 231.60 L855.06 231.45 L855.79 231.29 L856.52 231.14 L857.24 230.98 L857.97 230.82 L858.70 230.67 L859.42 230.51 L860.15 230.35 L860.88 230.18 L861.60 230.02 L862.33 229.86 L863.05 229.69 L863.78 229.53 L864.51 229.37 L865.23 229.20 L865.96 229.03 L866.69 228.87 L867.41 228.70 L868.14 228.54 L868.87 228.37 L869.59 228.20 L870.32 228.04 L871.04 227.87 L871.77 227.70 L872.50 227.54 L873.22 227.37 L873.95 227.21 L874.68 227.04 L875.40 226.88 L876.13 226.72 L876.86 226.55 L877.58 226.39 L878.31 226.23 L879.03 226.07 L879.76 225.91 L880.49 225.75 L881.21 225.59 L881.94 225.43 L882.67 225.27 L883.39 225.11 L884.12 224.96 L884.85 224.80 L885.57 224.65 L886.30 224.50 L887.02 224.35 L887.75 224.19 L888.48 224.04 L889.20 223.90 L889.93 223.75 L890.66 223.60 L891.38 223.45 L892.11 223.31 L892.84 223.17 L893.56 223.02 L894.29 222.88 L895.02 222.74 L895.74 222.60 L896.47 222.46 L897.19 222.32 L897.92 222.19 L898.65 222.05 L899.37 221.92 L900.10 221.79 L900.83 221.65 L901.55 221.52 L902.28 221.39 L903.01 221.27 L903.73 221.14 L904.46 221.01 L905.18 220.89 L905.91 220.76 L906.64 220.64 L907.36 220.52 L908.09 220.40 L908.82 220.28 L909.54 220.16 L910.27 220.05 L911.00 219.93 L911.72 219.82 L912.45 219.70 L913.17 219.59 L913.90 219.48 L914.63 219.37 L915.35 219.27 L916.08 219.16 L916.81 219.05 L917.53 218.95 L918.26 218.85 L918.99 218.75 L919.71 218.65 L920.44 218.55 L921.17 218.45 L921.89 218.36 L922.62 218.27 L923.34 218.17 L924.07 218.08 L924.80 218.00 L925.52 217.91 L926.25 217.83 L926.98 217.74 L927.70 217.66 L928.43 217.58 L929.16 217.50 L929.88 217.43 L930.61 217.36 L931.33 217.28 L932.06 217.21 L932.79 217.15 L933.51 217.08 L934.24 217.02 L934.97 216.96 L935.69 216.90 L936.42 216.84 L937.15 216.79 L937.87 216.74 L938.60 216.69 L939.33 216.64 L940.05 216.60 L940.78 216.56 L941.50 216.52 L942.23 216.48 L942.96 216.45 L943.68 216.41 L944.41 216.39 L945.14 216.36 L945.86 216.34 L946.59 216.32 L947.32 216.30 L948.04 216.28 L948.77 216.27 L949.49 216.26 L950.22 216.26 L950.95 216.25 L951.67 216.25 L952.40 216.26 L953.13 216.26 L953.85 216.27 L954.58 216.28 L955.31 216.30 L956.03 216.31 L956.76 216.33 L957.48 216.36 L958.21 216.38 L958.94 216.41 L959.66 216.45 L960.39 216.48 L961.12 216.52 L961.84 216.56 L962.57 216.61 L963.30 216.65 L964.02 216.70 L964.75 216.76 L965.48 216.81 L966.20 216.87 L966.93 216.93 L967.65 217.00 L968.38 217.06 L969.11 217.13 L969.83 217.21 L970.56 217.28 L971.29 217.36 L972.01 217.44 L972.74 217.52 L973.47 217.61 L974.19 217.69 L974.92 217.78 L975.64 217.87 L976.37 217.97 L977.10 218.07 L977.82 218.17 L978.55 218.27 L979.28 218.37 L980.00 218.47 L980.73 218.58 L981.46 218.69 L982.18 218.80 L982.91 218.91 L983.63 219.03 L984.36 219.15 L985.09 219.26 L985.81 219.38 L986.54 219.50 L987.27 219.63 L987.99 219.75 L988.72 219.88 L989.45 220.00 L990.17 220.13 L990.90 220.26 L991.62 220.39 L992.35 220.52 L993.08 220.65 L993.80 220.79 L994.53 220.92 L995.26 221.06 L995.98 221.19 L996.71 221.33 L997.44 221.47 L998.16 221.61 L998.89 221.74 L999.62 221.88 L1000.34 222.02 L1001.07 222.17 L1001.79 222.31 L1002.52 222.45 L1003.25 222.59 L1003.97 222.74 L1004.70 222.88 L1005.43 223.02 L1006.15 223.17 L1006.88 223.31 L1007.61 223.46 L1008.33 223.60 L1009.06 223.75 L1009.78 223.89 L1010.51 224.04 L1011.24 224.18 L1011.96 224.33 L1012.69 224.48 L1013.42 224.62 L1014.14 224.77 L1014.87 224.92 L1015.60 225.06 L1016.32 225.21 L1017.05 225.36 L1017.77 225.50 L1018.50 225.65 L1019.23 225.80 L1019.95 225.95 L1020.68 226.09 L1021.41 226.24 L1022.13 226.39 L1022.86 226.54 L1023.59 226.68 L1024.31 226.83 L1025.04 226.98 L1025.77 227.13 L1026.49 227.27 L1027.22 227.42 L1027.94 227.57 L1028.67 227.72 L1029.40 227.86 L1030.12 228.01 L1030.85 228.16 L1031.58 228.31 L1032.30 228.45 L1033.03 228.60 L1033.76 228.75 L1034.48 228.89 L1035.21 229.04 L1035.93 229.19 L1036.66 229.33 L1037.39 229.48 L1038.11 229.63 L1038.84 229.77 L1039.57 229.92 L1040.29 230.06 L1041.02 230.21 L1041.75 230.35 L1042.47 230.49 L1043.20 230.64 L1043.92 230.78 L1044.65 230.92 L1045.38 231.06 L1046.10 231.20 L1046.83 231.34 L1047.56 231.48 L1048.28 231.62 L1049.01 231.76 L1049.74 231.90 L1050.46 232.04 L1051.19 232.17 L1051.92 232.31 L1052.64 232.44 L1053.37 232.57 L1054.09 232.70 L1054.82 232.83 L1055.55 232.96 L1056.27 233.09 L1057.00 233.21 L1057.73 233.34 L1058.45 233.46 L1059.18 233.58 L1059.91 233.70 L1060.63 233.81 L1061.36 233.93 L1062.08 234.04 L1062.81 234.15 L1063.54 234.26 L1064.26 234.37 L1064.99 234.48 L1065.72 234.58 L1066.44 234.68 L1067.17 234.78 L1067.90 234.87 L1068.62 234.96 L1069.35 235.05 L1070.08 235.14 L1070.80 235.22 L1071.53 235.30 L1072.25 235.38 L1072.98 235.46 L1073.71 235.53 L1074.43 235.60 L1075.16 235.66 L1075.89 235.73 L1076.61 235.79 L1077.34 235.84 L1078.07 235.89 L1078.79 235.94 L1079.52 235.99 L1080.24 236.03 L1080.97 236.07 L1081.70 236.10 L1082.42 236.13 L1083.15 236.16 L1083.88 236.18 L1084.60 236.20 L1085.33 236.21 L1086.06 236.22 L1086.78 236.23 L1087.51 236.23 L1088.23 236.23 L1088.96 236.23 L1089.69 236.22 L1090.41 236.21 L1091.14 236.19 L1091.87 236.17 L1092.59 236.14 L1093.32 236.11 L1094.05 236.08 L1094.77 236.04 L1095.50 236.00 L1096.22 235.96 L1096.95 235.91 L1097.68 235.86 L1098.40 235.80 L1099.13 235.74 L1099.86 235.67 L1100.58 235.61 L1101.31 235.53 L1102.04 235.46 L1102.76 235.38 L1103.49 235.30 L1104.22 235.21 L1104.94 235.12 L1105.67 235.03 L1106.39 234.93 L1107.12 234.83 L1107.85 234.73 L1108.57 234.62 L1109.30 234.51 L1110.03 234.40 L1110.75 234.28 L1111.48 234.16 L1112.21 234.04 L1112.93 233.92 L1113.66 233.79 L1114.38 233.66 L1115.11 233.53 L1115.84 233.40 L1116.56 233.26 L1117.29 233.12 L1118.02 232.98 L1118.74 232.84 L1119.47 232.69 L1120.20 232.55 L1120.92 232.40 L1121.65 232.25 L1122.38 232.10 L1123.10 231.94 L1123.83 231.79 L1124.55 231.63 L1125.28 231.48 L1126.01 231.32 L1126.73 231.16 L1127.46 231.00 L1128.19 230.83 L1128.91 230.67 L1129.64 230.51 L1130.37 230.34 L1131.09 230.18 L1131.82 230.01 L1132.54 229.85 L1133.27 229.68 L1134.00 229.52 L1134.72 229.35 L1135.45 229.18 L1136.18 229.02 L1136.90 228.85 L1137.63 228.68 L1138.36 228.52 L1139.08 228.35 L1139.81 228.19 L1140.53 228.02 L1141.26 227.86 L1141.99 227.69 L1142.71 227.53 L1143.44 227.36 L1144.17 227.20 L1144.89 227.04 L1145.62 226.88 L1146.35 226.71 L1147.07 226.55 L1147.80 226.40 L1148.53 226.24 L1149.25 226.08 L1149.98 225.92 L1150.70 225.77 L1151.43 225.61 L1152.16 225.46 L1152.88 225.31 L1153.61 225.16 L1154.34 225.01 L1155.06 224.86 L1155.79 224.71 L1156.52 224.56 L1157.24 224.42 L1157.97 224.28 L1158.69 224.13 L1159.42 223.99 L1160.15 223.85 L1160.87 223.71 L1161.60 223.58 L1162.33 223.44 L1163.05 223.31 L1163.78 223.17 L1164.51 223.04 L1165.23 222.91 L1165.96 222.79 L1166.68 222.66 L1167.41 222.53 L1168.14 222.41 L1168.86 222.29 L1169.59 222.17 L1170.32 222.05 L1171.04 221.93 L1171.77 221.81 L1172.50 221.70 L1173.22 221.59 L1173.95 221.47 L1174.67 221.36 L1175.40 221.26 L1176.13 221.15 L1176.85 221.04 L1177.58 220.94 L1178.31 220.84 L1179.03 220.74 L1179.76 220.64 L1180.49 220.55 L1181.21 220.45 L1181.94 220.36 L1182.67 220.27 L1183.39 220.18 L1184.12 220.09 L1184.84 220.00 L1185.57 219.92 L1186.30 219.84 L1187.02 219.76 L1187.75 219.68 L1188.48 219.60 L1189.20 219.53 L1189.93 219.45 L1190.66 219.38 L1191.38 219.31 L1192.11 219.25 L1192.83 219.18 L1193.56 219.12 L1194.29 219.06 L1195.01 219.00 L1195.74 218.94 L1196.47 218.89 L1197.19 218.84 L1197.92 218.78 L1198.65 218.74 L1199.37 218.69 L1200.10 218.65 L1200.83 218.60 L1201.55 218.56 L1202.28 218.53 L1203.00 218.49 L1203.73 218.46 L1204.46 218.43 L1205.18 218.40 L1205.91 218.37 L1206.64 218.35 L1207.36 218.33 L1208.09 218.31 L1208.82 218.29 L1209.54 218.28 L1210.27 218.26 L1210.99 218.25 L1211.72 218.25 L1212.45 218.24 L1213.17 218.24 L1213.90 218.24 L1214.63 218.24 L1215.35 218.24 L1216.08 218.25 L1216.81 218.26 L1217.53 218.27 L1218.26 218.29 L1218.98 218.30 L1219.71 218.32 L1220.44 218.34 L1221.16 218.37 L1221.89 218.39 L1222.62 218.42 L1223.34 218.45 L1224.07 218.48 L1224.80 218.52 L1225.52 218.56 L1226.25 218.60 L1226.97 218.64 L1227.70 218.69 L1228.43 218.73 L1229.15 218.78 L1229.88 218.83 L1230.61 218.89 L1231.33 218.94 L1232.06 219.00 L1232.79 219.06 L1233.51 219.12 L1234.24 219.19 L1234.97 219.25 L1235.69 219.32 L1236.42 219.39 L1237.14 219.46 L1237.87 219.54 L1238.60 219.61 L1239.32 219.69 L1240.05 219.77 L1240.78 219.85 L1241.50 219.94 L1242.23 220.02 L1242.96 220.11 L1243.68 220.20 L1244.41 220.29 L1245.13 220.38 L1245.86 220.47 L1246.59 220.57 L1247.31 220.66 L1248.04 220.76 L1248.77 220.86 L1249.49 220.96 L1250.22 221.06 L1250.95 221.17 L1251.67 221.27 L1252.40 221.38 L1253.12 221.49 L1253.85 221.60 L1254.58 221.71 L1255.30 221.82 L1256.03 221.93 L1256.76 222.04 L1257.48 222.16 L1258.21 222.28 L1258.94 222.39 L1259.66 222.51 L1260.39 222.63 L1261.12 222.75 L1261.84 222.87 L1262.57 222.99 L1263.29 223.12 L1264.02 223.24 L1264.75 223.37 L1265.47 223.49 L1266.20 223.62 L1266.93 223.75 L1267.65 223.87 L1268.38 224.00 L1269.11 224.13 L1269.83 224.26 L1270.56 224.39 L1271.28 224.53 L1272.01 224.66 L1272.74 224.79 L1273.46 224.93 L1274.19 225.06 L1274.92 225.20 L1275.64 225.33 L1276.37 225.47 L1277.10 225.61 L1277.82 225.74 L1278.55 225.88 L1279.28 226.02 L1280.00 226.16 L1280.73 226.30 L1281.45 226.44 L1282.18 226.58 L1282.91 226.72 L1283.63 226.86 L1284.36 227.01 L1285.09 227.15 L1285.81 227.29 L1286.54 227.43 L1287.27 227.58 L1287.99 227.72 L1288.72 227.87 L1289.44 228.01 L1290.17 228.15 L1290.90 228.30 L1291.62 228.44 L1292.35 228.59 L1293.08 228.73 L1293.80 228.88 L1294.53 229.02 L1295.26 229.17 L1295.98 229.31 L1296.71 229.46 L1297.43 229.60 L1298.16 229.74 L1298.89 229.89 L1299.61 230.03 L1300.34 230.18 L1301.07 230.32 L1301.79 230.46 L1302.52 230.60 L1303.25 230.74 L1303.97 230.88 L1304.70 231.02 L1305.42 231.16 L1306.15 231.30 L1306.88 231.44 L1307.60 231.57 L1308.33 231.71 L1309.06 231.84 L1309.78 231.98 L1310.51 232.11 L1311.24 232.24 L1311.96 232.37 L1312.69 232.50 L1313.42 232.62 L1314.14 232.75 L1314.87 232.87 L1315.59 232.99 L1316.32 233.11 L1317.05 233.23 L1317.77 233.34 L1318.50 233.46" stroke="#0072BD" stroke-dasharray="3 2"/>
<path d="M795.50 193.80 L796.23 194.60 L796.95 195.42 L797.68 196.25 L798.41 197.10 L799.13 197.95 L799.86 198.82 L800.58 199.71 L801.31 200.61 L802.04 201.52 L802.76 202.44 L803.49 203.38 L804.22 204.34 L804.94 205.30 L805.67 206.28 L806.40 207.28 L807.12 208.29 L807.85 209.31 L808.58 210.35 L809.30 211.40 L810.03 212.46 L810.75 213.54 L811.48 214.64 L812.21 215.75 L812.93 216.87 L813.66 218.01 L814.39 219.16 L815.11 220.32 L815.84 221.51 L816.57 222.70 L817.29 223.91 L818.02 225.14 L818.74 226.38 L819.47 227.64 L820.20 228.91 L820.92 230.19 L821.65 231.49 L822.38 232.81 L823.10 234.14 L823.83 235.48 L824.56 236.85 L825.28 238.22 L826.01 239.61 L826.73 241.02 L827.46 242.44 L828.19 243.88 L828.91 245.33 L829.64 246.80 L830.37 248.29 L831.09 249.78 L831.82 251.30 L832.55 252.83 L833.27 254.37 L834.00 255.93 L834.73 257.50 L835.45 259.09 L836.18 260.70 L836.90 262.31 L837.63 263.94 L838.36 265.59 L839.08 267.25 L839.81 268.92 L840.54 270.60 L841.26 272.30 L841.99 274.01 L842.72 275.73 L843.44 277.46 L844.17 279.20 L844.89 280.95 L845.62 282.71 L846.35 284.48 L847.07 286.25 L847.80 288.03 L848.53 289.81 L849.25 291.59 L849.98 293.38 L850.71 295.16 L851.43 296.94 L852.16 298.72 L852.88 300.50 L853.61 302.26 L854.34 304.01 L855.06 305.75 L855.79 307.47 L856.52 309.18 L857.24 310.86 L857.97 312.51 L858.70 314.14 L859.42 315.73 L860.15 317.28 L860.88 318.80 L861.60 320.26 L862.33 321.68 L863.05 323.04 L863.78 324.34 L864.51 325.58 L865.23 326.75 L865.96 327.85 L866.69 328.87 L867.41 329.81 L868.14 330.66 L868.87 331.42 L869.59 332.08 L870.32 332.65 L871.04 333.12 L871.77 333.48 L872.50 333.74 L873.22 333.89 L873.95 333.93 L874.68 333.87 L875.40 333.69 L876.13 333.41 L876.86 333.02 L877.58 332.52 L878.31 331.92 L879.03 331.23 L879.76 330.43 L880.49 329.54 L881.21 328.56 L881.94 327.50 L882.67 326.35 L883.39 325.13 L884.12 323.83 L884.85 322.47 L885.57 321.05 L886.30 319.57 L887.02 318.03 L887.75 316.45 L888.48 314.83 L889.20 313.17 L889.93 311.47 L890.66 309.74 L891.38 307.99 L892.11 306.21 L892.84 304.42 L893.56 302.61 L894.29 300.79 L895.02 298.95 L895.74 297.12 L896.47 295.27 L897.19 293.43 L897.92 291.59 L898.65 289.75 L899.37 287.91 L900.10 286.08 L900.83 284.26 L901.55 282.45 L902.28 280.64 L903.01 278.85 L903.73 277.08 L904.46 275.31 L905.18 273.56 L905.91 271.83 L906.64 270.11 L907.36 268.41 L908.09 266.73 L908.82 265.06 L909.54 263.41 L910.27 261.78 L911.00 260.17 L911.72 258.58 L912.45 257.01 L913.17 255.45 L913.90 253.92 L914.63 252.40 L915.35 250.91 L916.08 249.43 L916.81 247.97 L917.53 246.53 L918.26 245.11 L918.99 243.71 L919.71 242.33 L920.44 240.97 L921.17 239.62 L921.89 238.30 L922.62 236.99 L923.34 235.70 L924.07 234.43 L924.80 233.17 L925.52 231.94 L926.25 230.72 L926.98 229.52 L927.70 228.33 L928.43 227.17 L929.16 226.01 L929.88 224.88 L930.61 223.76 L931.33 222.66 L932.06 221.57 L932.79 220.50 L933.51 219.44 L934.24 218.40 L934.97 217.37 L935.69 216.36 L936.42 215.36 L937.15 214.38 L937.87 213.41 L938.60 212.45 L939.33 211.51 L940.05 210.58 L940.78 209.66 L941.50 208.76 L942.23 207.87 L942.96 206.99 L943.68 206.12 L944.41 205.27 L945.14 204.43 L945.86 203.60 L946.59 202.78 L947.32 201.98 L948.04 201.19 L948.77 200.40 L949.49 199.63 L950.22 198.87 L950.95 198.13 L951.67 197.39 L952.40 196.66 L953.13 195.95 L953.85 195.25 L954.58 194.55 L955.31 193.87 L956.03 193.20 L956.76 192.54 L957.48 191.88 L958.21 191.24 L958.94 190.61 L959.66 189.99 L960.39 189.38 L961.12 188.78 L961.84 188.20 L962.57 187.62 L963.30 187.05 L964.02 186.49 L964.75 185.94 L965.48 185.40 L966.20 184.87 L966.93 184.35 L967.65 183.85 L968.38 183.35 L969.11 182.86 L969.83 182.38 L970.56 181.91 L971.29 181.45 L972.01 181.01 L972.74 180.57 L973.47 180.14 L974.19 179.72 L974.92 179.31 L975.64 178.92 L976.37 178.53 L977.10 178.15 L977.82 177.78 L978.55 177.43 L979.28 177.08 L980.00 176.74 L980.73 176.42 L981.46 176.10 L982.18 175.80 L982.91 175.50 L983.63 175.21 L984.36 174.94 L985.09 174.67 L985.81 174.42 L986.54 174.17 L987.27 173.94 L987.99 173.72 L988.72 173.50 L989.45 173.30 L990.17 173.10 L990.90 172.92 L991.62 172.75 L992.35 172.59 L993.08 172.43 L993.80 172.29 L994.53 172.16 L995.26 172.04 L995.98 171.93 L996.71 171.83 L997.44 171.74 L998.16 171.66 L998.89 171.59 L999.62 171.53 L1000.34 171.48 L1001.07 171.44 L1001.79 171.41 L1002.52 171.39 L1003.25 171.38 L1003.97 171.38 L1004.70 171.39 L1005.43 171.41 L1006.15 171.44 L1006.88 171.48 L1007.61 171.53 L1008.33 171.59 L1009.06 171.66 L1009.78 171.74 L1010.51 171.83 L1011.24 171.93 L1011.96 172.04 L1012.69 172.15 L1013.42 172.28 L1014.14 172.42 L1014.87 172.57 L1015.60 172.72 L1016.32 172.89 L1017.05 173.07 L1017.77 173.25 L1018.50 173.45 L1019.23 173.65 L1019.95 173.87 L1020.68 174.09 L1021.41 174.32 L1022.13 174.57 L1022.86 174.82 L1023.59 175.08 L1024.31 175.35 L1025.04 175.63 L1025.77 175.92 L1026.49 176.22 L1027.22 176.53 L1027.94 176.85 L1028.67 177.17 L1029.40 177.51 L1030.12 177.86 L1030.85 178.22 L1031.58 178.58 L1032.30 178.96 L1033.03 179.34 L1033.76 179.74 L1034.48 180.14 L1035.21 180.56 L1035.93 180.98 L1036.66 181.42 L1037.39 181.86 L1038.11 182.32 L1038.84 182.78 L1039.57 183.26 L1040.29 183.74 L1041.02 184.24 L1041.75 184.75 L1042.47 185.26 L1043.20 185.79 L1043.92 186.33 L1044.65 186.88 L1045.38 187.44 L1046.10 188.02 L1046.83 188.60 L1047.56 189.19 L1048.28 189.80 L1049.01 190.42 L1049.74 191.05 L1050.46 191.69 L1051.19 192.35 L1051.92 193.01 L1052.64 193.69 L1053.37 194.38 L1054.09 195.09 L1054.82 195.81 L1055.55 196.54 L1056.27 197.28 L1057.00 198.04 L1057.73 198.81 L1058.45 199.60 L1059.18 200.40 L1059.91 201.21 L1060.63 202.04 L1061.36 202.88 L1062.08 203.74 L1062.81 204.61 L1063.54 205.50 L1064.26 206.41 L1064.99 207.33 L1065.72 208.26 L1066.44 209.22 L1067.17 210.19 L1067.90 211.17 L1068.62 212.18 L1069.35 213.20 L1070.08 214.24 L1070.80 215.29 L1071.53 216.37 L1072.25 217.46 L1072.98 218.58 L1073.71 219.71 L1074.43 220.86 L1075.16 222.03 L1075.89 223.22 L1076.61 224.43 L1077.34 225.66 L1078.07 226.91 L1078.79 228.18 L1079.52 229.48 L1080.24 230.80 L1080.97 232.14 L1081.70 233.50 L1082.42 234.88 L1083.15 236.29 L1083.88 237.72 L1084.60 239.18 L1085.33 240.66 L1086.06 242.16 L1086.78 243.69 L1087.51 245.25 L1088.23 246.83 L1088.96 248.44 L1089.69 250.08 L1090.41 251.74 L1091.14 253.43 L1091.87 255.15 L1092.59 256.90 L1093.32 258.67 L1094.05 260.48 L1094.77 262.32 L1095.50 264.18 L1096.22 266.08 L1096.95 268.01 L1097.68 269.97 L1098.40 271.96 L1099.13 273.99 L1099.86 276.05 L1100.58 278.14 L1101.31 280.27 L1102.04 282.43 L1102.76 284.62 L1103.49 286.85 L1104.22 289.12 L1104.94 291.42 L1105.67 293.75 L1106.39 296.12 L1107.12 298.53 L1107.85 300.98 L1108.57 303.45 L1109.30 305.97 L1110.03 308.52 L1110.75 311.10 L1111.48 313.71 L1112.21 316.36 L1112.93 319.04 L1113.66 321.75 L1114.38 324.49 L1115.11 327.25 L1115.84 330.04 L1116.56 332.84 L1117.29 335.66 L1118.02 338.50 L1118.74 341.34 L1119.47 344.19 L1120.20 347.03 L1120.92 349.86 L1121.65 352.68 L1122.38 355.46 L1123.10 358.21 L1123.83 360.91 L1124.55 363.56 L1125.28 366.13 L1126.01 368.62 L1126.73 371.00 L1127.46 373.27 L1128.19 375.41 L1128.91 377.40 L1129.64 379.23 L1130.37 380.87 L1131.09 382.32 L1131.82 383.56 L1132.54 384.58 L1133.27 385.36 L1134.00 385.90 L1134.72 386.18 L1135.45 386.22 L1136.18 385.99 L1136.90 385.52 L1137.63 384.80 L1138.36 383.83 L1139.08 382.64 L1139.81 381.23 L1140.53 379.62 L1141.26 377.81 L1141.99 375.84 L1142.71 373.71 L1143.44 371.44 L1144.17 369.04 L1144.89 366.54 L1145.62 363.95 L1146.35 361.27 L1147.07 358.54 L1147.80 355.74 L1148.53 352.91 L1149.25 350.05 L1149.98 347.16 L1150.70 344.26 L1151.43 341.35 L1152.16 338.44 L1152.88 335.54 L1153.61 332.65 L1154.34 329.78 L1155.06 326.92 L1155.79 324.08 L1156.52 321.27 L1157.24 318.49 L1157.97 315.74 L1158.69 313.02 L1159.42 310.33 L1160.15 307.67 L1160.87 305.05 L1161.60 302.46 L1162.33 299.91 L1163.05 297.39 L1163.78 294.91 L1164.51 292.46 L1165.23 290.06 L1165.96 287.68 L1166.68 285.35 L1167.41 283.05 L1168.14 280.78 L1168.86 278.55 L1169.59 276.36 L1170.32 274.20 L1171.04 272.07 L1171.77 269.98 L1172.50 267.92 L1173.22 265.89 L1173.95 263.90 L1174.67 261.93 L1175.40 260.00 L1176.13 258.10 L1176.85 256.23 L1177.58 254.39 L1178.31 252.58 L1179.03 250.80 L1179.76 249.05 L1180.49 247.32 L1181.21 245.63 L1181.94 243.96 L1182.67 242.31 L1183.39 240.70 L1184.12 239.11 L1184.84 237.54 L1185.57 236.01 L1186.30 234.49 L1187.02 233.00 L1187.75 231.54 L1188.48 230.09 L1189.20 228.68 L1189.93 227.28 L1190.66 225.91 L1191.38 224.56 L1192.11 223.23 L1192.83 221.92 L1193.56 220.64 L1194.29 219.37 L1195.01 218.13 L1195.74 216.90 L1196.47 215.70 L1197.19 214.52 L1197.92 213.35 L1198.65 212.21 L1199.37 211.08 L1200.10 209.97 L1200.83 208.89 L1201.55 207.81 L1202.28 206.76 L1203.00 205.73 L1203.73 204.71 L1204.46 203.71 L1205.18 202.73 L1205.91 201.76 L1206.64 200.81 L1207.36 199.88 L1208.09 198.96 L1208.82 198.06 L1209.54 197.18 L1210.27 196.31 L1210.99 195.45 L1211.72 194.61 L1212.45 193.79 L1213.17 192.98 L1213.90 192.19 L1214.63 191.41 L1215.35 190.64 L1216.08 189.89 L1216.81 189.16 L1217.53 188.43 L1218.26 187.72 L1218.98 187.03 L1219.71 186.35 L1220.44 185.68 L1221.16 185.03 L1221.89 184.38 L1222.62 183.76 L1223.34 183.14 L1224.07 182.54 L1224.80 181.95 L1225.52 181.37 L1226.25 180.80 L1226.97 180.25 L1227.70 179.71 L1228.43 179.18 L1229.15 178.66 L1229.88 178.16 L1230.61 177.67 L1231.33 177.19 L1232.06 176.72 L1232.79 176.26 L1233.51 175.81 L1234.24 175.38 L1234.97 174.95 L1235.69 174.54 L1236.42 174.14 L1237.14 173.75 L1237.87 173.37 L1238.60 173.00 L1239.32 172.64 L1240.05 172.29 L1240.78 171.95 L1241.50 171.63 L1242.23 171.31 L1242.96 171.01 L1243.68 170.71 L1244.41 170.43 L1245.13 170.15 L1245.86 169.89 L1246.59 169.63 L1247.31 169.39 L1248.04 169.15 L1248.77 168.93 L1249.49 168.72 L1250.22 168.51 L1250.95 168.32 L1251.67 168.13 L1252.40 167.96 L1253.12 167.79 L1253.85 167.64 L1254.58 167.49 L1255.30 167.36 L1256.03 167.23 L1256.76 167.12 L1257.48 167.01 L1258.21 166.91 L1258.94 166.82 L1259.66 166.74 L1260.39 166.68 L1261.12 166.62 L1261.84 166.57 L1262.57 166.52 L1263.29 166.49 L1264.02 166.47 L1264.75 166.46 L1265.47 166.46 L1266.20 166.46 L1266.93 166.48 L1267.65 166.50 L1268.38 166.54 L1269.11 166.58 L1269.83 166.64 L1270.56 166.70 L1271.28 166.77 L1272.01 166.85 L1272.74 166.94 L1273.46 167.05 L1274.19 167.16 L1274.92 167.28 L1275.64 167.41 L1276.37 167.54 L1277.10 167.69 L1277.82 167.85 L1278.55 168.02 L1279.28 168.20 L1280.00 168.39 L1280.73 168.58 L1281.45 168.79 L1282.18 169.01 L1282.91 169.23 L1283.63 169.47 L1284.36 169.72 L1285.09 169.98 L1285.81 170.24 L1286.54 170.52 L1287.27 170.81 L1287.99 171.11 L1288.72 171.42 L1289.44 171.73 L1290.17 172.06 L1290.90 172.40 L1291.62 172.75 L1292.35 173.12 L1293.08 173.49 L1293.80 173.87 L1294.53 174.26 L1295.26 174.67 L1295.98 175.08 L1296.71 175.51 L1297.43 175.95 L1298.16 176.40 L1298.89 176.86 L1299.61 177.33 L1300.34 177.81 L1301.07 178.31 L1301.79 178.81 L1302.52 179.33 L1303.25 179.86 L1303.97 180.40 L1304.70 180.95 L1305.42 181.52 L1306.15 182.10 L1306.88 182.68 L1307.60 183.28 L1308.33 183.90 L1309.06 184.52 L1309.78 185.16 L1310.51 185.81 L1311.24 186.47 L1311.96 187.15 L1312.69 187.84 L1313.42 188.54 L1314.14 189.25 L1314.87 189.98 L1315.59 190.72 L1316.32 191.47 L1317.05 192.23 L1317.77 193.01 L1318.50 193.80" stroke="#D95319" stroke-dasharray="3 2"/>
<path d="M795.50 260.88 L796.23 260.50 L796.95 260.11 L797.68 259.72 L798.41 259.31 L799.13 258.90 L799.86 258.47 L800.58 258.04 L801.31 257.61 L802.04 257.16 L802.76 256.71 L803.49 256.24 L804.22 255.78 L804.94 255.30 L805.67 254.82 L806.40 254.34 L807.12 253.85 L807.85 253.35 L808.58 252.85 L809.30 252.34 L810.03 251.83 L810.75 251.31 L811.48 250.80 L812.21 250.27 L812.93 249.75 L813.66 249.22 L814.39 248.69 L815.11 248.15 L815.84 247.62 L816.57 247.08 L817.29 246.54 L818.02 245.99 L818.74 245.45 L819.47 244.91 L820.20 244.36 L820.92 243.82 L821.65 243.27 L822.38 242.73 L823.10 242.19 L823.83 241.64 L824.56 241.10 L825.28 240.56 L826.01 240.02 L826.73 239.48 L827.46 238.94 L828.19 238.40 L828.91 237.87 L829.64 237.34 L830.37 236.81 L831.09 236.28 L831.82 235.76 L832.55 235.24 L833.27 234.72 L834.00 234.21 L834.73 233.70 L835.45 233.20 L836.18 232.69 L836.90 232.20 L837.63 231.70 L838.36 231.21 L839.08 230.73 L839.81 230.25 L840.54 229.77 L841.26 229.30 L841.99 228.84 L842.72 228.38 L843.44 227.93 L844.17 227.48 L844.89 227.03 L845.62 226.59 L846.35 226.16 L847.07 225.74 L847.80 225.31 L848.53 224.90 L849.25 224.49 L849.98 224.09 L850.71 223.69 L851.43 223.30 L852.16 222.92 L852.88 222.54 L853.61 222.17 L854.34 221.80 L855.06 221.44 L855.79 221.09 L856.52 220.75 L857.24 220.41 L857.97 220.07 L858.70 219.75 L859.42 219.43 L860.15 219.12 L860.88 218.81 L861.60 218.51 L862.33 218.22 L863.05 217.93 L863.78 217.65 L864.51 217.38 L865.23 217.11 L865.96 216.86 L866.69 216.60 L867.41 216.36 L868.14 216.12 L868.87 215.89 L869.59 215.66 L870.32 215.44 L871.04 215.23 L871.77 215.02 L872.50 214.82 L873.22 214.63 L873.95 214.45 L874.68 214.27 L875.40 214.10 L876.13 213.93 L876.86 213.77 L877.58 213.62 L878.31 213.47 L879.03 213.33 L879.76 213.20 L880.49 213.07 L881.21 212.95 L881.94 212.84 L882.67 212.73 L883.39 212.63 L884.12 212.54 L884.85 212.45 L885.57 212.37 L886.30 212.30 L887.02 212.23 L887.75 212.17 L888.48 212.11 L889.20 212.06 L889.93 212.02 L890.66 211.98 L891.38 211.95 L892.11 211.93 L892.84 211.91 L893.56 211.90 L894.29 211.90 L895.02 211.90 L895.74 211.91 L896.47 211.93 L897.19 211.95 L897.92 211.98 L898.65 212.01 L899.37 212.05 L900.10 212.10 L900.83 212.15 L901.55 212.22 L902.28 212.28 L903.01 212.36 L903.73 212.44 L904.46 212.52 L905.18 212.62 L905.91 212.71 L906.64 212.82 L907.36 212.93 L908.09 213.05 L908.82 213.18 L909.54 213.31 L910.27 213.45 L911.00 213.59 L911.72 213.74 L912.45 213.90 L913.17 214.07 L913.90 214.24 L914.63 214.42 L915.35 214.60 L916.08 214.79 L916.81 214.99 L917.53 215.19 L918.26 215.40 L918.99 215.62 L919.71 215.85 L920.44 216.08 L921.17 216.31 L921.89 216.56 L922.62 216.81 L923.34 217.06 L924.07 217.33 L924.80 217.60 L925.52 217.87 L926.25 218.16 L926.98 218.45 L927.70 218.74 L928.43 219.04 L929.16 219.35 L929.88 219.67 L930.61 219.99 L931.33 220.32 L932.06 220.65 L932.79 220.99 L933.51 221.34 L934.24 221.69 L934.97 222.05 L935.69 222.41 L936.42 222.79 L937.15 223.16 L937.87 223.55 L938.60 223.94 L939.33 224.33 L940.05 224.73 L940.78 225.14 L941.50 225.55 L942.23 225.97 L942.96 226.40 L943.68 226.83 L944.41 227.27 L945.14 227.71 L945.86 228.15 L946.59 228.61 L947.32 229.07 L948.04 229.53 L948.77 230.00 L949.49 230.48 L950.22 230.96 L950.95 231.44 L951.67 231.93 L952.40 232.43 L953.13 232.93 L953.85 233.43 L954.58 233.94 L955.31 234.46 L956.03 234.98 L956.76 235.50 L957.48 236.03 L958.21 236.57 L958.94 237.11 L959.66 237.65 L960.39 238.20 L961.12 238.75 L961.84 239.30 L962.57 239.87 L963.30 240.43 L964.02 241.00 L964.75 241.57 L965.48 242.15 L966.20 242.73 L966.93 243.31 L967.65 243.90 L968.38 244.49 L969.11 245.09 L969.83 245.69 L970.56 246.29 L971.29 246.89 L972.01 247.50 L972.74 248.11 L973.47 248.73 L974.19 249.34 L974.92 249.97 L975.64 250.59 L976.37 251.21 L977.10 251.84 L977.82 252.47 L978.55 253.11 L979.28 253.74 L980.00 254.38 L980.73 255.02 L981.46 255.66 L982.18 256.30 L982.91 256.95 L983.63 257.60 L984.36 258.24 L985.09 258.89 L985.81 259.54 L986.54 260.19 L987.27 260.84 L987.99 261.50 L988.72 262.15 L989.45 262.80 L990.17 263.45 L990.90 264.11 L991.62 264.76 L992.35 265.41 L993.08 266.06 L993.80 266.71 L994.53 267.36 L995.26 268.00 L995.98 268.65 L996.71 269.29 L997.44 269.93 L998.16 270.57 L998.89 271.20 L999.62 271.83 L1000.34 272.46 L1001.07 273.09 L1001.79 273.71 L1002.52 274.32 L1003.25 274.93 L1003.97 275.54 L1004.70 276.14 L1005.43 276.74 L1006.15 277.32 L1006.88 277.91 L1007.61 278.48 L1008.33 279.05 L1009.06 279.61 L1009.78 280.16 L1010.51 280.71 L1011.24 281.24 L1011.96 281.77 L1012.69 282.29 L1013.42 282.79 L1014.14 283.29 L1014.87 283.77 L1015.60 284.25 L1016.32 284.71 L1017.05 285.16 L1017.77 285.60 L1018.50 286.02 L1019.23 286.43 L1019.95 286.83 L1020.68 287.22 L1021.41 287.59 L1022.13 287.94 L1022.86 288.28 L1023.59 288.60 L1024.31 288.91 L1025.04 289.20 L1025.77 289.48 L1026.49 289.74 L1027.22 289.98 L1027.94 290.20 L1028.67 290.41 L1029.40 290.60 L1030.12 290.77 L1030.85 290.92 L1031.58 291.05 L1032.30 291.17 L1033.03 291.26 L1033.76 291.34 L1034.48 291.40 L1035.21 291.44 L1035.93 291.46 L1036.66 291.46 L1037.39 291.44 L1038.11 291.40 L1038.84 291.34 L1039.57 291.27 L1040.29 291.17 L1041.02 291.06 L1041.75 290.92 L1042.47 290.77 L1043.20 290.60 L1043.92 290.41 L1044.65 290.21 L1045.38 289.98 L1046.10 289.74 L1046.83 289.48 L1047.56 289.20 L1048.28 288.91 L1049.01 288.60 L1049.74 288.27 L1050.46 287.93 L1051.19 287.58 L1051.92 287.20 L1052.64 286.81 L1053.37 286.41 L1054.09 286.00 L1054.82 285.57 L1055.55 285.12 L1056.27 284.67 L1057.00 284.20 L1057.73 283.72 L1058.45 283.23 L1059.18 282.72 L1059.91 282.21 L1060.63 281.68 L1061.36 281.15 L1062.08 280.61 L1062.81 280.05 L1063.54 279.49 L1064.26 278.92 L1064.99 278.34 L1065.72 277.76 L1066.44 277.16 L1067.17 276.56 L1067.90 275.96 L1068.62 275.35 L1069.35 274.73 L1070.08 274.11 L1070.80 273.48 L1071.53 272.85 L1072.25 272.22 L1072.98 271.58 L1073.71 270.93 L1074.43 270.29 L1075.16 269.64 L1075.89 268.99 L1076.61 268.34 L1077.34 267.69 L1078.07 267.03 L1078.79 266.38 L1079.52 265.72 L1080.24 265.06 L1080.97 264.41 L1081.70 263.75 L1082.42 263.09 L1083.15 262.44 L1083.88 261.78 L1084.60 261.13 L1085.33 260.47 L1086.06 259.82 L1086.78 259.17 L1087.51 258.53 L1088.23 257.88 L1088.96 257.24 L1089.69 256.60 L1090.41 255.96 L1091.14 255.33 L1091.87 254.70 L1092.59 254.07 L1093.32 253.44 L1094.05 252.82 L1094.77 252.21 L1095.50 251.60 L1096.22 250.99 L1096.95 250.38 L1097.68 249.78 L1098.40 249.19 L1099.13 248.60 L1099.86 248.01 L1100.58 247.43 L1101.31 246.85 L1102.04 246.28 L1102.76 245.72 L1103.49 245.16 L1104.22 244.60 L1104.94 244.05 L1105.67 243.51 L1106.39 242.97 L1107.12 242.44 L1107.85 241.91 L1108.57 241.39 L1109.30 240.87 L1110.03 240.36 L1110.75 239.86 L1111.48 239.36 L1112.21 238.87 L1112.93 238.38 L1113.66 237.90 L1114.38 237.43 L1115.11 236.96 L1115.84 236.50 L1116.56 236.04 L1117.29 235.60 L1118.02 235.15 L1118.74 234.72 L1119.47 234.29 L1120.20 233.86 L1120.92 233.45 L1121.65 233.03 L1122.38 232.63 L1123.10 232.23 L1123.83 231.84 L1124.55 231.45 L1125.28 231.07 L1126.01 230.70 L1126.73 230.33 L1127.46 229.97 L1128.19 229.62 L1128.91 229.27 L1129.64 228.93 L1130.37 228.59 L1131.09 228.26 L1131.82 227.94 L1132.54 227.62 L1133.27 227.31 L1134.00 227.01 L1134.72 226.71 L1135.45 226.42 L1136.18 226.13 L1136.90 225.85 L1137.63 225.58 L1138.36 225.31 L1139.08 225.05 L1139.81 224.80 L1140.53 224.55 L1141.26 224.31 L1141.99 224.07 L1142.71 223.84 L1143.44 223.61 L1144.17 223.39 L1144.89 223.18 L1145.62 222.97 L1146.35 222.77 L1147.07 222.58 L1147.80 222.39 L1148.53 222.20 L1149.25 222.03 L1149.98 221.85 L1150.70 221.69 L1151.43 221.53 L1152.16 221.37 L1152.88 221.23 L1153.61 221.08 L1154.34 220.94 L1155.06 220.81 L1155.79 220.69 L1156.52 220.57 L1157.24 220.45 L1157.97 220.34 L1158.69 220.24 L1159.42 220.14 L1160.15 220.05 L1160.87 219.97 L1161.60 219.89 L1162.33 219.81 L1163.05 219.74 L1163.78 219.68 L1164.51 219.62 L1165.23 219.57 L1165.96 219.52 L1166.68 219.48 L1167.41 219.44 L1168.14 219.41 L1168.86 219.39 L1169.59 219.37 L1170.32 219.35 L1171.04 219.34 L1171.77 219.34 L1172.50 219.34 L1173.22 219.35 L1173.95 219.37 L1174.67 219.38 L1175.40 219.41 L1176.13 219.44 L1176.85 219.47 L1177.58 219.51 L1178.31 219.56 L1179.03 219.61 L1179.76 219.67 L1180.49 219.73 L1181.21 219.80 L1181.94 219.87 L1182.67 219.95 L1183.39 220.03 L1184.12 220.12 L1184.84 220.21 L1185.57 220.31 L1186.30 220.42 L1187.02 220.52 L1187.75 220.64 L1188.48 220.76 L1189.20 220.89 L1189.93 221.02 L1190.66 221.15 L1191.38 221.29 L1192.11 221.44 L1192.83 221.59 L1193.56 221.75 L1194.29 221.91 L1195.01 222.07 L1195.74 222.24 L1196.47 222.42 L1197.19 222.60 L1197.92 222.79 L1198.65 222.98 L1199.37 223.18 L1200.10 223.38 L1200.83 223.59 L1201.55 223.80 L1202.28 224.01 L1203.00 224.23 L1203.73 224.46 L1204.46 224.69 L1205.18 224.93 L1205.91 225.17 L1206.64 225.41 L1207.36 225.66 L1208.09 225.92 L1208.82 226.18 L1209.54 226.44 L1210.27 226.71 L1210.99 226.98 L1211.72 227.26 L1212.45 227.54 L1213.17 227.83 L1213.90 228.12 L1214.63 228.42 L1215.35 228.72 L1216.08 229.02 L1216.81 229.33 L1217.53 229.65 L1218.26 229.97 L1218.98 230.29 L1219.71 230.61 L1220.44 230.95 L1221.16 231.28 L1221.89 231.62 L1222.62 231.96 L1223.34 232.31 L1224.07 232.66 L1224.80 233.02 L1225.52 233.38 L1226.25 233.74 L1226.97 234.11 L1227.70 234.48 L1228.43 234.86 L1229.15 235.24 L1229.88 235.62 L1230.61 236.00 L1231.33 236.39 L1232.06 236.79 L1232.79 237.18 L1233.51 237.58 L1234.24 237.99 L1234.97 238.39 L1235.69 238.80 L1236.42 239.21 L1237.14 239.63 L1237.87 240.05 L1238.60 240.47 L1239.32 240.89 L1240.05 241.32 L1240.78 241.75 L1241.50 242.18 L1242.23 242.61 L1242.96 243.04 L1243.68 243.48 L1244.41 243.92 L1245.13 244.36 L1245.86 244.80 L1246.59 245.25 L1247.31 245.69 L1248.04 246.14 L1248.77 246.58 L1249.49 247.03 L1250.22 247.48 L1250.95 247.93 L1251.67 248.38 L1252.40 248.83 L1253.12 249.28 L1253.85 249.73 L1254.58 250.17 L1255.30 250.62 L1256.03 251.07 L1256.76 251.51 L1257.48 251.96 L1258.21 252.40 L1258.94 252.84 L1259.66 253.28 L1260.39 253.72 L1261.12 254.15 L1261.84 254.58 L1262.57 255.01 L1263.29 255.44 L1264.02 255.86 L1264.75 256.28 L1265.47 256.69 L1266.20 257.10 L1266.93 257.50 L1267.65 257.90 L1268.38 258.30 L1269.11 258.69 L1269.83 259.07 L1270.56 259.45 L1271.28 259.82 L1272.01 260.19 L1272.74 260.54 L1273.46 260.89 L1274.19 261.24 L1274.92 261.57 L1275.64 261.90 L1276.37 262.22 L1277.10 262.53 L1277.82 262.83 L1278.55 263.13 L1279.28 263.41 L1280.00 263.69 L1280.73 263.95 L1281.45 264.21 L1282.18 264.45 L1282.91 264.68 L1283.63 264.91 L1284.36 265.12 L1285.09 265.32 L1285.81 265.51 L1286.54 265.69 L1287.27 265.85 L1287.99 266.01 L1288.72 266.15 L1289.44 266.28 L1290.17 266.40 L1290.90 266.50 L1291.62 266.59 L1292.35 266.67 L1293.08 266.74 L1293.80 266.79 L1294.53 266.83 L1295.26 266.86 L1295.98 266.87 L1296.71 266.87 L1297.43 266.86 L1298.16 266.83 L1298.89 266.79 L1299.61 266.74 L1300.34 266.67 L1301.07 266.59 L1301.79 266.50 L1302.52 266.39 L1303.25 266.27 L1303.97 266.13 L1304.70 265.99 L1305.42 265.83 L1306.15 265.66 L1306.88 265.47 L1307.60 265.27 L1308.33 265.06 L1309.06 264.84 L1309.78 264.60 L1310.51 264.35 L1311.24 264.09 L1311.96 263.82 L1312.69 263.54 L1313.42 263.25 L1314.14 262.94 L1314.87 262.62 L1315.59 262.30 L1316.32 261.96 L1317.05 261.61 L1317.77 261.25 L1318.50 260.88" stroke="#EDB120" stroke-dasharray="3 2"/>
</g>
<g font-family="'Liberation Sans', Arial, Helvetica, sans-serif" font-size="33.2" fill="#262626">
<text x="795.5" y="441.4" text-anchor="middle">-180</text>
<text x="926.2" y="441.4" text-anchor="middle">-90</text>
<text x="1057.0" y="441.4" text-anchor="middle">0</text>
<text x="1187.8" y="441.4" text-anchor="middle">90</text>
<text x="1318.5" y="441.4" text-anchor="middle">180</text>
<text x="784.3" y="25.0" text-anchor="end">0</text>
<text x="784.3" y="102.2" text-anchor="end">-5</text>
<text x="784.3" y="179.4" text-anchor="end">-10</text>
<text x="784.3" y="256.5" text-anchor="end">-15</text>
<text x="784.3" y="333.7" text-anchor="end">-20</text>
<text x="784.3" y="410.9" text-anchor="end">-25</text>
</g>
<g font-family="'Liberation Sans', Arial, Helvetica, sans-serif" font-size="36.8" fill="#262626">
<text x="1057.0" y="489.2" text-anchor="middle">Angle (deg.)</text>
<text transform="translate(722.7 205.4) rotate(-90)" text-anchor="middle" font-size="36.6">Normalized Gain (dB)</text>
</g>
<text x="1022.2" y="561.5" text-anchor="middle" font-family="'Liberation Serif', 'Times New Roman', serif" font-size="60" fill="#000">(b)</text>
</svg>
</body></html>
